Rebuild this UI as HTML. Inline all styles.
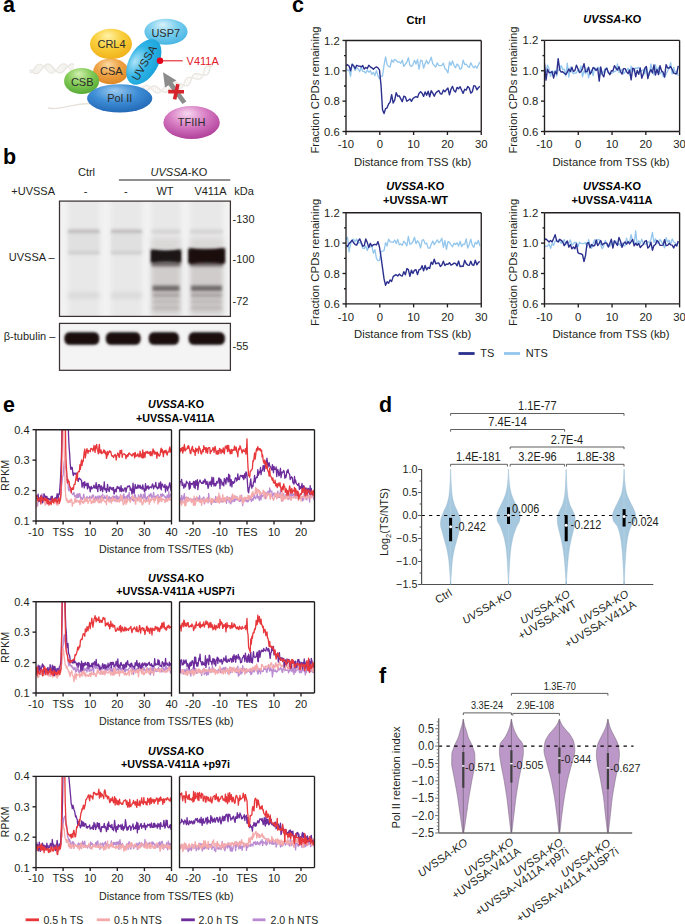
<!DOCTYPE html>
<html><head><meta charset="utf-8"><title>Figure</title>
<style>html,body{margin:0;padding:0;background:#fff;} svg{display:block;} text{font-family:"Liberation Sans", sans-serif;}</style>
</head><body>
<svg width="685" height="924" viewBox="0 0 685 924" font-family='"Liberation Sans", sans-serif'>
<defs><radialGradient id="gCRL4" cx="0.45" cy="0.35" r="0.75" fx="0.42" fy="0.22"><stop offset="0" stop-color="#fff2a8"/><stop offset="0.45" stop-color="#f9cf3c"/><stop offset="1" stop-color="#eeaa10"/></radialGradient><radialGradient id="gCSA" cx="0.45" cy="0.35" r="0.75" fx="0.42" fy="0.22"><stop offset="0" stop-color="#fbd9a0"/><stop offset="0.45" stop-color="#f0a447"/><stop offset="1" stop-color="#d9801a"/></radialGradient><radialGradient id="gCSB" cx="0.45" cy="0.35" r="0.75" fx="0.42" fy="0.22"><stop offset="0" stop-color="#d2f0b0"/><stop offset="0.45" stop-color="#86cc5a"/><stop offset="1" stop-color="#4aa22c"/></radialGradient><radialGradient id="gUSP7" cx="0.45" cy="0.35" r="0.75" fx="0.42" fy="0.22"><stop offset="0" stop-color="#d8f2fb"/><stop offset="0.45" stop-color="#7ccfee"/><stop offset="1" stop-color="#3aaee0"/></radialGradient><radialGradient id="gUVSSA" cx="0.45" cy="0.35" r="0.75" fx="0.42" fy="0.22"><stop offset="0" stop-color="#b0e4f8"/><stop offset="0.45" stop-color="#30b4e6"/><stop offset="1" stop-color="#149ed6"/></radialGradient><radialGradient id="gPOL" cx="0.45" cy="0.35" r="0.75" fx="0.42" fy="0.22"><stop offset="0" stop-color="#9ccbf0"/><stop offset="0.45" stop-color="#3f8ed6"/><stop offset="1" stop-color="#1b5fae"/></radialGradient><radialGradient id="gTFIIH" cx="0.45" cy="0.35" r="0.75" fx="0.42" fy="0.22"><stop offset="0" stop-color="#f8d8f0"/><stop offset="0.45" stop-color="#d77cc3"/><stop offset="1" stop-color="#a6308f"/></radialGradient><filter id="bl2" x="-30%" y="-80%" width="160%" height="260%"><feGaussianBlur stdDeviation="1.6"/></filter><filter id="bl1" x="-30%" y="-80%" width="160%" height="260%"><feGaussianBlur stdDeviation="1.2"/></filter><filter id="bl3" x="-30%" y="-80%" width="160%" height="260%"><feGaussianBlur stdDeviation="2.5"/></filter><clipPath id="cpb1"><rect x="59.5" y="201" width="171" height="115"/></clipPath><clipPath id="cpb2"><rect x="59.5" y="323.5" width="171" height="46.5"/></clipPath><clipPath id="cp1"><rect x="346.0" y="40.45" width="135.25" height="91.05"/></clipPath><clipPath id="cp2"><rect x="544.5" y="40.4" width="135.10000000000002" height="91.1"/></clipPath><clipPath id="cp3"><rect x="346.0" y="212.7" width="135.25" height="91.19999999999999"/></clipPath><clipPath id="cp4"><rect x="544.5" y="212.7" width="135.10000000000002" height="91.19999999999999"/></clipPath><clipPath id="cp5"><rect x="36.0" y="429.7" width="135.5" height="91.30000000000001"/></clipPath><clipPath id="cp6"><rect x="179.5" y="429.7" width="135.0" height="91.30000000000001"/></clipPath><clipPath id="cp7"><rect x="36.0" y="601.7" width="135.5" height="91.29999999999995"/></clipPath><clipPath id="cp8"><rect x="179.5" y="601.7" width="135.0" height="91.29999999999995"/></clipPath><clipPath id="cp9"><rect x="36.0" y="776.4" width="135.5" height="91.20000000000005"/></clipPath><clipPath id="cp10"><rect x="179.5" y="776.4" width="135.0" height="91.20000000000005"/></clipPath></defs>
<rect width="685" height="924" fill="#fff"/>
<text transform="translate(3 11.8) scale(0.95 1)" font-size="22.6" font-weight="bold" fill="#000">a</text>
<line x1="30.00" y1="69.50" x2="30.25" y2="73.21" stroke="#ebe7e0" stroke-width="0.6"/>
<line x1="31.20" y1="70.75" x2="31.30" y2="72.20" stroke="#ebe7e0" stroke-width="0.6"/>
<line x1="32.39" y1="71.89" x2="32.33" y2="70.96" stroke="#ebe7e0" stroke-width="0.6"/>
<line x1="33.56" y1="72.81" x2="33.36" y2="69.58" stroke="#ebe7e0" stroke-width="0.6"/>
<line x1="34.70" y1="73.44" x2="34.39" y2="68.18" stroke="#ebe7e0" stroke-width="0.6"/>
<line x1="35.83" y1="73.72" x2="35.44" y2="66.87" stroke="#ebe7e0" stroke-width="0.6"/>
<line x1="36.93" y1="73.61" x2="36.50" y2="65.76" stroke="#ebe7e0" stroke-width="0.6"/>
<line x1="38.01" y1="73.12" x2="37.58" y2="64.93" stroke="#ebe7e0" stroke-width="0.6"/>
<line x1="39.08" y1="72.28" x2="38.69" y2="64.45" stroke="#ebe7e0" stroke-width="0.6"/>
<line x1="40.13" y1="71.17" x2="39.81" y2="64.36" stroke="#ebe7e0" stroke-width="0.6"/>
<line x1="41.18" y1="69.87" x2="40.95" y2="64.65" stroke="#ebe7e0" stroke-width="0.6"/>
<line x1="42.24" y1="68.49" x2="42.10" y2="65.31" stroke="#ebe7e0" stroke-width="0.6"/>
<line x1="43.30" y1="67.14" x2="43.27" y2="66.26" stroke="#ebe7e0" stroke-width="0.6"/>
<line x1="44.37" y1="65.93" x2="44.43" y2="67.43" stroke="#ebe7e0" stroke-width="0.6"/>
<line x1="45.46" y1="64.96" x2="45.60" y2="68.71" stroke="#ebe7e0" stroke-width="0.6"/>
<line x1="46.56" y1="64.30" x2="46.75" y2="69.99" stroke="#ebe7e0" stroke-width="0.6"/>
<line x1="47.68" y1="64.02" x2="47.90" y2="71.17" stroke="#ebe7e0" stroke-width="0.6"/>
<line x1="48.81" y1="64.13" x2="49.04" y2="72.12" stroke="#ebe7e0" stroke-width="0.6"/>
<line x1="49.95" y1="64.61" x2="50.16" y2="72.79" stroke="#ebe7e0" stroke-width="0.6"/>
<line x1="51.09" y1="65.43" x2="51.28" y2="73.09" stroke="#ebe7e0" stroke-width="0.6"/>
<line x1="52.23" y1="66.52" x2="52.38" y2="73.01" stroke="#ebe7e0" stroke-width="0.6"/>
<line x1="53.38" y1="67.77" x2="53.47" y2="72.56" stroke="#ebe7e0" stroke-width="0.6"/>
<line x1="54.52" y1="69.09" x2="54.56" y2="71.76" stroke="#ebe7e0" stroke-width="0.6"/>
<line x1="55.65" y1="70.35" x2="55.65" y2="70.68" stroke="#ebe7e0" stroke-width="0.6"/>
<line x1="56.77" y1="71.46" x2="56.75" y2="69.42" stroke="#ebe7e0" stroke-width="0.6"/>
<line x1="57.89" y1="72.31" x2="57.84" y2="68.07" stroke="#ebe7e0" stroke-width="0.6"/>
<line x1="59.00" y1="72.83" x2="58.95" y2="66.75" stroke="#ebe7e0" stroke-width="0.6"/>
<line x1="60.10" y1="72.98" x2="60.06" y2="65.58" stroke="#ebe7e0" stroke-width="0.6"/>
<line x1="61.21" y1="72.75" x2="61.18" y2="64.64" stroke="#ebe7e0" stroke-width="0.6"/>
<line x1="62.31" y1="72.15" x2="62.30" y2="64.03" stroke="#ebe7e0" stroke-width="0.6"/>
<line x1="63.42" y1="71.23" x2="63.42" y2="63.78" stroke="#ebe7e0" stroke-width="0.6"/>
<line x1="64.53" y1="70.07" x2="64.55" y2="63.92" stroke="#ebe7e0" stroke-width="0.6"/>
<line x1="65.64" y1="68.78" x2="65.67" y2="64.44" stroke="#ebe7e0" stroke-width="0.6"/>
<line x1="66.77" y1="67.45" x2="66.78" y2="65.30" stroke="#ebe7e0" stroke-width="0.6"/>
<line x1="67.90" y1="66.21" x2="67.89" y2="66.42" stroke="#ebe7e0" stroke-width="0.6"/>
<line x1="69.03" y1="65.15" x2="69.00" y2="67.71" stroke="#ebe7e0" stroke-width="0.6"/>
<line x1="70.16" y1="64.37" x2="70.09" y2="69.06" stroke="#ebe7e0" stroke-width="0.6"/>
<line x1="71.29" y1="63.94" x2="71.18" y2="70.36" stroke="#ebe7e0" stroke-width="0.6"/>
<line x1="72.42" y1="63.89" x2="72.27" y2="71.51" stroke="#ebe7e0" stroke-width="0.6"/>
<line x1="73.54" y1="64.22" x2="73.36" y2="72.39" stroke="#ebe7e0" stroke-width="0.6"/>
<path d="M30.00,69.50 L30.60,70.13 L31.20,70.75 L31.80,71.34 L32.39,71.89 L32.98,72.38 L33.56,72.81 L34.13,73.17 L34.70,73.44 L35.27,73.63 L35.83,73.72 L36.38,73.71 L36.93,73.61 L37.47,73.41 L38.01,73.12 L38.54,72.74 L39.08,72.28 L39.61,71.76 L40.13,71.17 L40.66,70.54 L41.18,69.87 L41.71,69.19 L42.24,68.49 L42.77,67.81 L43.30,67.14 L43.84,66.51 L44.37,65.93 L44.92,65.41 L45.46,64.96 L46.01,64.59 L46.56,64.30 L47.12,64.11 L47.68,64.02 L48.24,64.02 L48.81,64.13 L49.38,64.32 L49.95,64.61 L50.52,64.98 L51.09,65.43 L51.66,65.95 L52.23,66.52 L52.81,67.13 L53.38,67.77 L53.95,68.43 L54.52,69.09 L55.08,69.73 L55.65,70.35 L56.21,70.93 L56.77,71.46 L57.33,71.92 L57.89,72.31 L58.45,72.61 L59.00,72.83 L59.55,72.95 L60.10,72.98 L60.66,72.91 L61.21,72.75 L61.76,72.49 L62.31,72.15 L62.86,71.72 L63.42,71.23 L63.97,70.68 L64.53,70.07 L65.08,69.44 L65.64,68.78 L66.20,68.11 L66.77,67.45 L67.33,66.81 L67.90,66.21 L68.46,65.65 L69.03,65.15 L69.59,64.72 L70.16,64.37 L70.73,64.11 L71.29,63.94 L71.86,63.86 L72.42,63.89 L72.98,64.01 L73.54,64.22 L74.09,64.53" fill="none" stroke="#e8e5df" stroke-width="1.3"/>
<path d="M30.25,73.21 L30.78,72.74 L31.30,72.20 L31.81,71.60 L32.33,70.96 L32.84,70.28 L33.36,69.58 L33.88,68.88 L34.39,68.18 L34.92,67.51 L35.44,66.87 L35.97,66.29 L36.50,65.76 L37.04,65.30 L37.58,64.93 L38.13,64.64 L38.69,64.45 L39.25,64.35 L39.81,64.36 L40.38,64.46 L40.95,64.65 L41.52,64.94 L42.10,65.31 L42.68,65.75 L43.27,66.26 L43.85,66.82 L44.43,67.43 L45.01,68.06 L45.60,68.71 L46.18,69.36 L46.75,69.99 L47.33,70.60 L47.90,71.17 L48.47,71.68 L49.04,72.12 L49.60,72.50 L50.16,72.79 L50.72,72.99 L51.28,73.09 L51.83,73.10 L52.38,73.01 L52.93,72.83 L53.47,72.56 L54.02,72.20 L54.56,71.76 L55.11,71.25 L55.65,70.68 L56.20,70.06 L56.75,69.42 L57.30,68.75 L57.84,68.07 L58.40,67.40 L58.95,66.75 L59.50,66.14 L60.06,65.58 L60.62,65.08 L61.18,64.64 L61.74,64.29 L62.30,64.03 L62.86,63.85 L63.42,63.78 L63.98,63.80 L64.55,63.92 L65.11,64.14 L65.67,64.44 L66.23,64.83 L66.78,65.30 L67.34,65.83 L67.89,66.42 L68.45,67.05 L69.00,67.71 L69.54,68.39 L70.09,69.06 L70.64,69.73 L71.18,70.36 L71.73,70.96 L72.27,71.51 L72.81,71.99 L73.36,72.39 L73.91,72.72" fill="none" stroke="#ece9e3" stroke-width="1.3"/>
<line x1="138.00" y1="87.00" x2="137.20" y2="89.80" stroke="#ebe7e0" stroke-width="0.6"/>
<line x1="139.28" y1="89.19" x2="139.35" y2="88.93" stroke="#ebe7e0" stroke-width="0.6"/>
<line x1="140.77" y1="90.90" x2="141.53" y2="87.63" stroke="#ebe7e0" stroke-width="0.6"/>
<line x1="142.50" y1="91.81" x2="143.60" y2="86.32" stroke="#ebe7e0" stroke-width="0.6"/>
<line x1="144.42" y1="91.77" x2="145.49" y2="85.44" stroke="#ebe7e0" stroke-width="0.6"/>
<line x1="146.45" y1="90.86" x2="147.21" y2="85.31" stroke="#ebe7e0" stroke-width="0.6"/>
<line x1="148.46" y1="89.39" x2="148.82" y2="86.03" stroke="#ebe7e0" stroke-width="0.6"/>
<line x1="150.39" y1="87.77" x2="150.41" y2="87.49" stroke="#ebe7e0" stroke-width="0.6"/>
<line x1="152.20" y1="86.47" x2="152.06" y2="89.36" stroke="#ebe7e0" stroke-width="0.6"/>
<line x1="153.92" y1="85.85" x2="153.82" y2="91.19" stroke="#ebe7e0" stroke-width="0.6"/>
<line x1="155.63" y1="86.12" x2="155.70" y2="92.52" stroke="#ebe7e0" stroke-width="0.6"/>
<line x1="157.39" y1="87.20" x2="157.62" y2="92.99" stroke="#ebe7e0" stroke-width="0.6"/>
<line x1="159.27" y1="88.82" x2="159.52" y2="92.45" stroke="#ebe7e0" stroke-width="0.6"/>
<line x1="161.27" y1="90.52" x2="161.32" y2="91.01" stroke="#ebe7e0" stroke-width="0.6"/>
<line x1="163.33" y1="91.79" x2="162.99" y2="89.00" stroke="#ebe7e0" stroke-width="0.6"/>
<line x1="165.37" y1="92.22" x2="164.57" y2="86.93" stroke="#ebe7e0" stroke-width="0.6"/>
<line x1="167.27" y1="91.60" x2="166.14" y2="85.29" stroke="#ebe7e0" stroke-width="0.6"/>
<line x1="168.97" y1="90.01" x2="167.83" y2="84.49" stroke="#ebe7e0" stroke-width="0.6"/>
<line x1="170.48" y1="87.78" x2="169.75" y2="84.66" stroke="#ebe7e0" stroke-width="0.6"/>
<line x1="171.89" y1="85.45" x2="171.94" y2="85.65" stroke="#ebe7e0" stroke-width="0.6"/>
<line x1="173.36" y1="83.59" x2="174.35" y2="87.04" stroke="#ebe7e0" stroke-width="0.6"/>
<line x1="175.06" y1="82.62" x2="176.82" y2="88.23" stroke="#ebe7e0" stroke-width="0.6"/>
<line x1="177.12" y1="82.68" x2="179.15" y2="88.67" stroke="#ebe7e0" stroke-width="0.6"/>
<line x1="179.54" y1="83.58" x2="181.15" y2="88.00" stroke="#ebe7e0" stroke-width="0.6"/>
<line x1="182.21" y1="84.81" x2="182.75" y2="86.19" stroke="#ebe7e0" stroke-width="0.6"/>
<line x1="184.87" y1="85.70" x2="183.99" y2="83.59" stroke="#ebe7e0" stroke-width="0.6"/>
<line x1="187.23" y1="85.67" x2="185.10" y2="80.82" stroke="#ebe7e0" stroke-width="0.6"/>
<line x1="189.09" y1="84.40" x2="186.39" y2="78.58" stroke="#ebe7e0" stroke-width="0.6"/>
<line x1="190.43" y1="82.02" x2="188.16" y2="77.39" stroke="#ebe7e0" stroke-width="0.6"/>
<line x1="191.42" y1="79.05" x2="190.55" y2="77.35" stroke="#ebe7e0" stroke-width="0.6"/>
<line x1="192.45" y1="76.24" x2="193.46" y2="78.12" stroke="#ebe7e0" stroke-width="0.6"/>
<line x1="193.93" y1="74.32" x2="196.55" y2="79.00" stroke="#ebe7e0" stroke-width="0.6"/>
<line x1="196.13" y1="73.64" x2="199.36" y2="79.16" stroke="#ebe7e0" stroke-width="0.6"/>
<line x1="199.05" y1="74.03" x2="201.50" y2="78.05" stroke="#ebe7e0" stroke-width="0.6"/>
<line x1="202.34" y1="74.82" x2="202.83" y2="75.59" stroke="#ebe7e0" stroke-width="0.6"/>
<line x1="205.43" y1="75.09" x2="203.60" y2="72.30" stroke="#ebe7e0" stroke-width="0.6"/>
<line x1="207.79" y1="74.12" x2="204.37" y2="69.08" stroke="#ebe7e0" stroke-width="0.6"/>
<line x1="209.19" y1="71.69" x2="205.78" y2="66.82" stroke="#ebe7e0" stroke-width="0.6"/>
<line x1="209.88" y1="68.27" x2="208.20" y2="65.95" stroke="#ebe7e0" stroke-width="0.6"/>
<line x1="210.51" y1="64.83" x2="211.53" y2="66.20" stroke="#ebe7e0" stroke-width="0.6"/>
<path d="M138.00,87.00 L138.62,88.12 L139.28,89.19 L139.99,90.13 L140.77,90.90 L141.61,91.47 L142.50,91.81 L143.44,91.91 L144.42,91.77 L145.43,91.41 L146.45,90.86 L147.46,90.17 L148.46,89.39 L149.44,88.56 L150.39,87.77 L151.31,87.05 L152.20,86.47 L153.07,86.06 L153.92,85.85 L154.77,85.87 L155.63,86.12 L156.50,86.57 L157.39,87.20 L158.32,87.97 L159.27,88.82 L160.26,89.69 L161.27,90.52 L162.30,91.24 L163.33,91.79 L164.36,92.13 L165.37,92.22 L166.34,92.04 L167.27,91.60 L168.15,90.91 L168.97,90.01 L169.75,88.94 L170.48,87.78 L171.19,86.59 L171.89,85.45 L172.61,84.43 L173.36,83.59 L174.17,82.97 L175.06,82.62 L176.04,82.52 L177.12,82.68 L178.29,83.05 L179.54,83.58 L180.86,84.19 L182.21,84.81 L183.56,85.34 L184.87,85.70 L186.10,85.83 L187.23,85.67 L188.23,85.19 L189.09,84.40 L189.82,83.33 L190.43,82.02 L190.95,80.56 L191.42,79.05 L191.90,77.57 L192.45,76.24 L193.11,75.14 L193.93,74.32 L194.93,73.83 L196.13,73.64 L197.52,73.74 L199.05,74.03 L200.68,74.43 L202.34,74.82 L203.94,75.07 L205.43,75.09 L206.72,74.79 L207.79,74.12 L208.60,73.07 L209.19,71.69 L209.59,70.05 L209.88,68.27 L210.15,66.49 L210.51,64.83 L211.06,63.42" fill="none" stroke="#e8e5df" stroke-width="1.3"/>
<path d="M137.20,89.80 L138.25,89.44 L139.35,88.93 L140.44,88.31 L141.53,87.63 L142.58,86.94 L143.60,86.32 L144.57,85.80 L145.49,85.44 L146.37,85.27 L147.21,85.31 L148.02,85.57 L148.82,86.03 L149.61,86.69 L150.41,87.49 L151.22,88.40 L152.06,89.36 L152.93,90.31 L153.82,91.19 L154.75,91.94 L155.70,92.52 L156.66,92.87 L157.62,92.99 L158.58,92.84 L159.52,92.45 L160.43,91.82 L161.32,91.01 L162.17,90.05 L162.99,89.00 L163.78,87.94 L164.57,86.93 L165.35,86.03 L166.14,85.29 L166.96,84.77 L167.83,84.49 L168.76,84.46 L169.75,84.66 L170.82,85.08 L171.94,85.65 L173.13,86.33 L174.35,87.04 L175.58,87.70 L176.82,88.23 L178.01,88.58 L179.15,88.67 L180.20,88.49 L181.15,88.00 L182.00,87.22 L182.75,86.19 L183.40,84.95 L183.99,83.59 L184.54,82.18 L185.10,80.82 L185.70,79.60 L186.39,78.58 L187.20,77.84 L188.16,77.39 L189.28,77.23 L190.55,77.35 L191.96,77.67 L193.46,78.12 L195.01,78.60 L196.55,79.00 L198.02,79.22 L199.36,79.16 L200.53,78.79 L201.50,78.05 L202.26,76.97 L202.83,75.59 L203.25,74.00 L203.60,72.30 L203.95,70.62 L204.37,69.08 L204.97,67.79 L205.78,66.82 L206.86,66.21 L208.20,65.95 L209.78,65.98 L211.53,66.20 L213.36,66.48" fill="none" stroke="#ece9e3" stroke-width="1.3"/>
<path d="M48,108 C60,110.5 72,103.5 90,103.5" fill="none" stroke="#e6e2da" stroke-width="1.5"/>
<ellipse cx="111" cy="44" rx="21" ry="15.2" fill="url(#gCRL4)"/>
<ellipse cx="166" cy="31.8" rx="21.6" ry="13" fill="url(#gUSP7)"/>
<ellipse cx="110.8" cy="71.4" rx="17.5" ry="12.8" fill="url(#gCSA)"/>
<ellipse cx="81.6" cy="81" rx="17.5" ry="13" fill="url(#gCSB)"/>
<ellipse cx="143.8" cy="62" rx="24.9" ry="14.4" fill="url(#gUVSSA)" transform="rotate(-60 143.8 62)"/>
<ellipse cx="119.7" cy="98.4" rx="32.6" ry="14.2" fill="url(#gPOL)"/>
<ellipse cx="191.6" cy="122.5" rx="28.2" ry="16.6" fill="url(#gTFIIH)"/>
<text x="111.50" y="48.40" font-size="11" text-anchor="middle" fill="#2b2b2b" >CRL4</text>
<text x="165.80" y="36.60" font-size="11" text-anchor="middle" fill="#2b2b2b" >USP7</text>
<text x="111.30" y="75.30" font-size="11" text-anchor="middle" fill="#2b2b2b" >CSA</text>
<text x="82.20" y="85.50" font-size="11" text-anchor="middle" fill="#2b2b2b" >CSB</text>
<text x="119.80" y="101.50" font-size="11" text-anchor="middle" fill="#2b2b2b" >Pol II</text>
<text x="191.60" y="126.20" font-size="11" text-anchor="middle" fill="#2b2b2b" >TFIIH</text>
<text x="147.60" y="64.90" font-size="11.3" text-anchor="middle" fill="#2b2b2b" transform="rotate(-60 147.60 64.90)" >UVSSA</text>
<g fill="#8c8c8c">
<polygon points="163,72.3 176.5,80.5 172.6,82.6 186.4,101.4 182.4,104 168.6,85.2 165,87.6"/>
</g>
<g stroke="#d7232b" stroke-width="3.6" stroke-linecap="butt">
<line x1="168.2" y1="91.6" x2="184" y2="91.8"/><line x1="177.9" y1="84.2" x2="174.6" y2="99.3"/>
</g>
<line x1="160.00" y1="60.80" x2="182.70" y2="60.80" stroke="#e3202a" stroke-width="1.1" />
<circle cx="160" cy="60.8" r="3.2" fill="#e3001b"/>
<text x="186.60" y="64.70" font-size="11" text-anchor="start" fill="#e3202a" >V411A</text>
<text transform="translate(3 163.5) scale(0.95 1)" font-size="22.6" font-weight="bold" fill="#000">b</text>
<text x="86.50" y="176.00" font-size="11" text-anchor="middle" fill="#231f20" >Ctrl</text>
<text x="179" y="176" font-size="11" text-anchor="middle" fill="#231f20"><tspan font-style="italic">UVSSA</tspan>-KO</text>
<line x1="118.90" y1="180.00" x2="230.30" y2="180.00" stroke="#231f20" stroke-width="1" />
<text x="11.30" y="194.80" font-size="11" text-anchor="start" fill="#231f20" >+UVSSA</text>
<text x="85.50" y="194.80" font-size="11" text-anchor="middle" fill="#231f20" >-</text>
<text x="125.80" y="194.80" font-size="11" text-anchor="middle" fill="#231f20" >-</text>
<text x="165.00" y="194.80" font-size="11" text-anchor="middle" fill="#231f20" >WT</text>
<text x="210.50" y="194.80" font-size="11" text-anchor="middle" fill="#231f20" >V411A</text>
<text x="234.20" y="194.80" font-size="11" text-anchor="start" fill="#231f20" >kDa</text>
<text x="232.50" y="223.20" font-size="11" text-anchor="start" fill="#231f20" >-130</text>
<text x="232.50" y="262.80" font-size="11" text-anchor="start" fill="#231f20" >-100</text>
<text x="232.50" y="304.80" font-size="11" text-anchor="start" fill="#231f20" >-72</text>
<text x="232.50" y="350.10" font-size="11" text-anchor="start" fill="#231f20" >-55</text>
<text x="8.80" y="260.50" font-size="11" text-anchor="start" fill="#231f20" >UVSSA –</text>
<text x="3.80" y="340.00" font-size="11" text-anchor="start" fill="#231f20" >β-tubulin –</text>
<rect x="59.5" y="201.1" width="170.9" height="115.3" fill="#f2f2f2"/>
<g clip-path="url(#cpb1)">
<rect x="68" y="196" width="31.599999999999994" height="125" fill="#e8e8e8" filter="url(#bl3)"/>
<rect x="111" y="196" width="31" height="125" fill="#e8e8e8" filter="url(#bl3)"/>
<rect x="151.5" y="196" width="29.0" height="125" fill="#e8e8e8" filter="url(#bl3)"/>
<rect x="190" y="196" width="33" height="125" fill="#e8e8e8" filter="url(#bl3)"/>
<rect x="68" y="229.4" width="31.599999999999994" height="4.2" fill="#8a8282" opacity="0.42" filter="url(#bl2)"/>
<rect x="111" y="229.4" width="31" height="4.2" fill="#8a8282" opacity="0.42" filter="url(#bl2)"/>
<rect x="151.5" y="229.4" width="29.0" height="4.2" fill="#8a8282" opacity="0.2" filter="url(#bl2)"/>
<rect x="190" y="229.4" width="33" height="4.2" fill="#8a8282" opacity="0.2" filter="url(#bl2)"/>
<rect x="68" y="234" width="31.599999999999994" height="18" fill="#d8d8d8" opacity="0.5" filter="url(#bl2)"/>
<rect x="68" y="251.2" width="31.599999999999994" height="3.4" fill="#a09a9a" opacity="0.32" filter="url(#bl2)"/>
<rect x="68" y="293" width="31.599999999999994" height="5" fill="#b0aaaa" opacity="0.3" filter="url(#bl3)"/>
<rect x="111" y="234" width="31" height="18" fill="#d8d8d8" opacity="0.5" filter="url(#bl2)"/>
<rect x="111" y="251.2" width="31" height="3.4" fill="#a09a9a" opacity="0.32" filter="url(#bl2)"/>
<rect x="111" y="293" width="31" height="5" fill="#b0aaaa" opacity="0.3" filter="url(#bl3)"/>
<rect x="151.5" y="238" width="29.0" height="14" fill="#d0cccc" opacity="0.6" filter="url(#bl3)"/>
<rect x="151.5" y="262" width="29.0" height="52" fill="#cac5c5" opacity="0.8" filter="url(#bl3)"/>
<rect x="151.5" y="260.5" width="29.0" height="6" fill="#4a4040" opacity="0.7" filter="url(#bl2)"/>
<rect x="152.5" y="285.6" width="27.0" height="5.4" fill="#4a4242" opacity="0.7" filter="url(#bl2)"/>
<rect x="152.5" y="293" width="27.0" height="4.4" fill="#6a6262" opacity="0.35" filter="url(#bl2)"/>
<rect x="152.5" y="300" width="27.0" height="3.5" fill="#7a7272" opacity="0.2" filter="url(#bl2)"/>
<rect x="152.5" y="306" width="27.0" height="3.5" fill="#7a7272" opacity="0.2" filter="url(#bl2)"/>
<rect x="190" y="238" width="33" height="14" fill="#d0cccc" opacity="0.6" filter="url(#bl3)"/>
<rect x="190" y="262" width="33" height="52" fill="#cac5c5" opacity="0.8" filter="url(#bl3)"/>
<rect x="190" y="260.5" width="33" height="6" fill="#4a4040" opacity="0.7" filter="url(#bl2)"/>
<rect x="191" y="285.6" width="31" height="5.4" fill="#4a4242" opacity="0.7" filter="url(#bl2)"/>
<rect x="191" y="293" width="31" height="4.4" fill="#6a6262" opacity="0.35" filter="url(#bl2)"/>
<rect x="191" y="300" width="31" height="3.5" fill="#7a7272" opacity="0.2" filter="url(#bl2)"/>
<rect x="191" y="306" width="31" height="3.5" fill="#7a7272" opacity="0.2" filter="url(#bl2)"/>
<path d="M150.8,249.6 Q166,252 181.2,249.4 L181.2,262.4 Q166,260.5 150.8,262.6 Z" fill="#1e1414" filter="url(#bl2)"/>
<path d="M188.4,248.2 Q206,250.6 225,248 L225,263.6 Q206,261.5 188.4,263.8 Z" fill="#1a1010" filter="url(#bl2)"/>
<path d="M152,250.8 Q166,252.8 180,250.6 L180,261 Q166,259.5 152,261.2 Z" fill="#1e1414" filter="url(#bl1)"/>
<path d="M189.6,249.4 Q206,251.8 223.8,249.2 L223.8,262.4 Q206,260.5 189.6,262.6 Z" fill="#1a1010" filter="url(#bl1)"/>
</g>
<rect x="59.5" y="201.1" width="170.9" height="115.3" fill="none" stroke="#3b3333" stroke-width="1.25"/>
<rect x="59.5" y="323.4" width="170.9" height="46.9" fill="#f4f4f4"/>
<g clip-path="url(#cpb2)">
<rect x="64.7" y="332.6" width="34.3" height="12" rx="5" fill="#1a1010" filter="url(#bl2)"/>
<rect x="65.7" y="333.6" width="32.3" height="10" rx="4" fill="#1a1010" filter="url(#bl1)"/>
<rect x="106.1" y="332.6" width="34.20000000000002" height="12" rx="5" fill="#1a1010" filter="url(#bl2)"/>
<rect x="107.1" y="333.6" width="32.20000000000002" height="10" rx="4" fill="#1a1010" filter="url(#bl1)"/>
<rect x="149.0" y="332.6" width="29.69999999999999" height="12" rx="5" fill="#1a1010" filter="url(#bl2)"/>
<rect x="150.0" y="333.6" width="27.69999999999999" height="10" rx="4" fill="#1a1010" filter="url(#bl1)"/>
<rect x="188.9" y="332.6" width="35.69999999999999" height="12" rx="5" fill="#1a1010" filter="url(#bl2)"/>
<rect x="189.9" y="333.6" width="33.69999999999999" height="10" rx="4" fill="#1a1010" filter="url(#bl1)"/>
</g>
<rect x="59.5" y="323.4" width="170.9" height="46.9" fill="none" stroke="#3b3333" stroke-width="1.25"/>
<text transform="translate(292.0 11.9) scale(0.95 1)" font-size="22.6" font-weight="bold" fill="#000">c</text>
<g clip-path="url(#cp1)" fill="none" stroke-linejoin="round">
<path d="M346.00,67.95 L347.52,70.28 L349.04,70.12 L350.56,76.45 L352.09,63.74 L353.61,65.90 L355.13,70.54 L356.65,67.37 L358.17,69.04 L359.69,71.74 L361.22,67.26 L362.74,71.34 L364.26,71.57 L365.78,73.15 L367.30,69.87 L368.82,72.24 L370.34,70.74 L371.87,74.41 L373.39,72.35 L374.91,75.61 L376.43,70.52 L377.95,75.85 L379.47,78.77 L381.00,76.26 L382.52,75.99 L384.04,65.08 L385.56,56.82 L387.08,64.56 L388.60,66.35 L390.13,67.03 L391.65,59.95 L393.17,62.17 L394.69,59.33 L396.21,60.46 L397.73,62.06 L399.25,61.89 L400.78,63.32 L402.30,60.21 L403.82,66.33 L405.34,64.23 L406.86,62.26 L408.38,57.58 L409.91,65.41 L411.43,66.42 L412.95,64.90 L414.47,60.33 L415.99,64.09 L417.51,59.45 L419.03,69.26 L420.56,60.25 L422.08,60.64 L423.60,68.19 L425.12,63.52 L426.64,60.40 L428.16,63.92 L429.69,61.26 L431.21,57.19 L432.73,63.67 L434.25,65.45 L435.77,67.04 L437.29,62.84 L438.82,65.51 L440.34,65.55 L441.86,65.43 L443.38,63.24 L444.90,68.55 L446.42,70.06 L447.94,72.88 L449.47,61.85 L450.99,65.26 L452.51,60.91 L454.03,65.52 L455.55,67.74 L457.07,64.04 L458.60,65.72 L460.12,69.30 L461.64,68.17 L463.16,60.13 L464.68,64.41 L466.20,64.23 L467.72,66.33 L469.25,67.58 L470.77,62.78 L472.29,65.81 L473.81,67.79 L475.33,65.90 L476.85,68.24 L478.38,64.91 L479.90,62.06" stroke="#93c6ec" stroke-width="1.3"/>
<path d="M346.00,66.01 L347.52,64.64 L349.04,66.05 L350.56,70.76 L352.09,64.40 L353.61,65.72 L355.13,68.55 L356.65,65.33 L358.17,65.96 L359.69,66.16 L361.22,66.92 L362.74,65.43 L364.26,69.13 L365.78,67.48 L367.30,68.40 L368.82,65.28 L370.34,66.89 L371.87,67.85 L373.39,69.26 L374.91,67.75 L376.43,66.98 L377.95,67.80 L379.47,69.85 L381.00,85.03 L382.52,109.80 L384.04,113.58 L385.56,108.63 L387.08,107.81 L388.60,104.01 L390.13,102.08 L391.65,94.71 L393.17,103.01 L394.69,100.13 L396.21,92.67 L397.73,96.28 L399.25,95.82 L400.78,98.81 L402.30,101.67 L403.82,96.23 L405.34,96.91 L406.86,101.27 L408.38,100.22 L409.91,98.97 L411.43,101.33 L412.95,98.55 L414.47,97.37 L415.99,96.68 L417.51,97.39 L419.03,93.37 L420.56,91.74 L422.08,93.27 L423.60,96.44 L425.12,91.86 L426.64,95.30 L428.16,91.20 L429.69,96.72 L431.21,90.74 L432.73,93.03 L434.25,96.16 L435.77,93.06 L437.29,91.59 L438.82,90.55 L440.34,93.75 L441.86,93.93 L443.38,90.04 L444.90,91.84 L446.42,89.70 L447.94,88.07 L449.47,94.89 L450.99,89.29 L452.51,86.37 L454.03,90.64 L455.55,92.00 L457.07,87.37 L458.60,88.69 L460.12,86.72 L461.64,90.18 L463.16,93.34 L464.68,89.26 L466.20,90.11 L467.72,86.47 L469.25,88.01 L470.77,93.14 L472.29,91.74 L473.81,85.61 L475.33,86.06 L476.85,89.73 L478.38,87.75 L479.90,86.33" stroke="#2b2f8e" stroke-width="1.4"/>
</g>
<path d="M346.0,40.45 L346.0,131.5 L481.25,131.5" fill="none" stroke="#231f20" stroke-width="1.35"/>
<line x1="346.00" y1="40.45" x2="481.25" y2="40.45" stroke="#231f20" stroke-width="1.35" />
<line x1="481.25" y1="40.45" x2="481.25" y2="131.50" stroke="#231f20" stroke-width="1.35" />
<line x1="342.50" y1="131.50" x2="346.00" y2="131.50" stroke="#231f20" stroke-width="1.35" />
<text x="339.70" y="135.57" font-size="11.3" text-anchor="end" fill="#231f20" >0.6</text>
<line x1="342.50" y1="101.15" x2="346.00" y2="101.15" stroke="#231f20" stroke-width="1.35" />
<text x="339.70" y="105.22" font-size="11.3" text-anchor="end" fill="#231f20" >0.8</text>
<line x1="342.50" y1="70.80" x2="346.00" y2="70.80" stroke="#231f20" stroke-width="1.35" />
<text x="339.70" y="74.87" font-size="11.3" text-anchor="end" fill="#231f20" >1.0</text>
<line x1="342.50" y1="40.45" x2="346.00" y2="40.45" stroke="#231f20" stroke-width="1.35" />
<text x="339.70" y="44.52" font-size="11.3" text-anchor="end" fill="#231f20" >1.2</text>
<line x1="344.00" y1="116.33" x2="346.00" y2="116.33" stroke="#231f20" stroke-width="1.35" />
<line x1="344.00" y1="85.97" x2="346.00" y2="85.97" stroke="#231f20" stroke-width="1.35" />
<line x1="344.00" y1="55.62" x2="346.00" y2="55.62" stroke="#231f20" stroke-width="1.35" />
<line x1="346.00" y1="131.50" x2="346.00" y2="135.00" stroke="#231f20" stroke-width="1.35" />
<text x="346.00" y="148.30" font-size="11.3" text-anchor="middle" fill="#231f20" >-10</text>
<line x1="379.81" y1="131.50" x2="379.81" y2="135.00" stroke="#231f20" stroke-width="1.35" />
<text x="379.81" y="148.30" font-size="11.3" text-anchor="middle" fill="#231f20" >0</text>
<line x1="413.62" y1="131.50" x2="413.62" y2="135.00" stroke="#231f20" stroke-width="1.35" />
<text x="413.62" y="148.30" font-size="11.3" text-anchor="middle" fill="#231f20" >10</text>
<line x1="447.44" y1="131.50" x2="447.44" y2="135.00" stroke="#231f20" stroke-width="1.35" />
<text x="447.44" y="148.30" font-size="11.3" text-anchor="middle" fill="#231f20" >20</text>
<line x1="481.25" y1="131.50" x2="481.25" y2="135.00" stroke="#231f20" stroke-width="1.35" />
<text x="481.25" y="148.30" font-size="11.3" text-anchor="middle" fill="#231f20" >30</text>
<text x="412.62" y="165.70" font-size="11.3" text-anchor="middle" fill="#231f20" >Distance from TSS (kb)</text>
<text x="318.70" y="89.97" font-size="11.4" text-anchor="middle" fill="#231f20" transform="rotate(-90 318.70 89.97)" >Fraction CPDs remaining</text>
<g clip-path="url(#cp2)" fill="none" stroke-linejoin="round">
<path d="M544.50,72.94 L546.02,71.35 L547.54,65.21 L549.06,68.56 L550.58,76.25 L552.10,70.78 L553.62,72.85 L555.14,70.27 L556.66,76.14 L558.18,69.96 L559.70,69.98 L561.22,65.50 L562.74,69.71 L564.26,69.06 L565.78,75.75 L567.30,63.24 L568.82,77.17 L570.34,67.09 L571.86,71.87 L573.38,73.71 L574.90,72.96 L576.42,73.01 L577.94,69.50 L579.46,71.13 L580.98,65.81 L582.50,76.88 L584.02,70.78 L585.54,73.75 L587.06,68.17 L588.58,77.84 L590.10,71.91 L591.62,70.06 L593.14,75.72 L594.66,67.48 L596.18,70.17 L597.70,67.40 L599.22,67.56 L600.74,74.04 L602.26,73.43 L603.78,71.45 L605.29,68.27 L606.81,67.92 L608.33,73.14 L609.85,72.79 L611.37,73.43 L612.89,72.72 L614.41,71.56 L615.93,71.21 L617.45,63.89 L618.97,72.46 L620.49,71.73 L622.01,69.23 L623.53,73.95 L625.05,72.00 L626.57,70.72 L628.09,68.18 L629.61,75.16 L631.13,66.19 L632.65,71.94 L634.17,70.20 L635.69,67.94 L637.21,68.56 L638.73,67.23 L640.25,70.19 L641.77,70.83 L643.29,69.71 L644.81,74.09 L646.33,66.71 L647.85,73.36 L649.37,74.98 L650.89,63.90 L652.41,71.22 L653.93,74.71 L655.45,64.58 L656.97,71.87 L658.49,67.22 L660.01,73.54 L661.53,71.60 L663.05,76.41 L664.57,77.14 L666.09,74.03 L667.61,71.03 L669.13,68.10 L670.65,62.66 L672.17,74.21 L673.69,67.40 L675.21,72.79 L676.73,71.28 L678.25,75.71" stroke="#93c6ec" stroke-width="1.3"/>
<path d="M544.50,63.33 L546.02,80.08 L547.54,69.24 L549.06,72.84 L550.58,72.42 L552.10,71.55 L553.62,78.13 L555.14,71.61 L556.66,73.92 L558.18,58.66 L559.70,69.94 L561.22,72.05 L562.74,71.79 L564.26,73.20 L565.78,74.61 L567.30,72.19 L568.82,69.01 L570.34,71.64 L571.86,67.28 L573.38,71.49 L574.90,70.68 L576.42,65.13 L577.94,68.78 L579.46,72.61 L580.98,71.43 L582.50,68.80 L584.02,63.72 L585.54,71.75 L587.06,71.65 L588.58,67.11 L590.10,74.00 L591.62,71.83 L593.14,67.55 L594.66,68.65 L596.18,70.43 L597.70,68.32 L599.22,81.07 L600.74,67.05 L602.26,74.26 L603.78,76.85 L605.29,69.76 L606.81,68.21 L608.33,72.39 L609.85,74.69 L611.37,70.67 L612.89,70.96 L614.41,65.64 L615.93,68.04 L617.45,70.06 L618.97,66.72 L620.49,71.52 L622.01,74.14 L623.53,68.64 L625.05,68.64 L626.57,71.55 L628.09,73.62 L629.61,69.93 L631.13,79.85 L632.65,68.25 L634.17,68.98 L635.69,76.74 L637.21,70.54 L638.73,74.28 L640.25,68.01 L641.77,78.18 L643.29,74.10 L644.81,68.18 L646.33,66.55 L647.85,78.63 L649.37,72.58 L650.89,69.57 L652.41,72.99 L653.93,64.97 L655.45,75.11 L656.97,69.47 L658.49,74.59 L660.01,65.64 L661.53,70.85 L663.05,72.12 L664.57,77.03 L666.09,64.64 L667.61,68.02 L669.13,68.02 L670.65,66.62 L672.17,69.49 L673.69,73.10 L675.21,73.68 L676.73,73.68 L678.25,65.77" stroke="#2b2f8e" stroke-width="1.4"/>
</g>
<path d="M544.5,40.4 L544.5,131.5 L679.6,131.5" fill="none" stroke="#231f20" stroke-width="1.35"/>
<line x1="544.50" y1="40.40" x2="679.60" y2="40.40" stroke="#231f20" stroke-width="1.35" />
<line x1="679.60" y1="40.40" x2="679.60" y2="131.50" stroke="#231f20" stroke-width="1.35" />
<line x1="541.00" y1="131.50" x2="544.50" y2="131.50" stroke="#231f20" stroke-width="1.35" />
<text x="538.20" y="135.57" font-size="11.3" text-anchor="end" fill="#231f20" >0.6</text>
<line x1="541.00" y1="101.13" x2="544.50" y2="101.13" stroke="#231f20" stroke-width="1.35" />
<text x="538.20" y="105.20" font-size="11.3" text-anchor="end" fill="#231f20" >0.8</text>
<line x1="541.00" y1="70.77" x2="544.50" y2="70.77" stroke="#231f20" stroke-width="1.35" />
<text x="538.20" y="74.83" font-size="11.3" text-anchor="end" fill="#231f20" >1.0</text>
<line x1="541.00" y1="40.40" x2="544.50" y2="40.40" stroke="#231f20" stroke-width="1.35" />
<text x="538.20" y="44.47" font-size="11.3" text-anchor="end" fill="#231f20" >1.2</text>
<line x1="542.50" y1="116.32" x2="544.50" y2="116.32" stroke="#231f20" stroke-width="1.35" />
<line x1="542.50" y1="85.95" x2="544.50" y2="85.95" stroke="#231f20" stroke-width="1.35" />
<line x1="542.50" y1="55.58" x2="544.50" y2="55.58" stroke="#231f20" stroke-width="1.35" />
<line x1="544.50" y1="131.50" x2="544.50" y2="135.00" stroke="#231f20" stroke-width="1.35" />
<text x="544.50" y="148.30" font-size="11.3" text-anchor="middle" fill="#231f20" >-10</text>
<line x1="578.27" y1="131.50" x2="578.27" y2="135.00" stroke="#231f20" stroke-width="1.35" />
<text x="578.27" y="148.30" font-size="11.3" text-anchor="middle" fill="#231f20" >0</text>
<line x1="612.05" y1="131.50" x2="612.05" y2="135.00" stroke="#231f20" stroke-width="1.35" />
<text x="612.05" y="148.30" font-size="11.3" text-anchor="middle" fill="#231f20" >10</text>
<line x1="645.83" y1="131.50" x2="645.83" y2="135.00" stroke="#231f20" stroke-width="1.35" />
<text x="645.83" y="148.30" font-size="11.3" text-anchor="middle" fill="#231f20" >20</text>
<line x1="679.60" y1="131.50" x2="679.60" y2="135.00" stroke="#231f20" stroke-width="1.35" />
<text x="679.60" y="148.30" font-size="11.3" text-anchor="middle" fill="#231f20" >30</text>
<text x="611.05" y="165.70" font-size="11.3" text-anchor="middle" fill="#231f20" >Distance from TSS (kb)</text>
<text x="517.20" y="89.95" font-size="11.4" text-anchor="middle" fill="#231f20" transform="rotate(-90 517.20 89.95)" >Fraction CPDs remaining</text>
<g clip-path="url(#cp3)" fill="none" stroke-linejoin="round">
<path d="M346.00,239.58 L347.52,237.30 L349.04,251.91 L350.56,243.97 L352.09,240.26 L353.61,239.26 L355.13,241.73 L356.65,239.05 L358.17,243.22 L359.69,242.49 L361.22,243.87 L362.74,248.20 L364.26,248.67 L365.78,245.93 L367.30,250.51 L368.82,245.69 L370.34,246.83 L371.87,246.17 L373.39,253.30 L374.91,249.61 L376.43,258.29 L377.95,260.73 L379.47,260.46 L381.00,251.53 L382.52,251.05 L384.04,250.52 L385.56,242.56 L387.08,245.98 L388.60,239.06 L390.13,241.78 L391.65,242.07 L393.17,242.40 L394.69,240.11 L396.21,243.61 L397.73,239.47 L399.25,244.86 L400.78,243.85 L402.30,245.38 L403.82,241.10 L405.34,242.98 L406.86,245.98 L408.38,236.41 L409.91,244.32 L411.43,243.49 L412.95,241.78 L414.47,237.26 L415.99,243.60 L417.51,240.75 L419.03,242.77 L420.56,247.99 L422.08,240.45 L423.60,239.69 L425.12,243.90 L426.64,243.15 L428.16,248.12 L429.69,248.19 L431.21,244.41 L432.73,241.01 L434.25,244.67 L435.77,242.12 L437.29,239.86 L438.82,242.78 L440.34,241.18 L441.86,238.26 L443.38,247.27 L444.90,240.61 L446.42,249.40 L447.94,241.66 L449.47,242.42 L450.99,244.92 L452.51,246.70 L454.03,243.31 L455.55,244.47 L457.07,242.77 L458.60,246.14 L460.12,241.28 L461.64,246.56 L463.16,244.12 L464.68,244.41 L466.20,238.86 L467.72,248.10 L469.25,244.48 L470.77,239.15 L472.29,245.30 L473.81,247.24 L475.33,242.15 L476.85,244.07 L478.38,240.31 L479.90,246.18" stroke="#93c6ec" stroke-width="1.3"/>
<path d="M346.00,245.17 L347.52,246.52 L349.04,243.74 L350.56,242.01 L352.09,240.16 L353.61,242.82 L355.13,244.53 L356.65,245.13 L358.17,241.17 L359.69,238.88 L361.22,242.40 L362.74,246.29 L364.26,245.58 L365.78,238.97 L367.30,242.58 L368.82,247.58 L370.34,243.32 L371.87,246.11 L373.39,244.73 L374.91,244.36 L376.43,244.94 L377.95,241.67 L379.47,247.06 L381.00,256.78 L382.52,267.88 L384.04,278.96 L385.56,285.35 L387.08,281.76 L388.60,283.33 L390.13,279.88 L391.65,281.39 L393.17,276.64 L394.69,275.42 L396.21,274.74 L397.73,276.03 L399.25,274.07 L400.78,275.59 L402.30,276.00 L403.82,271.64 L405.34,274.82 L406.86,268.65 L408.38,269.55 L409.91,276.29 L411.43,270.15 L412.95,273.43 L414.47,270.15 L415.99,269.71 L417.51,274.55 L419.03,269.60 L420.56,269.25 L422.08,265.69 L423.60,270.82 L425.12,265.45 L426.64,269.79 L428.16,267.39 L429.69,268.30 L431.21,262.10 L432.73,264.23 L434.25,259.28 L435.77,263.77 L437.29,263.11 L438.82,262.98 L440.34,266.59 L441.86,265.06 L443.38,261.26 L444.90,265.63 L446.42,263.98 L447.94,264.39 L449.47,262.62 L450.99,265.00 L452.51,264.32 L454.03,263.16 L455.55,263.38 L457.07,265.75 L458.60,261.06 L460.12,266.60 L461.64,266.21 L463.16,266.28 L464.68,260.33 L466.20,263.62 L467.72,265.07 L469.25,265.35 L470.77,261.19 L472.29,264.87 L473.81,265.30 L475.33,260.29 L476.85,264.83 L478.38,262.43 L479.90,261.48" stroke="#2b2f8e" stroke-width="1.4"/>
</g>
<path d="M346.0,212.7 L346.0,303.9 L481.25,303.9" fill="none" stroke="#231f20" stroke-width="1.35"/>
<line x1="346.00" y1="212.70" x2="481.25" y2="212.70" stroke="#231f20" stroke-width="1.35" />
<line x1="481.25" y1="212.70" x2="481.25" y2="303.90" stroke="#231f20" stroke-width="1.35" />
<line x1="342.50" y1="303.90" x2="346.00" y2="303.90" stroke="#231f20" stroke-width="1.35" />
<text x="339.70" y="307.97" font-size="11.3" text-anchor="end" fill="#231f20" >0.6</text>
<line x1="342.50" y1="273.50" x2="346.00" y2="273.50" stroke="#231f20" stroke-width="1.35" />
<text x="339.70" y="277.57" font-size="11.3" text-anchor="end" fill="#231f20" >0.8</text>
<line x1="342.50" y1="243.10" x2="346.00" y2="243.10" stroke="#231f20" stroke-width="1.35" />
<text x="339.70" y="247.17" font-size="11.3" text-anchor="end" fill="#231f20" >1.0</text>
<line x1="342.50" y1="212.70" x2="346.00" y2="212.70" stroke="#231f20" stroke-width="1.35" />
<text x="339.70" y="216.77" font-size="11.3" text-anchor="end" fill="#231f20" >1.2</text>
<line x1="344.00" y1="288.70" x2="346.00" y2="288.70" stroke="#231f20" stroke-width="1.35" />
<line x1="344.00" y1="258.30" x2="346.00" y2="258.30" stroke="#231f20" stroke-width="1.35" />
<line x1="344.00" y1="227.90" x2="346.00" y2="227.90" stroke="#231f20" stroke-width="1.35" />
<line x1="346.00" y1="303.90" x2="346.00" y2="307.40" stroke="#231f20" stroke-width="1.35" />
<text x="346.00" y="320.70" font-size="11.3" text-anchor="middle" fill="#231f20" >-10</text>
<line x1="379.81" y1="303.90" x2="379.81" y2="307.40" stroke="#231f20" stroke-width="1.35" />
<text x="379.81" y="320.70" font-size="11.3" text-anchor="middle" fill="#231f20" >0</text>
<line x1="413.62" y1="303.90" x2="413.62" y2="307.40" stroke="#231f20" stroke-width="1.35" />
<text x="413.62" y="320.70" font-size="11.3" text-anchor="middle" fill="#231f20" >10</text>
<line x1="447.44" y1="303.90" x2="447.44" y2="307.40" stroke="#231f20" stroke-width="1.35" />
<text x="447.44" y="320.70" font-size="11.3" text-anchor="middle" fill="#231f20" >20</text>
<line x1="481.25" y1="303.90" x2="481.25" y2="307.40" stroke="#231f20" stroke-width="1.35" />
<text x="481.25" y="320.70" font-size="11.3" text-anchor="middle" fill="#231f20" >30</text>
<text x="412.62" y="338.10" font-size="11.3" text-anchor="middle" fill="#231f20" >Distance from TSS (kb)</text>
<text x="318.70" y="262.30" font-size="11.4" text-anchor="middle" fill="#231f20" transform="rotate(-90 318.70 262.30)" >Fraction CPDs remaining</text>
<g clip-path="url(#cp4)" fill="none" stroke-linejoin="round">
<path d="M544.50,247.06 L546.02,246.15 L547.54,246.20 L549.06,243.90 L550.58,248.37 L552.10,243.53 L553.62,245.28 L555.14,241.06 L556.66,240.92 L558.18,239.93 L559.70,241.35 L561.22,243.22 L562.74,241.14 L564.26,239.67 L565.78,244.59 L567.30,241.71 L568.82,243.20 L570.34,239.82 L571.86,245.01 L573.38,243.79 L574.90,242.27 L576.42,242.51 L577.94,246.84 L579.46,242.28 L580.98,243.37 L582.50,243.65 L584.02,243.45 L585.54,242.60 L587.06,247.24 L588.58,239.56 L590.10,245.06 L591.62,248.21 L593.14,243.29 L594.66,239.78 L596.18,244.28 L597.70,239.56 L599.22,239.55 L600.74,245.07 L602.26,248.72 L603.78,245.92 L605.29,240.39 L606.81,244.96 L608.33,246.54 L609.85,246.15 L611.37,243.10 L612.89,243.16 L614.41,241.11 L615.93,240.84 L617.45,245.23 L618.97,243.46 L620.49,245.69 L622.01,242.94 L623.53,245.72 L625.05,245.84 L626.57,238.26 L628.09,243.03 L629.61,241.63 L631.13,234.74 L632.65,241.31 L634.17,243.36 L635.69,230.94 L637.21,244.80 L638.73,240.60 L640.25,243.85 L641.77,239.08 L643.29,243.89 L644.81,243.91 L646.33,244.06 L647.85,241.67 L649.37,242.67 L650.89,239.97 L652.41,232.46 L653.93,242.44 L655.45,238.68 L656.97,243.65 L658.49,241.89 L660.01,239.52 L661.53,241.84 L663.05,244.55 L664.57,247.80 L666.09,237.64 L667.61,242.12 L669.13,240.23 L670.65,244.19 L672.17,238.95 L673.69,241.92 L675.21,242.99 L676.73,245.16 L678.25,242.26" stroke="#93c6ec" stroke-width="1.3"/>
<path d="M544.50,240.06 L546.02,238.92 L547.54,240.44 L549.06,242.08 L550.58,240.53 L552.10,241.93 L553.62,238.51 L555.14,234.69 L556.66,240.95 L558.18,242.02 L559.70,239.33 L561.22,240.42 L562.74,241.87 L564.26,245.70 L565.78,243.19 L567.30,240.99 L568.82,247.19 L570.34,244.49 L571.86,248.88 L573.38,247.02 L574.90,248.70 L576.42,243.81 L577.94,252.65 L579.46,253.58 L580.98,253.77 L582.50,254.65 L584.02,261.57 L585.54,255.40 L587.06,243.25 L588.58,242.76 L590.10,247.75 L591.62,244.55 L593.14,246.07 L594.66,245.56 L596.18,239.89 L597.70,245.60 L599.22,243.27 L600.74,240.51 L602.26,245.00 L603.78,243.59 L605.29,242.95 L606.81,243.12 L608.33,247.06 L609.85,243.13 L611.37,239.26 L612.89,248.12 L614.41,240.83 L615.93,243.11 L617.45,245.45 L618.97,237.45 L620.49,241.24 L622.01,247.23 L623.53,243.38 L625.05,241.88 L626.57,244.24 L628.09,241.62 L629.61,243.92 L631.13,241.72 L632.65,239.40 L634.17,245.86 L635.69,243.21 L637.21,245.27 L638.73,243.50 L640.25,247.52 L641.77,245.70 L643.29,244.56 L644.81,241.26 L646.33,240.54 L647.85,248.07 L649.37,246.49 L650.89,242.14 L652.41,250.19 L653.93,245.57 L655.45,244.48 L656.97,240.39 L658.49,242.14 L660.01,245.26 L661.53,245.42 L663.05,245.08 L664.57,239.72 L666.09,245.68 L667.61,245.33 L669.13,243.36 L670.65,244.83 L672.17,245.09 L673.69,247.90 L675.21,244.58 L676.73,245.92 L678.25,241.05" stroke="#2b2f8e" stroke-width="1.4"/>
</g>
<path d="M544.5,212.7 L544.5,303.9 L679.6,303.9" fill="none" stroke="#231f20" stroke-width="1.35"/>
<line x1="544.50" y1="212.70" x2="679.60" y2="212.70" stroke="#231f20" stroke-width="1.35" />
<line x1="679.60" y1="212.70" x2="679.60" y2="303.90" stroke="#231f20" stroke-width="1.35" />
<line x1="541.00" y1="303.90" x2="544.50" y2="303.90" stroke="#231f20" stroke-width="1.35" />
<text x="538.20" y="307.97" font-size="11.3" text-anchor="end" fill="#231f20" >0.6</text>
<line x1="541.00" y1="273.50" x2="544.50" y2="273.50" stroke="#231f20" stroke-width="1.35" />
<text x="538.20" y="277.57" font-size="11.3" text-anchor="end" fill="#231f20" >0.8</text>
<line x1="541.00" y1="243.10" x2="544.50" y2="243.10" stroke="#231f20" stroke-width="1.35" />
<text x="538.20" y="247.17" font-size="11.3" text-anchor="end" fill="#231f20" >1.0</text>
<line x1="541.00" y1="212.70" x2="544.50" y2="212.70" stroke="#231f20" stroke-width="1.35" />
<text x="538.20" y="216.77" font-size="11.3" text-anchor="end" fill="#231f20" >1.2</text>
<line x1="542.50" y1="288.70" x2="544.50" y2="288.70" stroke="#231f20" stroke-width="1.35" />
<line x1="542.50" y1="258.30" x2="544.50" y2="258.30" stroke="#231f20" stroke-width="1.35" />
<line x1="542.50" y1="227.90" x2="544.50" y2="227.90" stroke="#231f20" stroke-width="1.35" />
<line x1="544.50" y1="303.90" x2="544.50" y2="307.40" stroke="#231f20" stroke-width="1.35" />
<text x="544.50" y="320.70" font-size="11.3" text-anchor="middle" fill="#231f20" >-10</text>
<line x1="578.27" y1="303.90" x2="578.27" y2="307.40" stroke="#231f20" stroke-width="1.35" />
<text x="578.27" y="320.70" font-size="11.3" text-anchor="middle" fill="#231f20" >0</text>
<line x1="612.05" y1="303.90" x2="612.05" y2="307.40" stroke="#231f20" stroke-width="1.35" />
<text x="612.05" y="320.70" font-size="11.3" text-anchor="middle" fill="#231f20" >10</text>
<line x1="645.83" y1="303.90" x2="645.83" y2="307.40" stroke="#231f20" stroke-width="1.35" />
<text x="645.83" y="320.70" font-size="11.3" text-anchor="middle" fill="#231f20" >20</text>
<line x1="679.60" y1="303.90" x2="679.60" y2="307.40" stroke="#231f20" stroke-width="1.35" />
<text x="679.60" y="320.70" font-size="11.3" text-anchor="middle" fill="#231f20" >30</text>
<text x="611.05" y="338.10" font-size="11.3" text-anchor="middle" fill="#231f20" >Distance from TSS (kb)</text>
<text x="517.20" y="262.30" font-size="11.4" text-anchor="middle" fill="#231f20" transform="rotate(-90 517.20 262.30)" >Fraction CPDs remaining</text>
<text x="416.00" y="24.20" font-size="11" text-anchor="middle" font-weight="bold" fill="#000" >Ctrl</text>
<text x="612.4" y="23.3" font-size="11" text-anchor="middle" font-weight="bold" fill="#000"><tspan font-style="italic">UVSSA</tspan>-KO</text>
<text x="415.2" y="189.5" font-size="11" text-anchor="middle" font-weight="bold" fill="#000"><tspan font-style="italic">UVSSA</tspan>-KO</text>
<text x="415.50" y="203.60" font-size="11" text-anchor="middle" font-weight="bold" fill="#000" >+UVSSA-WT</text>
<text x="612" y="189.5" font-size="11" text-anchor="middle" font-weight="bold" fill="#000"><tspan font-style="italic">UVSSA</tspan>-KO</text>
<text x="612.00" y="203.60" font-size="11" text-anchor="middle" font-weight="bold" fill="#000" >+UVSSA-V411A</text>
<line x1="458.50" y1="353.50" x2="474.60" y2="353.50" stroke="#2b2f8e" stroke-width="2.8" />
<text x="480.30" y="357.40" font-size="11" text-anchor="start" fill="#231f20" >TS</text>
<line x1="504.00" y1="353.50" x2="520.10" y2="353.50" stroke="#93c6ec" stroke-width="2.8" />
<text x="525.80" y="357.40" font-size="11" text-anchor="start" fill="#231f20" >NTS</text>
<text transform="translate(3 411.5) scale(0.95 1)" font-size="22.6" font-weight="bold" fill="#000">e</text>
<g clip-path="url(#cp5)" fill="none" stroke-linejoin="round">
<path d="M36.00,498.21 L36.54,501.78 L37.08,503.05 L37.63,505.93 L38.17,500.45 L38.71,497.04 L39.25,499.63 L39.79,498.61 L40.34,497.52 L40.88,501.58 L41.42,494.05 L41.96,501.56 L42.50,498.90 L43.05,493.86 L43.59,499.94 L44.13,499.45 L44.67,500.79 L45.21,498.98 L45.76,504.23 L46.30,501.07 L46.84,496.09 L47.38,499.25 L47.92,500.21 L48.47,498.90 L49.01,498.81 L49.55,499.37 L50.09,498.46 L50.63,503.23 L51.18,498.44 L51.72,501.13 L52.26,498.02 L52.80,499.74 L53.34,501.82 L53.89,499.85 L54.43,501.84 L54.97,497.54 L55.51,499.76 L56.05,497.88 L56.60,502.07 L57.14,496.25 L57.68,500.34 L58.22,496.79 L58.76,497.88 L59.31,502.04 L59.85,499.01 L60.39,500.85 L60.93,493.55 L61.47,486.09 L62.02,482.40 L62.56,476.32 L63.10,475.82 L63.64,467.61 L64.18,462.01 L64.73,459.64 L65.27,466.93 L65.81,468.05 L66.35,472.00 L66.89,479.81 L67.44,482.43 L67.98,482.92 L68.52,490.03 L69.06,490.90 L69.60,487.14 L70.15,489.20 L70.69,491.07 L71.23,491.10 L71.77,492.95 L72.31,493.99 L72.86,494.59 L73.40,493.55 L73.94,492.32 L74.48,496.24 L75.02,495.48 L75.57,495.90 L76.11,498.22 L76.65,495.10 L77.19,493.89 L77.73,497.64 L78.28,494.17 L78.82,497.26 L79.36,493.69 L79.90,493.66 L80.44,497.17 L80.99,500.71 L81.53,497.29 L82.07,499.62 L82.61,499.56 L83.15,497.39 L83.70,494.06 L84.24,497.26 L84.78,497.63 L85.32,501.20 L85.86,498.65 L86.41,500.44 L86.95,496.46 L87.49,498.79 L88.03,497.86 L88.57,497.91 L89.12,498.37 L89.66,496.04 L90.20,497.14 L90.74,498.85 L91.28,497.83 L91.83,496.97 L92.37,495.21 L92.91,497.85 L93.45,495.03 L93.99,499.37 L94.54,498.59 L95.08,501.25 L95.62,496.32 L96.16,500.26 L96.70,500.25 L97.25,496.25 L97.79,499.17 L98.33,499.63 L98.87,495.98 L99.41,498.40 L99.96,496.03 L100.50,498.84 L101.04,496.42 L101.58,495.66 L102.12,497.78 L102.67,494.11 L103.21,498.78 L103.75,498.37 L104.29,497.74 L104.83,495.76 L105.38,498.50 L105.92,498.81 L106.46,497.33 L107.00,495.20 L107.54,498.74 L108.09,500.56 L108.63,498.11 L109.17,496.49 L109.71,498.97 L110.25,497.53 L110.80,501.77 L111.34,497.73 L111.88,497.55 L112.42,496.43 L112.96,497.09 L113.51,496.09 L114.05,499.85 L114.59,496.31 L115.13,501.23 L115.67,498.97 L116.22,495.33 L116.76,495.86 L117.30,501.62 L117.84,496.40 L118.38,498.57 L118.93,499.29 L119.47,497.19 L120.01,497.34 L120.55,494.64 L121.09,500.67 L121.64,498.50 L122.18,497.88 L122.72,501.49 L123.26,495.06 L123.80,493.80 L124.35,498.87 L124.89,496.71 L125.43,498.09 L125.97,496.93 L126.51,498.93 L127.06,495.71 L127.60,499.96 L128.14,494.56 L128.68,496.70 L129.22,492.28 L129.77,500.95 L130.31,497.63 L130.85,500.15 L131.39,497.70 L131.93,496.47 L132.48,499.34 L133.02,500.43 L133.56,501.06 L134.10,496.88 L134.64,494.62 L135.19,494.84 L135.73,497.25 L136.27,499.36 L136.81,498.08 L137.35,500.50 L137.90,500.64 L138.44,495.00 L138.98,497.85 L139.52,496.58 L140.06,497.82 L140.61,494.41 L141.15,494.16 L141.69,498.86 L142.23,497.98 L142.77,498.63 L143.32,494.37 L143.86,494.52 L144.40,497.78 L144.94,492.25 L145.48,497.08 L146.03,499.72 L146.57,501.45 L147.11,497.42 L147.65,496.42 L148.19,498.34 L148.74,496.31 L149.28,494.52 L149.82,497.19 L150.36,495.25 L150.90,493.49 L151.45,495.97 L151.99,498.26 L152.53,496.09 L153.07,495.85 L153.61,492.43 L154.16,497.90 L154.70,500.27 L155.24,496.32 L155.78,496.25 L156.32,497.82 L156.87,495.72 L157.41,496.24 L157.95,494.33 L158.49,498.68 L159.03,498.38 L159.58,496.92 L160.12,497.95 L160.66,494.15 L161.20,495.61 L161.74,496.88 L162.29,493.57 L162.83,495.75 L163.37,494.68 L163.91,495.08 L164.45,497.10 L165.00,497.07 L165.54,496.75 L166.08,499.08 L166.62,497.48 L167.16,494.91 L167.71,496.06 L168.25,498.72 L168.79,491.67 L169.33,498.89 L169.87,495.36 L170.42,495.13 L170.96,493.94 L171.50,498.48" stroke="#bb8bd2" stroke-width="1.3"/>
<path d="M36.00,497.88 L36.54,506.87 L37.08,499.54 L37.63,501.19 L38.17,498.95 L38.71,500.68 L39.25,498.08 L39.79,501.40 L40.34,502.43 L40.88,500.46 L41.42,500.77 L41.96,502.24 L42.50,502.08 L43.05,500.34 L43.59,500.41 L44.13,502.63 L44.67,502.43 L45.21,505.09 L45.76,498.76 L46.30,502.27 L46.84,499.45 L47.38,501.17 L47.92,498.41 L48.47,499.19 L49.01,501.45 L49.55,499.36 L50.09,503.83 L50.63,499.83 L51.18,504.87 L51.72,501.57 L52.26,500.29 L52.80,501.86 L53.34,502.97 L53.89,503.81 L54.43,502.99 L54.97,500.48 L55.51,500.81 L56.05,502.95 L56.60,504.78 L57.14,501.31 L57.68,505.22 L58.22,503.57 L58.76,503.96 L59.31,501.18 L59.85,501.49 L60.39,498.55 L60.93,491.15 L61.47,476.03 L62.02,447.70 L62.56,419.82 L63.10,411.07 L63.64,421.07 L64.18,448.56 L64.73,472.39 L65.27,489.73 L65.81,496.92 L66.35,500.37 L66.89,498.56 L67.44,502.25 L67.98,502.13 L68.52,502.52 L69.06,500.23 L69.60,502.40 L70.15,502.39 L70.69,499.88 L71.23,499.08 L71.77,500.14 L72.31,506.08 L72.86,502.92 L73.40,503.13 L73.94,503.36 L74.48,501.89 L75.02,497.82 L75.57,501.69 L76.11,502.47 L76.65,499.84 L77.19,500.98 L77.73,500.88 L78.28,502.35 L78.82,501.09 L79.36,500.28 L79.90,504.56 L80.44,504.00 L80.99,499.07 L81.53,499.50 L82.07,501.96 L82.61,502.89 L83.15,501.36 L83.70,503.19 L84.24,501.62 L84.78,497.98 L85.32,500.75 L85.86,498.85 L86.41,501.38 L86.95,500.29 L87.49,498.42 L88.03,503.39 L88.57,501.57 L89.12,501.22 L89.66,500.41 L90.20,498.08 L90.74,499.65 L91.28,503.63 L91.83,501.38 L92.37,502.51 L92.91,502.55 L93.45,497.17 L93.99,502.80 L94.54,500.42 L95.08,502.15 L95.62,499.26 L96.16,500.18 L96.70,500.58 L97.25,500.95 L97.79,498.72 L98.33,502.49 L98.87,502.11 L99.41,502.81 L99.96,498.33 L100.50,501.30 L101.04,502.65 L101.58,501.51 L102.12,496.17 L102.67,500.92 L103.21,499.17 L103.75,499.86 L104.29,500.73 L104.83,501.96 L105.38,501.30 L105.92,501.33 L106.46,504.70 L107.00,495.93 L107.54,498.97 L108.09,500.43 L108.63,501.01 L109.17,502.07 L109.71,498.89 L110.25,500.95 L110.80,499.73 L111.34,503.13 L111.88,499.90 L112.42,496.93 L112.96,501.10 L113.51,499.10 L114.05,500.49 L114.59,498.53 L115.13,498.59 L115.67,500.42 L116.22,501.55 L116.76,499.99 L117.30,500.43 L117.84,501.63 L118.38,499.66 L118.93,499.69 L119.47,502.10 L120.01,500.67 L120.55,495.13 L121.09,498.96 L121.64,500.26 L122.18,495.85 L122.72,501.26 L123.26,504.94 L123.80,503.89 L124.35,503.18 L124.89,499.92 L125.43,498.60 L125.97,504.34 L126.51,498.33 L127.06,502.60 L127.60,499.89 L128.14,499.50 L128.68,499.55 L129.22,500.32 L129.77,500.01 L130.31,502.39 L130.85,499.80 L131.39,498.51 L131.93,498.60 L132.48,495.51 L133.02,498.29 L133.56,498.94 L134.10,497.22 L134.64,499.81 L135.19,502.60 L135.73,504.32 L136.27,497.89 L136.81,499.18 L137.35,498.66 L137.90,500.81 L138.44,499.56 L138.98,496.75 L139.52,499.56 L140.06,502.20 L140.61,500.95 L141.15,497.62 L141.69,502.13 L142.23,504.85 L142.77,504.32 L143.32,502.56 L143.86,498.65 L144.40,499.94 L144.94,501.48 L145.48,502.43 L146.03,500.29 L146.57,500.36 L147.11,501.09 L147.65,500.50 L148.19,501.44 L148.74,496.74 L149.28,504.35 L149.82,499.80 L150.36,501.87 L150.90,498.71 L151.45,500.43 L151.99,499.32 L152.53,499.01 L153.07,499.60 L153.61,498.15 L154.16,502.50 L154.70,498.21 L155.24,500.34 L155.78,499.24 L156.32,497.08 L156.87,497.86 L157.41,496.29 L157.95,504.01 L158.49,501.64 L159.03,498.12 L159.58,501.94 L160.12,500.20 L160.66,496.74 L161.20,498.25 L161.74,501.60 L162.29,499.01 L162.83,498.65 L163.37,499.70 L163.91,499.99 L164.45,499.54 L165.00,502.53 L165.54,499.55 L166.08,501.54 L166.62,499.05 L167.16,498.98 L167.71,501.38 L168.25,498.63 L168.79,499.09 L169.33,499.81 L169.87,498.40 L170.42,500.28 L170.96,500.22 L171.50,499.55" stroke="#f4a9ab" stroke-width="1.3"/>
<path d="M36.00,498.19 L36.54,495.63 L37.08,496.37 L37.63,496.41 L38.17,494.23 L38.71,501.11 L39.25,499.70 L39.79,501.39 L40.34,498.44 L40.88,495.74 L41.42,498.23 L41.96,496.97 L42.50,502.83 L43.05,497.82 L43.59,500.38 L44.13,493.85 L44.67,496.02 L45.21,495.86 L45.76,498.32 L46.30,496.68 L46.84,496.57 L47.38,499.01 L47.92,499.39 L48.47,498.45 L49.01,499.65 L49.55,499.62 L50.09,498.86 L50.63,499.95 L51.18,496.31 L51.72,502.06 L52.26,496.17 L52.80,499.70 L53.34,499.50 L53.89,501.46 L54.43,498.53 L54.97,498.78 L55.51,497.71 L56.05,499.46 L56.60,497.91 L57.14,493.64 L57.68,496.89 L58.22,498.80 L58.76,494.00 L59.31,494.37 L59.85,488.27 L60.39,480.64 L60.93,469.53 L61.47,454.46 L62.02,426.76 L62.56,397.52 L63.10,372.98 L63.64,343.94 L64.18,324.54 L64.73,321.76 L65.27,322.53 L65.81,335.65 L66.35,355.76 L66.89,374.59 L67.44,395.70 L67.98,413.93 L68.52,434.75 L69.06,446.52 L69.60,453.14 L70.15,462.84 L70.69,469.23 L71.23,469.05 L71.77,467.16 L72.31,467.96 L72.86,473.85 L73.40,475.67 L73.94,472.83 L74.48,473.49 L75.02,474.13 L75.57,473.35 L76.11,472.97 L76.65,476.03 L77.19,475.74 L77.73,480.53 L78.28,481.36 L78.82,478.55 L79.36,478.14 L79.90,478.63 L80.44,479.59 L80.99,479.76 L81.53,480.33 L82.07,487.20 L82.61,485.35 L83.15,482.67 L83.70,482.53 L84.24,487.87 L84.78,481.54 L85.32,485.68 L85.86,485.38 L86.41,484.36 L86.95,483.41 L87.49,488.93 L88.03,483.24 L88.57,485.67 L89.12,487.94 L89.66,486.94 L90.20,491.80 L90.74,488.27 L91.28,486.46 L91.83,488.83 L92.37,488.11 L92.91,487.88 L93.45,487.44 L93.99,485.11 L94.54,487.69 L95.08,488.29 L95.62,486.38 L96.16,482.67 L96.70,488.59 L97.25,486.55 L97.79,491.67 L98.33,484.59 L98.87,486.29 L99.41,484.68 L99.96,488.11 L100.50,490.54 L101.04,485.87 L101.58,486.23 L102.12,490.21 L102.67,491.72 L103.21,487.07 L103.75,488.62 L104.29,481.87 L104.83,489.76 L105.38,489.59 L105.92,488.60 L106.46,492.42 L107.00,490.57 L107.54,484.43 L108.09,488.79 L108.63,489.99 L109.17,491.63 L109.71,487.16 L110.25,487.00 L110.80,488.01 L111.34,489.62 L111.88,487.96 L112.42,487.81 L112.96,490.43 L113.51,487.29 L114.05,493.99 L114.59,492.01 L115.13,489.65 L115.67,489.21 L116.22,491.81 L116.76,488.21 L117.30,486.47 L117.84,487.92 L118.38,488.44 L118.93,486.94 L119.47,487.94 L120.01,491.67 L120.55,489.36 L121.09,485.69 L121.64,491.57 L122.18,488.62 L122.72,489.69 L123.26,490.90 L123.80,491.14 L124.35,488.40 L124.89,487.85 L125.43,487.84 L125.97,492.08 L126.51,489.23 L127.06,487.66 L127.60,486.16 L128.14,486.80 L128.68,486.38 L129.22,485.70 L129.77,486.34 L130.31,490.30 L130.85,488.14 L131.39,489.99 L131.93,494.02 L132.48,492.29 L133.02,483.08 L133.56,490.85 L134.10,493.56 L134.64,489.50 L135.19,484.34 L135.73,488.12 L136.27,486.99 L136.81,488.61 L137.35,488.12 L137.90,484.80 L138.44,485.92 L138.98,488.04 L139.52,485.63 L140.06,485.15 L140.61,488.27 L141.15,487.05 L141.69,487.06 L142.23,489.27 L142.77,484.81 L143.32,487.99 L143.86,489.06 L144.40,491.60 L144.94,490.57 L145.48,483.75 L146.03,490.21 L146.57,486.36 L147.11,488.27 L147.65,486.10 L148.19,485.84 L148.74,489.17 L149.28,487.96 L149.82,486.98 L150.36,486.91 L150.90,487.23 L151.45,487.89 L151.99,485.56 L152.53,483.86 L153.07,485.72 L153.61,488.81 L154.16,486.01 L154.70,486.80 L155.24,485.79 L155.78,482.39 L156.32,487.37 L156.87,486.85 L157.41,488.95 L157.95,487.47 L158.49,488.12 L159.03,482.81 L159.58,485.93 L160.12,488.03 L160.66,481.91 L161.20,489.81 L161.74,484.45 L162.29,484.04 L162.83,485.09 L163.37,487.09 L163.91,486.74 L164.45,487.23 L165.00,484.45 L165.54,492.01 L166.08,487.55 L166.62,485.91 L167.16,487.66 L167.71,490.64 L168.25,486.78 L168.79,487.99 L169.33,484.18 L169.87,482.69 L170.42,485.89 L170.96,490.74 L171.50,486.48" stroke="#6c2c9c" stroke-width="1.3"/>
<path d="M36.00,499.00 L36.54,495.83 L37.08,496.21 L37.63,500.49 L38.17,500.03 L38.71,500.64 L39.25,498.02 L39.79,499.60 L40.34,497.70 L40.88,504.06 L41.42,495.81 L41.96,499.91 L42.50,498.07 L43.05,500.11 L43.59,500.76 L44.13,498.76 L44.67,497.93 L45.21,500.49 L45.76,500.42 L46.30,498.43 L46.84,502.27 L47.38,503.89 L47.92,499.30 L48.47,501.95 L49.01,505.04 L49.55,502.40 L50.09,501.61 L50.63,503.43 L51.18,504.21 L51.72,500.54 L52.26,498.50 L52.80,501.31 L53.34,502.60 L53.89,499.91 L54.43,499.15 L54.97,501.68 L55.51,499.68 L56.05,498.52 L56.60,501.62 L57.14,503.15 L57.68,500.37 L58.22,500.36 L58.76,498.02 L59.31,503.46 L59.85,501.16 L60.39,499.20 L60.93,494.46 L61.47,470.63 L62.02,436.35 L62.56,394.80 L63.10,347.99 L63.64,330.31 L64.18,343.74 L64.73,379.85 L65.27,417.04 L65.81,453.89 L66.35,466.42 L66.89,474.14 L67.44,483.05 L67.98,479.45 L68.52,482.03 L69.06,481.36 L69.60,486.16 L70.15,486.96 L70.69,487.91 L71.23,492.70 L71.77,488.50 L72.31,489.60 L72.86,487.54 L73.40,489.40 L73.94,484.88 L74.48,484.22 L75.02,484.30 L75.57,480.51 L76.11,477.15 L76.65,474.03 L77.19,480.40 L77.73,472.59 L78.28,471.78 L78.82,471.32 L79.36,471.71 L79.90,464.68 L80.44,469.29 L80.99,463.32 L81.53,460.01 L82.07,465.55 L82.61,460.87 L83.15,461.80 L83.70,456.50 L84.24,451.88 L84.78,449.12 L85.32,457.97 L85.86,454.63 L86.41,451.12 L86.95,448.58 L87.49,450.99 L88.03,453.43 L88.57,450.48 L89.12,450.84 L89.66,450.89 L90.20,451.78 L90.74,448.64 L91.28,448.43 L91.83,449.00 L92.37,448.91 L92.91,451.09 L93.45,449.37 L93.99,445.48 L94.54,449.11 L95.08,452.38 L95.62,445.85 L96.16,448.04 L96.70,444.43 L97.25,449.63 L97.79,451.14 L98.33,453.77 L98.87,447.25 L99.41,444.44 L99.96,452.93 L100.50,452.73 L101.04,449.93 L101.58,453.63 L102.12,452.50 L102.67,452.92 L103.21,451.83 L103.75,449.86 L104.29,452.59 L104.83,450.53 L105.38,453.91 L105.92,452.21 L106.46,458.34 L107.00,456.79 L107.54,451.44 L108.09,454.94 L108.63,452.21 L109.17,452.42 L109.71,450.64 L110.25,452.01 L110.80,451.63 L111.34,454.50 L111.88,456.05 L112.42,456.25 L112.96,455.78 L113.51,457.47 L114.05,456.17 L114.59,455.19 L115.13,454.47 L115.67,456.03 L116.22,460.01 L116.76,455.62 L117.30,455.02 L117.84,452.90 L118.38,454.10 L118.93,457.04 L119.47,457.21 L120.01,450.52 L120.55,453.54 L121.09,450.90 L121.64,450.14 L122.18,457.29 L122.72,454.33 L123.26,454.12 L123.80,453.84 L124.35,453.85 L124.89,454.65 L125.43,454.69 L125.97,458.74 L126.51,455.45 L127.06,456.84 L127.60,454.68 L128.14,456.10 L128.68,453.42 L129.22,452.90 L129.77,454.12 L130.31,454.07 L130.85,454.58 L131.39,455.87 L131.93,455.15 L132.48,455.92 L133.02,453.74 L133.56,454.62 L134.10,453.21 L134.64,457.83 L135.19,452.40 L135.73,456.39 L136.27,456.29 L136.81,454.95 L137.35,455.81 L137.90,453.70 L138.44,455.78 L138.98,456.95 L139.52,456.38 L140.06,451.10 L140.61,454.15 L141.15,457.07 L141.69,454.18 L142.23,457.96 L142.77,449.78 L143.32,457.82 L143.86,452.91 L144.40,452.72 L144.94,457.52 L145.48,453.19 L146.03,451.44 L146.57,452.66 L147.11,453.11 L147.65,451.37 L148.19,453.23 L148.74,452.74 L149.28,453.81 L149.82,451.90 L150.36,455.67 L150.90,451.39 L151.45,454.49 L151.99,455.85 L152.53,452.24 L153.07,448.95 L153.61,450.67 L154.16,454.21 L154.70,451.19 L155.24,453.94 L155.78,453.07 L156.32,452.49 L156.87,458.29 L157.41,452.12 L157.95,455.03 L158.49,454.16 L159.03,455.99 L159.58,456.03 L160.12,454.58 L160.66,450.21 L161.20,448.10 L161.74,452.16 L162.29,449.38 L162.83,452.62 L163.37,456.57 L163.91,451.49 L164.45,450.71 L165.00,452.78 L165.54,450.94 L166.08,450.22 L166.62,453.65 L167.16,455.09 L167.71,451.97 L168.25,451.88 L168.79,452.17 L169.33,448.84 L169.87,446.98 L170.42,452.14 L170.96,449.36 L171.50,448.71" stroke="#e8373b" stroke-width="1.3"/>
</g>
<path d="M36.0,429.7 L36.0,521.0 L171.5,521.0" fill="none" stroke="#231f20" stroke-width="1.35"/>
<line x1="36.00" y1="429.70" x2="171.50" y2="429.70" stroke="#231f20" stroke-width="1.35" />
<line x1="171.50" y1="429.70" x2="171.50" y2="521.00" stroke="#231f20" stroke-width="1.35" />
<line x1="32.50" y1="521.00" x2="36.00" y2="521.00" stroke="#231f20" stroke-width="1.35" />
<text x="29.50" y="524.96" font-size="11" text-anchor="end" fill="#231f20" >0.1</text>
<line x1="32.50" y1="490.57" x2="36.00" y2="490.57" stroke="#231f20" stroke-width="1.35" />
<text x="29.50" y="494.53" font-size="11" text-anchor="end" fill="#231f20" >0.2</text>
<line x1="32.50" y1="460.13" x2="36.00" y2="460.13" stroke="#231f20" stroke-width="1.35" />
<text x="29.50" y="464.09" font-size="11" text-anchor="end" fill="#231f20" >0.3</text>
<line x1="32.50" y1="429.70" x2="36.00" y2="429.70" stroke="#231f20" stroke-width="1.35" />
<text x="29.50" y="433.66" font-size="11" text-anchor="end" fill="#231f20" >0.4</text>
<line x1="36.00" y1="521.00" x2="36.00" y2="524.50" stroke="#231f20" stroke-width="1.35" />
<text x="36.00" y="535.80" font-size="11" text-anchor="middle" fill="#231f20" >-10</text>
<line x1="63.10" y1="521.00" x2="63.10" y2="524.50" stroke="#231f20" stroke-width="1.35" />
<text x="63.10" y="535.80" font-size="11" text-anchor="middle" fill="#231f20" >TSS</text>
<line x1="90.20" y1="521.00" x2="90.20" y2="524.50" stroke="#231f20" stroke-width="1.35" />
<text x="90.20" y="535.80" font-size="11" text-anchor="middle" fill="#231f20" >10</text>
<line x1="117.30" y1="521.00" x2="117.30" y2="524.50" stroke="#231f20" stroke-width="1.35" />
<text x="117.30" y="535.80" font-size="11" text-anchor="middle" fill="#231f20" >20</text>
<line x1="144.40" y1="521.00" x2="144.40" y2="524.50" stroke="#231f20" stroke-width="1.35" />
<text x="144.40" y="535.80" font-size="11" text-anchor="middle" fill="#231f20" >30</text>
<line x1="171.50" y1="521.00" x2="171.50" y2="524.50" stroke="#231f20" stroke-width="1.35" />
<text x="171.50" y="535.80" font-size="11" text-anchor="middle" fill="#231f20" >40</text>
<g clip-path="url(#cp6)" fill="none" stroke-linejoin="round">
<path d="M179.50,500.62 L180.04,502.10 L180.58,498.26 L181.12,502.06 L181.66,495.41 L182.20,497.73 L182.74,500.46 L183.28,498.48 L183.82,496.26 L184.36,493.66 L184.90,501.66 L185.44,497.43 L185.98,498.59 L186.52,500.29 L187.06,497.37 L187.60,498.62 L188.14,497.40 L188.68,500.82 L189.22,499.70 L189.76,498.86 L190.30,499.65 L190.84,499.66 L191.38,501.33 L191.92,499.43 L192.46,499.30 L193.00,499.83 L193.54,499.73 L194.08,498.21 L194.62,501.10 L195.16,498.21 L195.70,500.02 L196.24,499.58 L196.78,500.10 L197.32,497.78 L197.86,498.08 L198.40,499.68 L198.94,500.63 L199.48,495.74 L200.02,498.55 L200.56,502.14 L201.10,499.71 L201.64,499.94 L202.18,498.16 L202.72,500.18 L203.26,501.27 L203.80,496.85 L204.34,503.94 L204.88,502.71 L205.42,500.81 L205.96,500.79 L206.50,499.97 L207.04,499.72 L207.58,497.57 L208.12,502.93 L208.66,493.34 L209.20,498.39 L209.74,501.34 L210.28,500.91 L210.82,500.73 L211.36,504.45 L211.90,498.84 L212.44,502.06 L212.98,500.85 L213.52,502.03 L214.06,500.97 L214.60,499.65 L215.14,502.44 L215.68,496.47 L216.22,502.41 L216.76,500.76 L217.30,499.75 L217.84,498.37 L218.38,499.25 L218.92,499.63 L219.46,498.66 L220.00,498.93 L220.54,501.79 L221.08,498.49 L221.62,501.12 L222.16,502.19 L222.70,499.94 L223.24,500.82 L223.78,499.24 L224.32,499.13 L224.86,501.05 L225.40,499.09 L225.94,499.90 L226.48,503.24 L227.02,496.48 L227.56,499.79 L228.10,500.11 L228.64,497.97 L229.18,502.77 L229.72,501.25 L230.26,497.80 L230.80,503.87 L231.34,501.62 L231.88,496.27 L232.42,498.53 L232.96,501.89 L233.50,499.69 L234.04,498.22 L234.58,501.48 L235.12,499.75 L235.66,499.05 L236.20,499.70 L236.74,496.53 L237.28,499.54 L237.82,500.11 L238.36,499.30 L238.90,500.59 L239.44,501.50 L239.98,500.27 L240.52,501.14 L241.06,495.83 L241.60,495.19 L242.14,500.56 L242.68,505.70 L243.22,500.52 L243.76,498.32 L244.30,501.07 L244.84,498.28 L245.38,498.38 L245.92,501.05 L246.46,500.24 L247.00,501.82 L247.54,500.47 L248.08,501.77 L248.62,500.39 L249.16,495.96 L249.70,499.62 L250.24,496.47 L250.78,497.95 L251.32,501.68 L251.86,498.54 L252.40,499.16 L252.94,500.65 L253.48,498.88 L254.02,495.13 L254.56,494.99 L255.10,498.31 L255.64,498.80 L256.18,497.21 L256.72,496.24 L257.26,494.02 L257.80,497.90 L258.34,498.52 L258.88,496.48 L259.42,500.44 L259.96,496.34 L260.50,495.01 L261.04,499.81 L261.58,493.72 L262.12,496.79 L262.66,495.74 L263.20,495.75 L263.74,495.33 L264.28,494.92 L264.82,495.98 L265.36,498.79 L265.90,492.55 L266.44,494.52 L266.98,492.97 L267.52,493.43 L268.06,491.21 L268.60,493.69 L269.14,494.82 L269.68,487.99 L270.22,490.59 L270.76,492.00 L271.30,491.36 L271.84,490.98 L272.38,498.51 L272.92,495.22 L273.46,493.79 L274.00,492.85 L274.54,495.61 L275.08,493.96 L275.62,496.55 L276.16,494.99 L276.70,498.64 L277.24,495.46 L277.78,491.16 L278.32,497.29 L278.86,493.34 L279.40,497.50 L279.94,497.04 L280.48,489.87 L281.02,496.76 L281.56,495.19 L282.10,495.92 L282.64,500.90 L283.18,495.53 L283.72,493.74 L284.26,498.05 L284.80,498.07 L285.34,497.20 L285.88,494.41 L286.42,497.42 L286.96,493.76 L287.50,494.11 L288.04,499.51 L288.58,498.60 L289.12,495.90 L289.66,497.74 L290.20,494.11 L290.74,493.32 L291.28,497.25 L291.82,493.72 L292.36,494.48 L292.90,495.89 L293.44,493.77 L293.98,496.87 L294.52,495.31 L295.06,497.52 L295.60,498.15 L296.14,492.88 L296.68,492.71 L297.22,495.92 L297.76,494.01 L298.30,497.13 L298.84,497.86 L299.38,495.29 L299.92,493.34 L300.46,496.57 L301.00,496.33 L301.54,496.73 L302.08,498.67 L302.62,500.85 L303.16,496.68 L303.70,499.88 L304.24,493.58 L304.78,496.73 L305.32,495.85 L305.86,495.46 L306.40,499.54 L306.94,499.73 L307.48,494.40 L308.02,496.41 L308.56,497.27 L309.10,495.86 L309.64,502.03 L310.18,495.43 L310.72,497.30 L311.26,496.83 L311.80,496.29 L312.34,493.47 L312.88,496.39 L313.42,498.09 L313.96,499.79 L314.50,492.45" stroke="#bb8bd2" stroke-width="1.3"/>
<path d="M179.50,498.87 L180.04,500.47 L180.58,502.32 L181.12,503.83 L181.66,505.16 L182.20,501.06 L182.74,502.80 L183.28,502.91 L183.82,501.50 L184.36,501.11 L184.90,505.83 L185.44,498.98 L185.98,505.24 L186.52,496.94 L187.06,499.62 L187.60,501.86 L188.14,497.97 L188.68,500.76 L189.22,499.31 L189.76,500.53 L190.30,498.40 L190.84,498.45 L191.38,502.62 L191.92,501.96 L192.46,499.90 L193.00,501.06 L193.54,505.45 L194.08,496.24 L194.62,505.17 L195.16,504.95 L195.70,503.21 L196.24,499.26 L196.78,496.61 L197.32,500.92 L197.86,501.22 L198.40,500.00 L198.94,501.12 L199.48,500.14 L200.02,502.72 L200.56,499.34 L201.10,499.41 L201.64,505.41 L202.18,500.43 L202.72,499.82 L203.26,498.95 L203.80,501.86 L204.34,502.93 L204.88,502.10 L205.42,498.88 L205.96,501.84 L206.50,501.63 L207.04,497.54 L207.58,501.63 L208.12,501.84 L208.66,500.10 L209.20,499.46 L209.74,497.64 L210.28,501.70 L210.82,503.15 L211.36,500.04 L211.90,498.39 L212.44,502.89 L212.98,500.75 L213.52,499.03 L214.06,499.17 L214.60,499.46 L215.14,500.16 L215.68,501.29 L216.22,501.54 L216.76,497.08 L217.30,501.89 L217.84,496.87 L218.38,502.27 L218.92,493.26 L219.46,503.12 L220.00,495.97 L220.54,501.28 L221.08,499.59 L221.62,499.46 L222.16,500.68 L222.70,494.52 L223.24,499.04 L223.78,502.04 L224.32,497.82 L224.86,497.66 L225.40,501.59 L225.94,497.98 L226.48,498.95 L227.02,497.33 L227.56,497.53 L228.10,499.05 L228.64,499.87 L229.18,497.04 L229.72,498.29 L230.26,502.10 L230.80,500.07 L231.34,499.91 L231.88,499.42 L232.42,493.97 L232.96,499.61 L233.50,497.77 L234.04,495.23 L234.58,497.66 L235.12,497.79 L235.66,495.92 L236.20,498.24 L236.74,498.24 L237.28,497.15 L237.82,497.71 L238.36,500.01 L238.90,501.02 L239.44,498.76 L239.98,495.51 L240.52,498.95 L241.06,496.00 L241.60,497.54 L242.14,499.05 L242.68,503.98 L243.22,497.87 L243.76,498.91 L244.30,501.71 L244.84,497.18 L245.38,498.30 L245.92,497.42 L246.46,499.49 L247.00,497.74 L247.54,498.88 L248.08,495.30 L248.62,497.00 L249.16,499.95 L249.70,496.20 L250.24,496.20 L250.78,496.48 L251.32,498.62 L251.86,493.18 L252.40,496.69 L252.94,491.46 L253.48,495.93 L254.02,494.15 L254.56,494.01 L255.10,493.29 L255.64,487.67 L256.18,494.06 L256.72,488.29 L257.26,491.06 L257.80,493.57 L258.34,489.57 L258.88,490.60 L259.42,490.51 L259.96,495.54 L260.50,491.78 L261.04,493.86 L261.58,493.46 L262.12,493.59 L262.66,493.37 L263.20,490.22 L263.74,492.96 L264.28,497.84 L264.82,491.41 L265.36,494.03 L265.90,494.09 L266.44,498.41 L266.98,493.82 L267.52,495.89 L268.06,492.94 L268.60,494.16 L269.14,493.52 L269.68,496.23 L270.22,499.49 L270.76,493.68 L271.30,495.00 L271.84,496.75 L272.38,497.38 L272.92,498.24 L273.46,500.26 L274.00,499.16 L274.54,496.80 L275.08,493.22 L275.62,495.69 L276.16,493.23 L276.70,498.80 L277.24,493.98 L277.78,497.54 L278.32,493.53 L278.86,494.04 L279.40,496.58 L279.94,496.37 L280.48,494.06 L281.02,498.35 L281.56,501.26 L282.10,494.91 L282.64,492.01 L283.18,500.69 L283.72,496.21 L284.26,499.17 L284.80,497.27 L285.34,498.78 L285.88,494.79 L286.42,497.81 L286.96,497.06 L287.50,498.96 L288.04,495.09 L288.58,497.74 L289.12,497.46 L289.66,496.81 L290.20,499.75 L290.74,496.70 L291.28,500.09 L291.82,497.12 L292.36,497.12 L292.90,497.51 L293.44,497.08 L293.98,498.09 L294.52,495.57 L295.06,496.66 L295.60,497.66 L296.14,497.14 L296.68,498.10 L297.22,496.92 L297.76,497.32 L298.30,500.49 L298.84,493.14 L299.38,497.60 L299.92,498.08 L300.46,496.01 L301.00,501.10 L301.54,497.50 L302.08,496.00 L302.62,497.22 L303.16,496.52 L303.70,497.60 L304.24,497.44 L304.78,496.74 L305.32,496.33 L305.86,498.99 L306.40,496.06 L306.94,496.02 L307.48,497.97 L308.02,497.87 L308.56,496.40 L309.10,494.18 L309.64,494.34 L310.18,498.43 L310.72,497.81 L311.26,497.85 L311.80,495.84 L312.34,497.00 L312.88,495.98 L313.42,494.01 L313.96,496.21 L314.50,495.82" stroke="#f4a9ab" stroke-width="1.3"/>
<path d="M179.50,486.11 L180.04,482.73 L180.58,481.59 L181.12,481.60 L181.66,479.42 L182.20,485.43 L182.74,482.87 L183.28,485.34 L183.82,488.22 L184.36,486.23 L184.90,483.90 L185.44,486.76 L185.98,484.76 L186.52,481.15 L187.06,482.63 L187.60,482.61 L188.14,483.21 L188.68,484.62 L189.22,489.23 L189.76,481.38 L190.30,488.20 L190.84,483.46 L191.38,484.33 L191.92,483.64 L192.46,483.30 L193.00,484.89 L193.54,481.48 L194.08,487.45 L194.62,481.74 L195.16,488.53 L195.70,480.62 L196.24,485.25 L196.78,482.81 L197.32,479.68 L197.86,489.71 L198.40,484.63 L198.94,482.18 L199.48,481.27 L200.02,479.99 L200.56,482.03 L201.10,482.26 L201.64,483.36 L202.18,482.90 L202.72,483.41 L203.26,480.87 L203.80,483.13 L204.34,481.71 L204.88,479.10 L205.42,480.30 L205.96,484.43 L206.50,483.75 L207.04,481.43 L207.58,485.18 L208.12,488.42 L208.66,486.15 L209.20,481.89 L209.74,483.92 L210.28,484.30 L210.82,481.26 L211.36,486.16 L211.90,477.06 L212.44,483.18 L212.98,484.11 L213.52,477.62 L214.06,486.16 L214.60,484.52 L215.14,483.39 L215.68,485.75 L216.22,484.03 L216.76,481.48 L217.30,482.60 L217.84,483.17 L218.38,480.31 L218.92,477.83 L219.46,478.70 L220.00,488.69 L220.54,479.07 L221.08,480.56 L221.62,481.44 L222.16,485.11 L222.70,483.52 L223.24,482.72 L223.78,485.83 L224.32,478.50 L224.86,479.30 L225.40,481.64 L225.94,484.07 L226.48,477.65 L227.02,479.44 L227.56,478.15 L228.10,482.08 L228.64,474.23 L229.18,481.04 L229.72,475.17 L230.26,485.88 L230.80,479.41 L231.34,479.89 L231.88,486.89 L232.42,481.61 L232.96,483.07 L233.50,483.43 L234.04,481.51 L234.58,482.51 L235.12,478.28 L235.66,477.76 L236.20,478.16 L236.74,481.04 L237.28,479.95 L237.82,473.90 L238.36,479.30 L238.90,478.28 L239.44,479.70 L239.98,476.51 L240.52,475.39 L241.06,475.50 L241.60,476.38 L242.14,475.47 L242.68,477.86 L243.22,475.44 L243.76,479.72 L244.30,476.60 L244.84,473.59 L245.38,477.83 L245.92,472.00 L246.46,472.35 L247.00,475.66 L247.54,484.28 L248.08,491.44 L248.62,492.82 L249.16,487.87 L249.70,486.85 L250.24,482.94 L250.78,478.87 L251.32,485.18 L251.86,488.24 L252.40,485.52 L252.94,486.39 L253.48,482.11 L254.02,481.09 L254.56,475.51 L255.10,482.53 L255.64,478.47 L256.18,477.87 L256.72,476.93 L257.26,477.53 L257.80,469.57 L258.34,475.26 L258.88,474.04 L259.42,471.60 L259.96,472.32 L260.50,467.45 L261.04,474.70 L261.58,471.03 L262.12,470.97 L262.66,468.88 L263.20,465.30 L263.74,468.50 L264.28,471.31 L264.82,464.82 L265.36,466.97 L265.90,461.50 L266.44,462.97 L266.98,458.26 L267.52,462.93 L268.06,467.08 L268.60,464.21 L269.14,462.70 L269.68,465.80 L270.22,466.51 L270.76,467.57 L271.30,468.36 L271.84,470.17 L272.38,464.74 L272.92,467.36 L273.46,472.78 L274.00,466.32 L274.54,469.45 L275.08,469.13 L275.62,469.57 L276.16,466.98 L276.70,476.58 L277.24,470.77 L277.78,469.44 L278.32,471.56 L278.86,475.96 L279.40,475.17 L279.94,471.35 L280.48,468.28 L281.02,477.72 L281.56,474.26 L282.10,472.02 L282.64,472.47 L283.18,471.87 L283.72,470.41 L284.26,471.71 L284.80,478.09 L285.34,475.12 L285.88,477.54 L286.42,474.81 L286.96,470.88 L287.50,472.44 L288.04,469.39 L288.58,472.43 L289.12,473.70 L289.66,474.36 L290.20,479.50 L290.74,478.51 L291.28,476.98 L291.82,477.01 L292.36,477.92 L292.90,482.63 L293.44,483.46 L293.98,484.14 L294.52,476.46 L295.06,482.31 L295.60,480.21 L296.14,483.14 L296.68,483.93 L297.22,484.60 L297.76,485.50 L298.30,484.74 L298.84,483.22 L299.38,489.43 L299.92,486.29 L300.46,487.70 L301.00,488.58 L301.54,485.83 L302.08,483.51 L302.62,491.81 L303.16,487.95 L303.70,485.66 L304.24,486.54 L304.78,493.53 L305.32,487.98 L305.86,490.69 L306.40,491.04 L306.94,488.02 L307.48,493.12 L308.02,489.92 L308.56,488.48 L309.10,492.82 L309.64,494.02 L310.18,485.68 L310.72,494.53 L311.26,488.44 L311.80,494.14 L312.34,492.01 L312.88,494.13 L313.42,492.61 L313.96,492.82 L314.50,496.49" stroke="#6c2c9c" stroke-width="1.3"/>
<path d="M179.50,452.97 L180.04,451.77 L180.58,448.55 L181.12,450.80 L181.66,448.25 L182.20,447.58 L182.74,453.07 L183.28,447.09 L183.82,451.03 L184.36,444.50 L184.90,447.83 L185.44,450.93 L185.98,449.14 L186.52,449.12 L187.06,448.86 L187.60,446.28 L188.14,448.39 L188.68,445.65 L189.22,448.17 L189.76,450.16 L190.30,453.45 L190.84,453.55 L191.38,449.26 L191.92,448.09 L192.46,446.27 L193.00,451.29 L193.54,449.62 L194.08,451.80 L194.62,450.86 L195.16,455.40 L195.70,448.06 L196.24,451.63 L196.78,450.06 L197.32,448.81 L197.86,449.09 L198.40,453.13 L198.94,446.24 L199.48,448.11 L200.02,448.75 L200.56,451.58 L201.10,453.89 L201.64,453.97 L202.18,450.52 L202.72,449.64 L203.26,451.75 L203.80,445.60 L204.34,449.33 L204.88,447.65 L205.42,447.88 L205.96,452.71 L206.50,447.70 L207.04,449.03 L207.58,453.23 L208.12,448.39 L208.66,447.56 L209.20,447.80 L209.74,447.63 L210.28,453.64 L210.82,450.82 L211.36,451.56 L211.90,450.11 L212.44,450.00 L212.98,447.53 L213.52,448.45 L214.06,452.31 L214.60,448.11 L215.14,446.36 L215.68,449.59 L216.22,454.01 L216.76,451.93 L217.30,450.81 L217.84,454.33 L218.38,450.73 L218.92,453.51 L219.46,448.49 L220.00,448.77 L220.54,450.63 L221.08,453.51 L221.62,449.77 L222.16,452.04 L222.70,452.17 L223.24,447.81 L223.78,452.36 L224.32,453.89 L224.86,448.62 L225.40,446.23 L225.94,446.65 L226.48,448.68 L227.02,445.50 L227.56,451.48 L228.10,445.33 L228.64,445.53 L229.18,451.48 L229.72,449.66 L230.26,453.81 L230.80,453.18 L231.34,449.32 L231.88,453.54 L232.42,450.20 L232.96,449.61 L233.50,450.41 L234.04,448.38 L234.58,446.01 L235.12,450.31 L235.66,448.31 L236.20,447.13 L236.74,451.89 L237.28,452.42 L237.82,456.73 L238.36,449.76 L238.90,448.25 L239.44,449.77 L239.98,445.72 L240.52,447.12 L241.06,448.87 L241.60,450.96 L242.14,453.02 L242.68,450.63 L243.22,449.68 L243.76,451.08 L244.30,451.67 L244.84,451.56 L245.38,448.62 L245.92,454.18 L246.46,450.49 L247.00,438.83 L247.54,458.06 L248.08,468.39 L248.62,475.64 L249.16,476.13 L249.70,477.18 L250.24,471.10 L250.78,471.18 L251.32,469.83 L251.86,469.82 L252.40,468.51 L252.94,460.63 L253.48,461.22 L254.02,457.99 L254.56,452.92 L255.10,459.22 L255.64,455.55 L256.18,450.94 L256.72,448.49 L257.26,450.73 L257.80,446.56 L258.34,448.90 L258.88,449.90 L259.42,448.62 L259.96,450.14 L260.50,448.82 L261.04,451.27 L261.58,450.17 L262.12,456.88 L262.66,454.95 L263.20,460.50 L263.74,462.62 L264.28,463.49 L264.82,459.88 L265.36,462.66 L265.90,468.67 L266.44,463.01 L266.98,465.37 L267.52,469.70 L268.06,471.37 L268.60,472.34 L269.14,476.10 L269.68,468.21 L270.22,475.89 L270.76,476.03 L271.30,477.16 L271.84,478.82 L272.38,480.21 L272.92,477.99 L273.46,482.64 L274.00,482.99 L274.54,483.22 L275.08,480.10 L275.62,485.30 L276.16,486.12 L276.70,483.70 L277.24,487.57 L277.78,485.91 L278.32,483.24 L278.86,484.72 L279.40,485.95 L279.94,482.61 L280.48,487.66 L281.02,488.42 L281.56,491.53 L282.10,487.47 L282.64,486.32 L283.18,489.79 L283.72,483.88 L284.26,486.28 L284.80,486.82 L285.34,492.32 L285.88,488.97 L286.42,489.09 L286.96,495.28 L287.50,490.66 L288.04,491.25 L288.58,494.96 L289.12,489.58 L289.66,485.84 L290.20,489.07 L290.74,493.04 L291.28,491.65 L291.82,488.34 L292.36,493.18 L292.90,490.34 L293.44,491.18 L293.98,490.88 L294.52,487.34 L295.06,495.16 L295.60,488.64 L296.14,490.91 L296.68,491.85 L297.22,495.75 L297.76,490.99 L298.30,492.80 L298.84,499.05 L299.38,495.28 L299.92,494.92 L300.46,494.52 L301.00,493.61 L301.54,494.21 L302.08,488.42 L302.62,489.68 L303.16,492.55 L303.70,489.02 L304.24,487.25 L304.78,491.33 L305.32,495.82 L305.86,491.73 L306.40,489.21 L306.94,495.21 L307.48,492.85 L308.02,490.60 L308.56,490.05 L309.10,490.93 L309.64,492.16 L310.18,493.47 L310.72,494.58 L311.26,490.80 L311.80,491.05 L312.34,494.56 L312.88,495.12 L313.42,490.42 L313.96,491.11 L314.50,495.49" stroke="#e8373b" stroke-width="1.3"/>
</g>
<path d="M179.5,429.7 L179.5,521.0 L314.5,521.0" fill="none" stroke="#231f20" stroke-width="1.35"/>
<line x1="179.50" y1="429.70" x2="314.50" y2="429.70" stroke="#231f20" stroke-width="1.35" />
<line x1="314.50" y1="429.70" x2="314.50" y2="521.00" stroke="#231f20" stroke-width="1.35" />
<line x1="193.00" y1="521.00" x2="193.00" y2="524.50" stroke="#231f20" stroke-width="1.35" />
<text x="193.00" y="535.80" font-size="11" text-anchor="middle" fill="#231f20" >-20</text>
<line x1="220.00" y1="521.00" x2="220.00" y2="524.50" stroke="#231f20" stroke-width="1.35" />
<text x="220.00" y="535.80" font-size="11" text-anchor="middle" fill="#231f20" >-10</text>
<line x1="247.00" y1="521.00" x2="247.00" y2="524.50" stroke="#231f20" stroke-width="1.35" />
<text x="247.00" y="535.80" font-size="11" text-anchor="middle" fill="#231f20" >TES</text>
<line x1="274.00" y1="521.00" x2="274.00" y2="524.50" stroke="#231f20" stroke-width="1.35" />
<text x="274.00" y="535.80" font-size="11" text-anchor="middle" fill="#231f20" >10</text>
<line x1="301.00" y1="521.00" x2="301.00" y2="524.50" stroke="#231f20" stroke-width="1.35" />
<text x="301.00" y="535.80" font-size="11" text-anchor="middle" fill="#231f20" >20</text>
<text x="166.30" y="552.90" font-size="10.7" text-anchor="middle" fill="#231f20" >Distance from TSS/TES (kb)</text>
<text x="9.40" y="475.35" font-size="10.8" text-anchor="middle" fill="#231f20" transform="rotate(-90 9.40 475.35)" >RPKM</text>
<text x="176" y="408.3" font-size="10.6" text-anchor="middle" font-weight="bold" fill="#000"><tspan font-style="italic">UVSSA</tspan>-KO</text>
<text x="175.40" y="421.70" font-size="10.7" text-anchor="middle" font-weight="bold" fill="#000" >+UVSSA-V411A</text>
<g clip-path="url(#cp7)" fill="none" stroke-linejoin="round">
<path d="M36.00,668.82 L36.54,670.97 L37.08,674.17 L37.63,672.10 L38.17,672.42 L38.71,672.18 L39.25,670.43 L39.79,674.42 L40.34,669.64 L40.88,674.10 L41.42,672.10 L41.96,669.81 L42.50,670.28 L43.05,673.17 L43.59,667.93 L44.13,670.92 L44.67,673.73 L45.21,671.61 L45.76,673.47 L46.30,670.77 L46.84,674.56 L47.38,670.67 L47.92,675.47 L48.47,669.36 L49.01,671.12 L49.55,668.81 L50.09,673.21 L50.63,676.16 L51.18,674.61 L51.72,672.21 L52.26,667.51 L52.80,670.48 L53.34,668.90 L53.89,673.57 L54.43,672.83 L54.97,672.41 L55.51,669.21 L56.05,672.90 L56.60,672.32 L57.14,668.24 L57.68,673.56 L58.22,671.77 L58.76,674.56 L59.31,672.20 L59.85,669.93 L60.39,669.16 L60.93,669.39 L61.47,666.53 L62.02,654.72 L62.56,647.04 L63.10,646.81 L63.64,639.48 L64.18,634.71 L64.73,638.76 L65.27,643.91 L65.81,642.42 L66.35,645.30 L66.89,653.63 L67.44,655.15 L67.98,660.20 L68.52,664.62 L69.06,665.93 L69.60,661.29 L70.15,664.37 L70.69,665.50 L71.23,666.65 L71.77,665.41 L72.31,667.92 L72.86,667.12 L73.40,669.71 L73.94,667.95 L74.48,669.35 L75.02,667.50 L75.57,672.06 L76.11,670.43 L76.65,671.38 L77.19,665.41 L77.73,670.07 L78.28,668.92 L78.82,672.46 L79.36,670.83 L79.90,672.46 L80.44,669.07 L80.99,670.91 L81.53,665.59 L82.07,670.74 L82.61,666.73 L83.15,669.17 L83.70,667.78 L84.24,670.83 L84.78,668.98 L85.32,669.21 L85.86,670.56 L86.41,667.70 L86.95,672.06 L87.49,669.25 L88.03,669.31 L88.57,668.69 L89.12,671.33 L89.66,667.46 L90.20,670.79 L90.74,670.16 L91.28,670.92 L91.83,669.70 L92.37,668.07 L92.91,662.68 L93.45,674.51 L93.99,666.92 L94.54,666.97 L95.08,665.71 L95.62,668.29 L96.16,667.84 L96.70,665.00 L97.25,668.59 L97.79,668.41 L98.33,668.80 L98.87,667.83 L99.41,665.00 L99.96,670.67 L100.50,666.27 L101.04,673.70 L101.58,667.77 L102.12,669.67 L102.67,666.04 L103.21,667.05 L103.75,667.09 L104.29,667.55 L104.83,668.06 L105.38,673.10 L105.92,668.15 L106.46,671.68 L107.00,666.55 L107.54,670.22 L108.09,668.79 L108.63,669.87 L109.17,668.66 L109.71,668.42 L110.25,667.74 L110.80,671.49 L111.34,665.54 L111.88,671.15 L112.42,669.24 L112.96,674.63 L113.51,668.26 L114.05,666.82 L114.59,666.32 L115.13,667.79 L115.67,667.86 L116.22,670.31 L116.76,669.76 L117.30,669.33 L117.84,668.58 L118.38,671.20 L118.93,669.68 L119.47,667.77 L120.01,668.55 L120.55,669.18 L121.09,670.63 L121.64,668.28 L122.18,668.50 L122.72,665.73 L123.26,668.86 L123.80,666.80 L124.35,671.70 L124.89,665.11 L125.43,671.82 L125.97,669.09 L126.51,669.70 L127.06,670.20 L127.60,669.64 L128.14,670.12 L128.68,668.76 L129.22,668.41 L129.77,666.55 L130.31,666.35 L130.85,665.24 L131.39,667.96 L131.93,670.68 L132.48,664.02 L133.02,667.78 L133.56,674.36 L134.10,667.33 L134.64,669.25 L135.19,670.46 L135.73,670.24 L136.27,668.83 L136.81,670.69 L137.35,668.45 L137.90,669.32 L138.44,669.33 L138.98,667.99 L139.52,668.24 L140.06,665.52 L140.61,667.92 L141.15,670.96 L141.69,668.87 L142.23,665.29 L142.77,665.26 L143.32,670.59 L143.86,667.45 L144.40,669.88 L144.94,669.46 L145.48,672.16 L146.03,672.36 L146.57,669.52 L147.11,668.37 L147.65,667.84 L148.19,670.74 L148.74,669.40 L149.28,668.65 L149.82,669.25 L150.36,674.85 L150.90,671.16 L151.45,668.70 L151.99,667.69 L152.53,670.89 L153.07,666.75 L153.61,675.24 L154.16,666.25 L154.70,670.47 L155.24,668.95 L155.78,670.96 L156.32,671.51 L156.87,669.65 L157.41,668.87 L157.95,671.39 L158.49,667.28 L159.03,669.90 L159.58,668.79 L160.12,670.52 L160.66,670.40 L161.20,669.08 L161.74,671.92 L162.29,667.56 L162.83,671.75 L163.37,668.15 L163.91,671.45 L164.45,669.49 L165.00,670.53 L165.54,666.43 L166.08,665.38 L166.62,669.94 L167.16,668.05 L167.71,668.51 L168.25,667.43 L168.79,666.76 L169.33,665.10 L169.87,668.80 L170.42,672.83 L170.96,667.49 L171.50,669.79" stroke="#bb8bd2" stroke-width="1.3"/>
<path d="M36.00,672.21 L36.54,672.85 L37.08,673.39 L37.63,677.55 L38.17,672.57 L38.71,677.27 L39.25,671.76 L39.79,672.35 L40.34,671.97 L40.88,672.01 L41.42,673.01 L41.96,674.57 L42.50,674.18 L43.05,670.90 L43.59,674.75 L44.13,674.14 L44.67,675.08 L45.21,674.74 L45.76,674.39 L46.30,673.39 L46.84,674.43 L47.38,674.58 L47.92,675.09 L48.47,673.83 L49.01,676.48 L49.55,673.97 L50.09,671.71 L50.63,675.53 L51.18,674.25 L51.72,669.05 L52.26,676.05 L52.80,677.23 L53.34,675.08 L53.89,671.03 L54.43,670.65 L54.97,676.62 L55.51,673.39 L56.05,674.46 L56.60,675.58 L57.14,678.09 L57.68,672.70 L58.22,676.18 L58.76,674.09 L59.31,674.52 L59.85,671.29 L60.39,672.59 L60.93,671.37 L61.47,664.26 L62.02,656.41 L62.56,655.26 L63.10,648.07 L63.64,650.59 L64.18,657.60 L64.73,660.56 L65.27,665.07 L65.81,665.09 L66.35,667.85 L66.89,666.35 L67.44,669.05 L67.98,669.43 L68.52,671.85 L69.06,671.54 L69.60,674.32 L70.15,676.52 L70.69,672.54 L71.23,672.89 L71.77,670.52 L72.31,674.89 L72.86,675.66 L73.40,677.22 L73.94,681.60 L74.48,676.92 L75.02,673.62 L75.57,676.10 L76.11,679.20 L76.65,673.32 L77.19,675.49 L77.73,675.05 L78.28,675.15 L78.82,674.58 L79.36,673.45 L79.90,677.46 L80.44,674.68 L80.99,675.17 L81.53,672.14 L82.07,676.08 L82.61,671.18 L83.15,673.03 L83.70,671.15 L84.24,675.38 L84.78,672.60 L85.32,673.38 L85.86,676.76 L86.41,674.47 L86.95,674.80 L87.49,675.71 L88.03,675.33 L88.57,676.53 L89.12,674.73 L89.66,673.24 L90.20,675.25 L90.74,676.66 L91.28,671.87 L91.83,674.43 L92.37,673.68 L92.91,674.13 L93.45,674.67 L93.99,672.56 L94.54,674.60 L95.08,673.56 L95.62,676.22 L96.16,676.55 L96.70,674.25 L97.25,670.02 L97.79,673.16 L98.33,669.93 L98.87,672.61 L99.41,672.59 L99.96,674.45 L100.50,673.41 L101.04,670.07 L101.58,671.15 L102.12,674.43 L102.67,674.12 L103.21,670.80 L103.75,674.16 L104.29,671.51 L104.83,674.83 L105.38,672.00 L105.92,670.33 L106.46,671.57 L107.00,672.63 L107.54,672.79 L108.09,673.18 L108.63,673.04 L109.17,670.82 L109.71,670.84 L110.25,672.18 L110.80,675.20 L111.34,673.83 L111.88,672.31 L112.42,672.73 L112.96,675.27 L113.51,671.57 L114.05,668.01 L114.59,674.97 L115.13,672.59 L115.67,669.72 L116.22,673.42 L116.76,673.38 L117.30,672.30 L117.84,671.55 L118.38,673.31 L118.93,670.75 L119.47,675.99 L120.01,671.29 L120.55,671.79 L121.09,672.73 L121.64,671.71 L122.18,672.30 L122.72,669.94 L123.26,673.18 L123.80,672.39 L124.35,674.83 L124.89,674.32 L125.43,672.68 L125.97,675.06 L126.51,673.74 L127.06,674.59 L127.60,673.05 L128.14,671.91 L128.68,670.38 L129.22,675.62 L129.77,672.42 L130.31,670.44 L130.85,669.48 L131.39,669.41 L131.93,674.57 L132.48,672.86 L133.02,670.87 L133.56,670.17 L134.10,671.34 L134.64,671.35 L135.19,671.37 L135.73,673.18 L136.27,671.46 L136.81,670.25 L137.35,672.33 L137.90,669.54 L138.44,676.85 L138.98,672.23 L139.52,668.51 L140.06,669.99 L140.61,668.93 L141.15,671.27 L141.69,673.67 L142.23,672.42 L142.77,668.69 L143.32,674.79 L143.86,673.16 L144.40,674.52 L144.94,672.34 L145.48,672.11 L146.03,670.26 L146.57,672.80 L147.11,668.14 L147.65,670.06 L148.19,672.08 L148.74,673.01 L149.28,673.91 L149.82,670.92 L150.36,667.50 L150.90,671.39 L151.45,672.95 L151.99,671.15 L152.53,671.97 L153.07,672.65 L153.61,674.44 L154.16,671.05 L154.70,668.21 L155.24,668.66 L155.78,669.08 L156.32,670.46 L156.87,669.96 L157.41,668.95 L157.95,670.87 L158.49,670.23 L159.03,671.45 L159.58,668.63 L160.12,672.36 L160.66,669.40 L161.20,669.06 L161.74,669.07 L162.29,669.27 L162.83,671.39 L163.37,671.55 L163.91,671.25 L164.45,671.16 L165.00,672.50 L165.54,671.24 L166.08,671.56 L166.62,672.10 L167.16,669.68 L167.71,671.70 L168.25,669.84 L168.79,667.58 L169.33,667.16 L169.87,670.19 L170.42,668.33 L170.96,669.71 L171.50,665.77" stroke="#f4a9ab" stroke-width="1.3"/>
<path d="M36.00,672.06 L36.54,671.62 L37.08,671.89 L37.63,670.27 L38.17,665.26 L38.71,672.72 L39.25,666.56 L39.79,665.82 L40.34,669.79 L40.88,670.66 L41.42,667.84 L41.96,666.07 L42.50,663.81 L43.05,666.92 L43.59,665.25 L44.13,670.26 L44.67,671.32 L45.21,673.42 L45.76,672.07 L46.30,670.18 L46.84,668.86 L47.38,672.56 L47.92,667.41 L48.47,669.68 L49.01,671.03 L49.55,671.36 L50.09,664.61 L50.63,669.15 L51.18,671.79 L51.72,671.96 L52.26,665.19 L52.80,671.11 L53.34,666.84 L53.89,666.30 L54.43,675.46 L54.97,666.55 L55.51,670.38 L56.05,672.54 L56.60,671.26 L57.14,668.61 L57.68,669.10 L58.22,669.00 L58.76,671.84 L59.31,666.97 L59.85,666.30 L60.39,664.67 L60.93,660.37 L61.47,645.08 L62.02,619.33 L62.56,585.11 L63.10,546.85 L63.64,529.59 L64.18,541.84 L64.73,573.10 L65.27,611.16 L65.81,627.24 L66.35,632.57 L66.89,645.35 L67.44,647.63 L67.98,643.47 L68.52,652.97 L69.06,654.57 L69.60,655.57 L70.15,659.57 L70.69,661.31 L71.23,661.29 L71.77,661.88 L72.31,663.07 L72.86,662.02 L73.40,659.36 L73.94,663.22 L74.48,660.18 L75.02,662.39 L75.57,662.20 L76.11,662.86 L76.65,665.07 L77.19,663.37 L77.73,663.71 L78.28,667.20 L78.82,662.72 L79.36,663.19 L79.90,663.75 L80.44,666.06 L80.99,671.16 L81.53,661.23 L82.07,665.02 L82.61,670.20 L83.15,663.37 L83.70,666.70 L84.24,663.38 L84.78,665.35 L85.32,662.39 L85.86,664.64 L86.41,664.57 L86.95,664.94 L87.49,662.36 L88.03,668.56 L88.57,662.59 L89.12,663.83 L89.66,666.91 L90.20,665.62 L90.74,666.69 L91.28,665.45 L91.83,663.29 L92.37,667.22 L92.91,663.75 L93.45,663.26 L93.99,663.99 L94.54,661.72 L95.08,665.69 L95.62,663.82 L96.16,659.46 L96.70,665.42 L97.25,665.82 L97.79,665.46 L98.33,664.03 L98.87,666.95 L99.41,666.03 L99.96,669.70 L100.50,667.97 L101.04,667.89 L101.58,668.22 L102.12,666.47 L102.67,663.69 L103.21,666.30 L103.75,668.58 L104.29,664.76 L104.83,664.92 L105.38,668.74 L105.92,664.95 L106.46,667.92 L107.00,666.84 L107.54,667.08 L108.09,663.28 L108.63,667.28 L109.17,666.04 L109.71,664.80 L110.25,662.72 L110.80,662.35 L111.34,667.70 L111.88,662.32 L112.42,664.47 L112.96,662.28 L113.51,662.61 L114.05,666.46 L114.59,665.06 L115.13,665.86 L115.67,664.22 L116.22,661.10 L116.76,664.98 L117.30,666.72 L117.84,658.92 L118.38,667.50 L118.93,665.07 L119.47,665.10 L120.01,668.14 L120.55,663.11 L121.09,662.44 L121.64,665.22 L122.18,664.87 L122.72,665.40 L123.26,669.28 L123.80,664.39 L124.35,668.00 L124.89,667.29 L125.43,663.98 L125.97,662.69 L126.51,667.04 L127.06,662.14 L127.60,660.61 L128.14,664.48 L128.68,665.07 L129.22,664.38 L129.77,665.84 L130.31,666.93 L130.85,663.28 L131.39,663.08 L131.93,666.04 L132.48,665.80 L133.02,666.32 L133.56,666.50 L134.10,667.14 L134.64,668.43 L135.19,662.56 L135.73,665.60 L136.27,664.58 L136.81,660.38 L137.35,665.90 L137.90,663.31 L138.44,667.98 L138.98,666.21 L139.52,663.00 L140.06,665.31 L140.61,668.14 L141.15,668.38 L141.69,663.84 L142.23,666.91 L142.77,662.99 L143.32,663.97 L143.86,665.40 L144.40,664.78 L144.94,662.79 L145.48,664.52 L146.03,666.88 L146.57,663.77 L147.11,665.42 L147.65,665.11 L148.19,663.17 L148.74,663.75 L149.28,662.08 L149.82,664.96 L150.36,665.60 L150.90,665.31 L151.45,663.58 L151.99,666.41 L152.53,665.33 L153.07,666.48 L153.61,666.30 L154.16,664.86 L154.70,658.64 L155.24,665.32 L155.78,663.78 L156.32,664.16 L156.87,664.79 L157.41,664.29 L157.95,659.68 L158.49,664.96 L159.03,660.51 L159.58,662.77 L160.12,666.38 L160.66,665.84 L161.20,665.38 L161.74,666.86 L162.29,661.53 L162.83,663.27 L163.37,662.99 L163.91,666.68 L164.45,663.12 L165.00,665.49 L165.54,658.43 L166.08,664.41 L166.62,663.51 L167.16,663.19 L167.71,665.29 L168.25,665.08 L168.79,665.08 L169.33,662.11 L169.87,665.85 L170.42,664.49 L170.96,663.32 L171.50,665.06" stroke="#6c2c9c" stroke-width="1.3"/>
<path d="M36.00,670.21 L36.54,667.46 L37.08,675.54 L37.63,667.14 L38.17,671.42 L38.71,673.30 L39.25,673.36 L39.79,674.10 L40.34,672.06 L40.88,669.54 L41.42,670.20 L41.96,670.12 L42.50,675.85 L43.05,675.61 L43.59,668.05 L44.13,669.53 L44.67,666.62 L45.21,669.05 L45.76,674.54 L46.30,668.97 L46.84,670.62 L47.38,671.68 L47.92,674.26 L48.47,672.31 L49.01,672.72 L49.55,670.25 L50.09,672.17 L50.63,668.67 L51.18,674.46 L51.72,671.49 L52.26,671.47 L52.80,674.84 L53.34,675.67 L53.89,670.38 L54.43,671.64 L54.97,673.35 L55.51,672.05 L56.05,674.70 L56.60,672.53 L57.14,674.64 L57.68,672.76 L58.22,670.56 L58.76,673.54 L59.31,670.37 L59.85,674.55 L60.39,671.45 L60.93,669.06 L61.47,647.46 L62.02,609.44 L62.56,556.88 L63.10,513.97 L63.64,507.02 L64.18,543.81 L64.73,597.37 L65.27,623.06 L65.81,647.61 L66.35,651.99 L66.89,653.68 L67.44,655.18 L67.98,660.04 L68.52,661.28 L69.06,659.95 L69.60,662.43 L70.15,662.91 L70.69,660.34 L71.23,660.30 L71.77,661.80 L72.31,660.70 L72.86,659.88 L73.40,660.02 L73.94,659.25 L74.48,659.62 L75.02,654.60 L75.57,655.47 L76.11,654.68 L76.65,652.95 L77.19,650.72 L77.73,647.14 L78.28,649.84 L78.82,648.73 L79.36,645.85 L79.90,646.97 L80.44,640.40 L80.99,639.82 L81.53,638.97 L82.07,639.53 L82.61,636.01 L83.15,633.84 L83.70,633.76 L84.24,634.24 L84.78,636.24 L85.32,629.02 L85.86,631.37 L86.41,631.75 L86.95,626.72 L87.49,627.25 L88.03,630.72 L88.57,626.69 L89.12,626.30 L89.66,622.41 L90.20,628.63 L90.74,624.14 L91.28,622.73 L91.83,618.13 L92.37,623.41 L92.91,627.12 L93.45,623.33 L93.99,619.32 L94.54,617.99 L95.08,615.74 L95.62,618.98 L96.16,621.91 L96.70,617.81 L97.25,619.99 L97.79,620.45 L98.33,619.92 L98.87,616.86 L99.41,622.15 L99.96,622.45 L100.50,620.12 L101.04,620.12 L101.58,622.10 L102.12,622.41 L102.67,619.50 L103.21,617.31 L103.75,618.98 L104.29,619.20 L104.83,617.99 L105.38,626.02 L105.92,625.01 L106.46,623.20 L107.00,624.77 L107.54,624.65 L108.09,622.45 L108.63,626.13 L109.17,624.46 L109.71,628.74 L110.25,626.52 L110.80,621.25 L111.34,626.23 L111.88,624.50 L112.42,623.94 L112.96,627.24 L113.51,625.02 L114.05,626.29 L114.59,625.49 L115.13,629.12 L115.67,631.46 L116.22,630.82 L116.76,630.06 L117.30,627.79 L117.84,629.59 L118.38,630.06 L118.93,629.53 L119.47,626.41 L120.01,630.49 L120.55,625.41 L121.09,632.08 L121.64,630.53 L122.18,627.01 L122.72,627.83 L123.26,631.17 L123.80,629.36 L124.35,630.82 L124.89,627.02 L125.43,627.78 L125.97,630.83 L126.51,628.12 L127.06,629.98 L127.60,629.27 L128.14,628.93 L128.68,630.46 L129.22,628.06 L129.77,627.97 L130.31,628.05 L130.85,626.40 L131.39,629.75 L131.93,632.70 L132.48,630.28 L133.02,628.60 L133.56,629.04 L134.10,627.68 L134.64,627.13 L135.19,629.38 L135.73,629.36 L136.27,631.49 L136.81,626.57 L137.35,629.73 L137.90,631.73 L138.44,631.80 L138.98,630.10 L139.52,625.30 L140.06,627.21 L140.61,633.21 L141.15,629.39 L141.69,628.45 L142.23,627.56 L142.77,628.25 L143.32,630.65 L143.86,628.09 L144.40,630.44 L144.94,634.48 L145.48,630.69 L146.03,630.58 L146.57,626.52 L147.11,626.21 L147.65,631.27 L148.19,628.24 L148.74,628.38 L149.28,632.04 L149.82,633.48 L150.36,628.65 L150.90,628.03 L151.45,629.75 L151.99,634.84 L152.53,628.25 L153.07,629.52 L153.61,630.22 L154.16,628.78 L154.70,630.68 L155.24,626.51 L155.78,627.79 L156.32,629.11 L156.87,627.00 L157.41,627.71 L157.95,631.26 L158.49,627.86 L159.03,628.56 L159.58,631.62 L160.12,628.91 L160.66,626.23 L161.20,628.71 L161.74,623.72 L162.29,622.95 L162.83,627.77 L163.37,625.61 L163.91,622.05 L164.45,627.65 L165.00,628.97 L165.54,627.74 L166.08,630.00 L166.62,629.88 L167.16,626.03 L167.71,627.49 L168.25,625.81 L168.79,625.16 L169.33,628.15 L169.87,626.70 L170.42,626.82 L170.96,627.74 L171.50,628.08" stroke="#e8373b" stroke-width="1.3"/>
</g>
<path d="M36.0,601.7 L36.0,693.0 L171.5,693.0" fill="none" stroke="#231f20" stroke-width="1.35"/>
<line x1="36.00" y1="601.70" x2="171.50" y2="601.70" stroke="#231f20" stroke-width="1.35" />
<line x1="171.50" y1="601.70" x2="171.50" y2="693.00" stroke="#231f20" stroke-width="1.35" />
<line x1="32.50" y1="693.00" x2="36.00" y2="693.00" stroke="#231f20" stroke-width="1.35" />
<text x="29.50" y="696.96" font-size="11" text-anchor="end" fill="#231f20" >0.1</text>
<line x1="32.50" y1="662.57" x2="36.00" y2="662.57" stroke="#231f20" stroke-width="1.35" />
<text x="29.50" y="666.53" font-size="11" text-anchor="end" fill="#231f20" >0.2</text>
<line x1="32.50" y1="632.13" x2="36.00" y2="632.13" stroke="#231f20" stroke-width="1.35" />
<text x="29.50" y="636.09" font-size="11" text-anchor="end" fill="#231f20" >0.3</text>
<line x1="32.50" y1="601.70" x2="36.00" y2="601.70" stroke="#231f20" stroke-width="1.35" />
<text x="29.50" y="605.66" font-size="11" text-anchor="end" fill="#231f20" >0.4</text>
<line x1="36.00" y1="693.00" x2="36.00" y2="696.50" stroke="#231f20" stroke-width="1.35" />
<text x="36.00" y="707.80" font-size="11" text-anchor="middle" fill="#231f20" >-10</text>
<line x1="63.10" y1="693.00" x2="63.10" y2="696.50" stroke="#231f20" stroke-width="1.35" />
<text x="63.10" y="707.80" font-size="11" text-anchor="middle" fill="#231f20" >TSS</text>
<line x1="90.20" y1="693.00" x2="90.20" y2="696.50" stroke="#231f20" stroke-width="1.35" />
<text x="90.20" y="707.80" font-size="11" text-anchor="middle" fill="#231f20" >10</text>
<line x1="117.30" y1="693.00" x2="117.30" y2="696.50" stroke="#231f20" stroke-width="1.35" />
<text x="117.30" y="707.80" font-size="11" text-anchor="middle" fill="#231f20" >20</text>
<line x1="144.40" y1="693.00" x2="144.40" y2="696.50" stroke="#231f20" stroke-width="1.35" />
<text x="144.40" y="707.80" font-size="11" text-anchor="middle" fill="#231f20" >30</text>
<line x1="171.50" y1="693.00" x2="171.50" y2="696.50" stroke="#231f20" stroke-width="1.35" />
<text x="171.50" y="707.80" font-size="11" text-anchor="middle" fill="#231f20" >40</text>
<g clip-path="url(#cp8)" fill="none" stroke-linejoin="round">
<path d="M179.50,674.27 L180.04,671.40 L180.58,672.16 L181.12,672.78 L181.66,671.03 L182.20,669.66 L182.74,671.65 L183.28,674.13 L183.82,670.73 L184.36,672.57 L184.90,669.45 L185.44,672.28 L185.98,670.05 L186.52,674.01 L187.06,667.88 L187.60,673.23 L188.14,672.73 L188.68,670.74 L189.22,666.49 L189.76,671.60 L190.30,670.99 L190.84,676.22 L191.38,669.48 L191.92,672.08 L192.46,669.94 L193.00,667.69 L193.54,674.92 L194.08,672.09 L194.62,668.76 L195.16,668.36 L195.70,670.53 L196.24,673.43 L196.78,673.04 L197.32,672.89 L197.86,670.82 L198.40,670.22 L198.94,670.88 L199.48,670.92 L200.02,670.47 L200.56,672.90 L201.10,671.15 L201.64,675.48 L202.18,672.98 L202.72,669.56 L203.26,670.12 L203.80,668.42 L204.34,674.54 L204.88,669.48 L205.42,673.35 L205.96,669.65 L206.50,675.41 L207.04,672.71 L207.58,671.85 L208.12,674.64 L208.66,673.28 L209.20,666.89 L209.74,668.84 L210.28,670.24 L210.82,671.88 L211.36,672.03 L211.90,672.00 L212.44,665.58 L212.98,669.92 L213.52,669.34 L214.06,671.79 L214.60,670.68 L215.14,669.66 L215.68,671.55 L216.22,670.47 L216.76,671.01 L217.30,671.09 L217.84,672.07 L218.38,669.50 L218.92,670.71 L219.46,668.70 L220.00,669.97 L220.54,672.60 L221.08,669.90 L221.62,669.94 L222.16,668.26 L222.70,670.12 L223.24,669.65 L223.78,667.72 L224.32,668.35 L224.86,670.95 L225.40,667.15 L225.94,671.10 L226.48,670.83 L227.02,668.38 L227.56,670.53 L228.10,673.94 L228.64,670.54 L229.18,670.15 L229.72,667.24 L230.26,671.47 L230.80,672.91 L231.34,667.78 L231.88,669.79 L232.42,668.23 L232.96,670.33 L233.50,670.19 L234.04,670.12 L234.58,670.38 L235.12,671.71 L235.66,669.00 L236.20,672.17 L236.74,672.71 L237.28,670.72 L237.82,666.10 L238.36,676.11 L238.90,672.73 L239.44,675.02 L239.98,669.85 L240.52,671.59 L241.06,674.08 L241.60,668.68 L242.14,672.93 L242.68,665.56 L243.22,669.18 L243.76,668.90 L244.30,670.88 L244.84,668.44 L245.38,669.64 L245.92,673.11 L246.46,671.10 L247.00,672.19 L247.54,670.92 L248.08,671.41 L248.62,671.01 L249.16,670.42 L249.70,672.33 L250.24,668.34 L250.78,674.49 L251.32,672.27 L251.86,673.98 L252.40,669.04 L252.94,671.41 L253.48,669.92 L254.02,672.21 L254.56,669.51 L255.10,669.56 L255.64,669.71 L256.18,667.83 L256.72,668.09 L257.26,671.42 L257.80,674.18 L258.34,673.14 L258.88,668.72 L259.42,671.33 L259.96,669.10 L260.50,673.79 L261.04,669.63 L261.58,671.16 L262.12,671.04 L262.66,671.61 L263.20,671.37 L263.74,669.05 L264.28,667.55 L264.82,669.36 L265.36,668.07 L265.90,668.70 L266.44,671.74 L266.98,672.34 L267.52,668.71 L268.06,668.17 L268.60,665.42 L269.14,669.04 L269.68,671.10 L270.22,670.17 L270.76,667.68 L271.30,670.49 L271.84,669.86 L272.38,676.85 L272.92,673.34 L273.46,664.95 L274.00,671.04 L274.54,670.91 L275.08,671.42 L275.62,669.84 L276.16,671.57 L276.70,672.18 L277.24,671.53 L277.78,671.01 L278.32,667.62 L278.86,669.56 L279.40,669.93 L279.94,669.52 L280.48,667.54 L281.02,668.19 L281.56,669.23 L282.10,672.04 L282.64,672.37 L283.18,668.46 L283.72,669.50 L284.26,665.95 L284.80,670.64 L285.34,668.63 L285.88,670.38 L286.42,670.41 L286.96,670.24 L287.50,670.09 L288.04,669.97 L288.58,672.91 L289.12,671.28 L289.66,670.42 L290.20,667.49 L290.74,668.90 L291.28,671.48 L291.82,667.73 L292.36,668.65 L292.90,671.99 L293.44,667.60 L293.98,674.42 L294.52,670.09 L295.06,666.95 L295.60,672.26 L296.14,670.28 L296.68,666.79 L297.22,670.17 L297.76,669.45 L298.30,668.98 L298.84,666.07 L299.38,672.30 L299.92,672.93 L300.46,666.09 L301.00,669.61 L301.54,672.70 L302.08,670.10 L302.62,667.94 L303.16,670.26 L303.70,667.76 L304.24,671.72 L304.78,669.76 L305.32,674.94 L305.86,670.85 L306.40,672.46 L306.94,666.44 L307.48,668.74 L308.02,668.14 L308.56,669.56 L309.10,671.97 L309.64,671.67 L310.18,671.02 L310.72,671.16 L311.26,671.08 L311.80,666.29 L312.34,672.24 L312.88,671.68 L313.42,672.65 L313.96,668.82 L314.50,671.30" stroke="#bb8bd2" stroke-width="1.3"/>
<path d="M179.50,669.41 L180.04,670.27 L180.58,669.91 L181.12,673.64 L181.66,670.06 L182.20,671.94 L182.74,671.97 L183.28,669.57 L183.82,672.40 L184.36,673.92 L184.90,672.43 L185.44,673.75 L185.98,674.91 L186.52,671.80 L187.06,670.80 L187.60,675.46 L188.14,671.48 L188.68,671.02 L189.22,671.16 L189.76,673.78 L190.30,672.02 L190.84,671.78 L191.38,670.64 L191.92,673.77 L192.46,670.70 L193.00,669.58 L193.54,675.56 L194.08,670.96 L194.62,674.14 L195.16,671.65 L195.70,672.57 L196.24,668.99 L196.78,671.20 L197.32,669.84 L197.86,673.19 L198.40,670.43 L198.94,668.66 L199.48,672.54 L200.02,670.02 L200.56,670.34 L201.10,671.33 L201.64,673.48 L202.18,670.67 L202.72,671.67 L203.26,670.06 L203.80,669.73 L204.34,668.33 L204.88,672.65 L205.42,669.53 L205.96,669.82 L206.50,670.95 L207.04,669.96 L207.58,670.82 L208.12,669.83 L208.66,670.32 L209.20,672.05 L209.74,670.82 L210.28,669.79 L210.82,672.55 L211.36,671.71 L211.90,668.57 L212.44,670.36 L212.98,672.07 L213.52,671.95 L214.06,668.32 L214.60,670.04 L215.14,674.34 L215.68,669.92 L216.22,672.47 L216.76,671.05 L217.30,673.74 L217.84,671.33 L218.38,672.20 L218.92,672.99 L219.46,669.11 L220.00,666.25 L220.54,669.74 L221.08,670.40 L221.62,672.99 L222.16,671.20 L222.70,671.94 L223.24,674.12 L223.78,669.69 L224.32,670.79 L224.86,672.00 L225.40,673.39 L225.94,669.84 L226.48,668.17 L227.02,670.45 L227.56,671.54 L228.10,669.48 L228.64,672.37 L229.18,674.56 L229.72,667.44 L230.26,667.47 L230.80,671.09 L231.34,670.40 L231.88,667.47 L232.42,672.51 L232.96,670.27 L233.50,668.90 L234.04,667.29 L234.58,671.92 L235.12,671.93 L235.66,670.09 L236.20,671.48 L236.74,667.58 L237.28,671.77 L237.82,670.04 L238.36,670.05 L238.90,670.85 L239.44,673.42 L239.98,667.92 L240.52,669.96 L241.06,669.06 L241.60,669.22 L242.14,671.31 L242.68,671.07 L243.22,671.06 L243.76,668.14 L244.30,671.19 L244.84,674.33 L245.38,670.79 L245.92,671.88 L246.46,668.49 L247.00,671.38 L247.54,669.33 L248.08,670.05 L248.62,669.50 L249.16,671.34 L249.70,670.43 L250.24,669.59 L250.78,668.52 L251.32,668.50 L251.86,671.25 L252.40,669.57 L252.94,667.10 L253.48,667.47 L254.02,669.63 L254.56,669.41 L255.10,665.54 L255.64,666.95 L256.18,671.24 L256.72,664.19 L257.26,666.61 L257.80,667.26 L258.34,668.53 L258.88,669.50 L259.42,668.57 L259.96,668.71 L260.50,669.28 L261.04,670.81 L261.58,664.49 L262.12,664.54 L262.66,665.85 L263.20,666.61 L263.74,667.93 L264.28,667.57 L264.82,666.76 L265.36,668.22 L265.90,666.01 L266.44,666.57 L266.98,667.02 L267.52,666.02 L268.06,666.17 L268.60,664.47 L269.14,666.64 L269.68,667.90 L270.22,665.46 L270.76,663.62 L271.30,662.56 L271.84,664.18 L272.38,668.07 L272.92,667.05 L273.46,668.42 L274.00,665.38 L274.54,665.91 L275.08,667.45 L275.62,662.74 L276.16,663.99 L276.70,666.34 L277.24,664.05 L277.78,669.39 L278.32,664.82 L278.86,665.37 L279.40,661.59 L279.94,663.26 L280.48,664.53 L281.02,666.25 L281.56,666.49 L282.10,665.09 L282.64,666.09 L283.18,666.99 L283.72,663.42 L284.26,666.66 L284.80,669.01 L285.34,665.20 L285.88,666.88 L286.42,665.60 L286.96,664.37 L287.50,668.27 L288.04,669.38 L288.58,667.93 L289.12,664.70 L289.66,662.90 L290.20,663.29 L290.74,666.96 L291.28,666.28 L291.82,665.49 L292.36,667.67 L292.90,666.28 L293.44,666.65 L293.98,664.28 L294.52,667.16 L295.06,662.95 L295.60,664.86 L296.14,666.13 L296.68,669.41 L297.22,666.09 L297.76,666.33 L298.30,663.96 L298.84,665.83 L299.38,662.50 L299.92,666.71 L300.46,669.59 L301.00,665.56 L301.54,669.06 L302.08,666.43 L302.62,667.93 L303.16,664.53 L303.70,668.28 L304.24,665.25 L304.78,669.87 L305.32,664.88 L305.86,668.84 L306.40,666.22 L306.94,664.79 L307.48,667.67 L308.02,667.04 L308.56,664.48 L309.10,666.59 L309.64,666.70 L310.18,664.51 L310.72,665.99 L311.26,667.09 L311.80,666.28 L312.34,670.92 L312.88,671.83 L313.42,668.84 L313.96,666.13 L314.50,668.76" stroke="#f4a9ab" stroke-width="1.3"/>
<path d="M179.50,669.36 L180.04,672.32 L180.58,660.85 L181.12,659.69 L181.66,660.28 L182.20,665.06 L182.74,664.04 L183.28,664.60 L183.82,660.02 L184.36,661.33 L184.90,663.52 L185.44,661.70 L185.98,659.88 L186.52,662.53 L187.06,666.49 L187.60,663.68 L188.14,664.61 L188.68,667.76 L189.22,668.96 L189.76,662.91 L190.30,666.14 L190.84,662.10 L191.38,665.39 L191.92,660.96 L192.46,660.69 L193.00,662.03 L193.54,666.32 L194.08,668.58 L194.62,657.09 L195.16,663.06 L195.70,657.26 L196.24,663.48 L196.78,666.02 L197.32,662.74 L197.86,666.09 L198.40,662.54 L198.94,658.12 L199.48,660.12 L200.02,654.05 L200.56,661.49 L201.10,661.51 L201.64,664.90 L202.18,664.93 L202.72,661.59 L203.26,664.73 L203.80,663.12 L204.34,663.05 L204.88,665.35 L205.42,655.73 L205.96,667.41 L206.50,661.63 L207.04,659.28 L207.58,658.86 L208.12,663.07 L208.66,664.72 L209.20,655.07 L209.74,655.73 L210.28,661.28 L210.82,661.59 L211.36,661.33 L211.90,664.70 L212.44,661.66 L212.98,658.45 L213.52,659.39 L214.06,664.05 L214.60,659.21 L215.14,663.66 L215.68,665.87 L216.22,660.25 L216.76,659.41 L217.30,657.06 L217.84,663.51 L218.38,658.14 L218.92,659.52 L219.46,660.30 L220.00,662.16 L220.54,661.61 L221.08,659.46 L221.62,659.87 L222.16,664.11 L222.70,662.35 L223.24,660.90 L223.78,657.85 L224.32,659.22 L224.86,660.57 L225.40,661.13 L225.94,655.91 L226.48,661.59 L227.02,662.42 L227.56,661.45 L228.10,659.12 L228.64,660.05 L229.18,661.54 L229.72,661.26 L230.26,658.38 L230.80,658.47 L231.34,658.85 L231.88,662.32 L232.42,659.60 L232.96,656.15 L233.50,661.54 L234.04,654.68 L234.58,658.72 L235.12,656.63 L235.66,662.08 L236.20,655.29 L236.74,658.89 L237.28,657.84 L237.82,656.94 L238.36,654.37 L238.90,659.21 L239.44,656.92 L239.98,658.03 L240.52,662.74 L241.06,661.69 L241.60,662.31 L242.14,658.71 L242.68,657.59 L243.22,656.77 L243.76,655.35 L244.30,657.31 L244.84,661.50 L245.38,653.04 L245.92,657.42 L246.46,659.52 L247.00,662.25 L247.54,656.09 L248.08,661.84 L248.62,654.18 L249.16,656.77 L249.70,662.28 L250.24,658.49 L250.78,652.07 L251.32,662.39 L251.86,658.50 L252.40,662.87 L252.94,656.53 L253.48,651.67 L254.02,656.84 L254.56,657.01 L255.10,657.45 L255.64,656.95 L256.18,656.79 L256.72,653.53 L257.26,652.09 L257.80,661.27 L258.34,661.69 L258.88,651.07 L259.42,650.69 L259.96,657.26 L260.50,653.64 L261.04,651.48 L261.58,650.07 L262.12,651.33 L262.66,650.46 L263.20,651.56 L263.74,648.38 L264.28,650.24 L264.82,650.50 L265.36,650.38 L265.90,651.00 L266.44,647.43 L266.98,648.79 L267.52,649.22 L268.06,651.10 L268.60,648.50 L269.14,650.06 L269.68,654.35 L270.22,658.42 L270.76,653.17 L271.30,652.36 L271.84,646.59 L272.38,648.77 L272.92,650.72 L273.46,646.50 L274.00,655.06 L274.54,653.39 L275.08,652.00 L275.62,654.70 L276.16,655.54 L276.70,654.24 L277.24,656.23 L277.78,652.93 L278.32,662.00 L278.86,655.64 L279.40,652.57 L279.94,659.36 L280.48,660.33 L281.02,657.54 L281.56,658.87 L282.10,657.84 L282.64,660.96 L283.18,659.23 L283.72,658.37 L284.26,667.09 L284.80,661.21 L285.34,659.79 L285.88,664.62 L286.42,664.94 L286.96,659.01 L287.50,663.45 L288.04,660.81 L288.58,659.49 L289.12,659.54 L289.66,666.25 L290.20,661.35 L290.74,663.84 L291.28,667.95 L291.82,661.32 L292.36,660.07 L292.90,663.50 L293.44,660.82 L293.98,661.60 L294.52,662.02 L295.06,667.79 L295.60,661.07 L296.14,666.64 L296.68,667.23 L297.22,665.00 L297.76,659.70 L298.30,661.52 L298.84,659.36 L299.38,664.20 L299.92,661.90 L300.46,664.65 L301.00,665.12 L301.54,662.29 L302.08,663.90 L302.62,668.93 L303.16,662.40 L303.70,665.58 L304.24,658.82 L304.78,664.14 L305.32,663.53 L305.86,668.46 L306.40,661.42 L306.94,662.70 L307.48,667.25 L308.02,665.68 L308.56,668.31 L309.10,659.55 L309.64,668.38 L310.18,661.92 L310.72,667.89 L311.26,658.48 L311.80,660.68 L312.34,662.70 L312.88,665.82 L313.42,666.96 L313.96,663.81 L314.50,664.68" stroke="#6c2c9c" stroke-width="1.3"/>
<path d="M179.50,624.58 L180.04,625.46 L180.58,626.75 L181.12,631.01 L181.66,625.43 L182.20,623.23 L182.74,622.96 L183.28,626.81 L183.82,620.09 L184.36,620.80 L184.90,626.10 L185.44,625.93 L185.98,623.22 L186.52,626.19 L187.06,625.03 L187.60,622.62 L188.14,622.70 L188.68,626.90 L189.22,626.73 L189.76,626.97 L190.30,625.68 L190.84,625.47 L191.38,626.61 L191.92,623.79 L192.46,625.56 L193.00,625.66 L193.54,630.50 L194.08,629.08 L194.62,627.41 L195.16,624.85 L195.70,627.85 L196.24,621.96 L196.78,625.40 L197.32,625.15 L197.86,625.49 L198.40,624.59 L198.94,623.55 L199.48,627.15 L200.02,622.00 L200.56,627.73 L201.10,624.58 L201.64,626.36 L202.18,626.27 L202.72,624.24 L203.26,625.39 L203.80,621.98 L204.34,627.14 L204.88,624.66 L205.42,624.50 L205.96,620.79 L206.50,622.03 L207.04,624.24 L207.58,621.89 L208.12,623.91 L208.66,627.89 L209.20,625.19 L209.74,623.02 L210.28,627.29 L210.82,622.31 L211.36,625.17 L211.90,627.58 L212.44,624.93 L212.98,629.89 L213.52,627.75 L214.06,628.63 L214.60,624.88 L215.14,628.60 L215.68,629.93 L216.22,625.39 L216.76,627.31 L217.30,627.91 L217.84,627.61 L218.38,623.62 L218.92,625.76 L219.46,628.02 L220.00,619.38 L220.54,625.02 L221.08,621.56 L221.62,623.67 L222.16,622.91 L222.70,628.38 L223.24,627.65 L223.78,624.70 L224.32,626.48 L224.86,626.10 L225.40,623.65 L225.94,631.92 L226.48,627.13 L227.02,622.59 L227.56,627.48 L228.10,626.25 L228.64,625.43 L229.18,625.59 L229.72,625.61 L230.26,628.66 L230.80,625.59 L231.34,627.88 L231.88,622.58 L232.42,627.96 L232.96,625.82 L233.50,626.94 L234.04,623.71 L234.58,626.18 L235.12,624.76 L235.66,627.87 L236.20,627.43 L236.74,628.82 L237.28,626.94 L237.82,627.22 L238.36,629.30 L238.90,629.61 L239.44,626.18 L239.98,626.99 L240.52,628.31 L241.06,628.84 L241.60,629.30 L242.14,626.38 L242.68,627.93 L243.22,628.19 L243.76,628.02 L244.30,627.81 L244.84,626.98 L245.38,625.60 L245.92,629.66 L246.46,625.59 L247.00,618.44 L247.54,632.13 L248.08,634.89 L248.62,647.45 L249.16,648.97 L249.70,650.14 L250.24,652.34 L250.78,638.80 L251.32,644.03 L251.86,636.42 L252.40,638.43 L252.94,633.31 L253.48,632.19 L254.02,632.89 L254.56,628.89 L255.10,629.69 L255.64,627.22 L256.18,620.40 L256.72,624.81 L257.26,624.32 L257.80,615.26 L258.34,621.82 L258.88,619.53 L259.42,616.48 L259.96,622.67 L260.50,623.87 L261.04,619.06 L261.58,624.58 L262.12,624.89 L262.66,627.36 L263.20,626.28 L263.74,632.80 L264.28,629.90 L264.82,629.24 L265.36,630.72 L265.90,635.66 L266.44,634.24 L266.98,631.95 L267.52,638.22 L268.06,638.25 L268.60,642.13 L269.14,646.49 L269.68,641.48 L270.22,646.63 L270.76,647.02 L271.30,646.19 L271.84,647.40 L272.38,648.67 L272.92,646.53 L273.46,649.64 L274.00,650.60 L274.54,654.06 L275.08,649.95 L275.62,656.00 L276.16,659.14 L276.70,656.33 L277.24,653.37 L277.78,654.96 L278.32,653.45 L278.86,656.29 L279.40,657.10 L279.94,657.44 L280.48,660.05 L281.02,659.85 L281.56,660.09 L282.10,658.77 L282.64,661.73 L283.18,660.73 L283.72,659.28 L284.26,660.38 L284.80,661.12 L285.34,661.18 L285.88,663.93 L286.42,664.48 L286.96,663.37 L287.50,659.35 L288.04,659.99 L288.58,661.48 L289.12,660.88 L289.66,660.71 L290.20,668.64 L290.74,664.46 L291.28,661.33 L291.82,659.32 L292.36,663.41 L292.90,659.89 L293.44,661.34 L293.98,663.90 L294.52,666.87 L295.06,666.85 L295.60,664.61 L296.14,664.08 L296.68,664.80 L297.22,663.21 L297.76,663.38 L298.30,664.74 L298.84,663.86 L299.38,664.28 L299.92,669.67 L300.46,668.27 L301.00,664.47 L301.54,663.45 L302.08,665.15 L302.62,666.18 L303.16,665.02 L303.70,664.50 L304.24,665.26 L304.78,670.59 L305.32,665.06 L305.86,664.12 L306.40,665.70 L306.94,660.70 L307.48,669.60 L308.02,670.62 L308.56,658.09 L309.10,668.81 L309.64,672.40 L310.18,667.90 L310.72,664.59 L311.26,668.42 L311.80,667.78 L312.34,665.01 L312.88,662.17 L313.42,665.12 L313.96,666.29 L314.50,668.21" stroke="#e8373b" stroke-width="1.3"/>
</g>
<path d="M179.5,601.7 L179.5,693.0 L314.5,693.0" fill="none" stroke="#231f20" stroke-width="1.35"/>
<line x1="179.50" y1="601.70" x2="314.50" y2="601.70" stroke="#231f20" stroke-width="1.35" />
<line x1="314.50" y1="601.70" x2="314.50" y2="693.00" stroke="#231f20" stroke-width="1.35" />
<line x1="193.00" y1="693.00" x2="193.00" y2="696.50" stroke="#231f20" stroke-width="1.35" />
<text x="193.00" y="707.80" font-size="11" text-anchor="middle" fill="#231f20" >-20</text>
<line x1="220.00" y1="693.00" x2="220.00" y2="696.50" stroke="#231f20" stroke-width="1.35" />
<text x="220.00" y="707.80" font-size="11" text-anchor="middle" fill="#231f20" >-10</text>
<line x1="247.00" y1="693.00" x2="247.00" y2="696.50" stroke="#231f20" stroke-width="1.35" />
<text x="247.00" y="707.80" font-size="11" text-anchor="middle" fill="#231f20" >TES</text>
<line x1="274.00" y1="693.00" x2="274.00" y2="696.50" stroke="#231f20" stroke-width="1.35" />
<text x="274.00" y="707.80" font-size="11" text-anchor="middle" fill="#231f20" >10</text>
<line x1="301.00" y1="693.00" x2="301.00" y2="696.50" stroke="#231f20" stroke-width="1.35" />
<text x="301.00" y="707.80" font-size="11" text-anchor="middle" fill="#231f20" >20</text>
<text x="166.30" y="724.90" font-size="10.7" text-anchor="middle" fill="#231f20" >Distance from TSS/TES (kb)</text>
<text x="9.40" y="647.35" font-size="10.8" text-anchor="middle" fill="#231f20" transform="rotate(-90 9.40 647.35)" >RPKM</text>
<text x="176" y="581.8" font-size="10.6" text-anchor="middle" font-weight="bold" fill="#000"><tspan font-style="italic">UVSSA</tspan>-KO</text>
<text x="175.40" y="595.00" font-size="10.7" text-anchor="middle" font-weight="bold" fill="#000" >+UVSSA-V411A +USP7i</text>
<g clip-path="url(#cp9)" fill="none" stroke-linejoin="round">
<path d="M36.00,847.92 L36.54,850.52 L37.08,842.36 L37.63,846.81 L38.17,846.47 L38.71,848.28 L39.25,847.72 L39.79,847.12 L40.34,847.42 L40.88,849.14 L41.42,846.53 L41.96,846.80 L42.50,848.09 L43.05,849.37 L43.59,849.71 L44.13,849.99 L44.67,847.25 L45.21,848.59 L45.76,845.99 L46.30,849.73 L46.84,846.30 L47.38,847.78 L47.92,849.05 L48.47,845.62 L49.01,847.52 L49.55,846.16 L50.09,845.52 L50.63,846.79 L51.18,848.88 L51.72,847.44 L52.26,845.70 L52.80,849.17 L53.34,846.68 L53.89,848.26 L54.43,848.87 L54.97,849.04 L55.51,850.14 L56.05,848.40 L56.60,847.03 L57.14,852.05 L57.68,848.69 L58.22,847.40 L58.76,848.69 L59.31,846.27 L59.85,849.57 L60.39,846.35 L60.93,841.50 L61.47,837.72 L62.02,835.45 L62.56,825.50 L63.10,825.10 L63.64,818.83 L64.18,817.31 L64.73,816.24 L65.27,817.58 L65.81,824.98 L66.35,824.76 L66.89,825.66 L67.44,835.99 L67.98,837.26 L68.52,838.51 L69.06,841.50 L69.60,839.48 L70.15,841.31 L70.69,845.68 L71.23,848.05 L71.77,843.59 L72.31,841.58 L72.86,845.76 L73.40,841.83 L73.94,848.26 L74.48,843.52 L75.02,845.30 L75.57,845.14 L76.11,845.65 L76.65,846.30 L77.19,845.09 L77.73,847.24 L78.28,842.95 L78.82,847.37 L79.36,843.63 L79.90,847.13 L80.44,847.69 L80.99,843.55 L81.53,844.12 L82.07,844.72 L82.61,841.10 L83.15,846.46 L83.70,842.86 L84.24,844.14 L84.78,841.19 L85.32,847.11 L85.86,845.60 L86.41,845.94 L86.95,846.70 L87.49,848.03 L88.03,845.34 L88.57,845.44 L89.12,846.79 L89.66,845.35 L90.20,848.49 L90.74,841.85 L91.28,843.78 L91.83,844.43 L92.37,843.34 L92.91,845.58 L93.45,846.24 L93.99,846.03 L94.54,846.45 L95.08,845.81 L95.62,842.61 L96.16,845.88 L96.70,841.91 L97.25,843.96 L97.79,840.82 L98.33,845.95 L98.87,846.36 L99.41,846.17 L99.96,849.44 L100.50,843.25 L101.04,843.87 L101.58,844.57 L102.12,844.62 L102.67,842.83 L103.21,846.72 L103.75,844.08 L104.29,844.05 L104.83,843.15 L105.38,841.69 L105.92,843.80 L106.46,846.44 L107.00,843.66 L107.54,845.34 L108.09,844.63 L108.63,846.95 L109.17,845.39 L109.71,844.90 L110.25,845.40 L110.80,843.72 L111.34,840.90 L111.88,844.85 L112.42,846.66 L112.96,845.39 L113.51,842.38 L114.05,844.59 L114.59,842.64 L115.13,844.34 L115.67,842.66 L116.22,845.63 L116.76,841.98 L117.30,844.25 L117.84,843.47 L118.38,841.77 L118.93,849.36 L119.47,841.78 L120.01,839.61 L120.55,845.18 L121.09,845.89 L121.64,845.13 L122.18,843.30 L122.72,844.98 L123.26,847.33 L123.80,846.92 L124.35,848.36 L124.89,846.33 L125.43,846.88 L125.97,848.39 L126.51,844.16 L127.06,845.14 L127.60,843.78 L128.14,849.41 L128.68,843.04 L129.22,841.71 L129.77,845.97 L130.31,848.03 L130.85,849.30 L131.39,843.04 L131.93,845.28 L132.48,844.21 L133.02,845.47 L133.56,848.65 L134.10,846.25 L134.64,845.27 L135.19,846.95 L135.73,844.53 L136.27,846.70 L136.81,843.17 L137.35,849.39 L137.90,844.21 L138.44,845.10 L138.98,843.17 L139.52,842.22 L140.06,843.78 L140.61,844.47 L141.15,846.30 L141.69,842.73 L142.23,844.82 L142.77,844.10 L143.32,845.13 L143.86,844.56 L144.40,846.32 L144.94,839.43 L145.48,844.46 L146.03,845.71 L146.57,845.77 L147.11,844.10 L147.65,845.79 L148.19,843.23 L148.74,844.72 L149.28,844.21 L149.82,842.44 L150.36,844.12 L150.90,843.93 L151.45,843.62 L151.99,841.85 L152.53,844.98 L153.07,842.19 L153.61,843.21 L154.16,843.74 L154.70,847.38 L155.24,844.40 L155.78,847.75 L156.32,846.07 L156.87,845.41 L157.41,845.87 L157.95,847.67 L158.49,842.88 L159.03,845.31 L159.58,842.00 L160.12,844.84 L160.66,848.70 L161.20,841.83 L161.74,842.81 L162.29,841.29 L162.83,845.55 L163.37,849.28 L163.91,844.59 L164.45,847.19 L165.00,846.79 L165.54,847.23 L166.08,847.49 L166.62,842.75 L167.16,847.30 L167.71,849.79 L168.25,841.17 L168.79,846.66 L169.33,847.43 L169.87,843.14 L170.42,844.44 L170.96,848.50 L171.50,842.91" stroke="#bb8bd2" stroke-width="1.3"/>
<path d="M36.00,847.11 L36.54,848.90 L37.08,846.83 L37.63,847.86 L38.17,850.84 L38.71,846.18 L39.25,848.22 L39.79,846.95 L40.34,844.76 L40.88,847.65 L41.42,850.14 L41.96,849.45 L42.50,846.39 L43.05,850.94 L43.59,847.83 L44.13,847.66 L44.67,850.48 L45.21,848.11 L45.76,847.43 L46.30,849.89 L46.84,849.39 L47.38,847.56 L47.92,850.95 L48.47,850.22 L49.01,846.91 L49.55,848.53 L50.09,851.30 L50.63,848.73 L51.18,845.24 L51.72,851.58 L52.26,847.37 L52.80,847.50 L53.34,849.24 L53.89,847.85 L54.43,850.22 L54.97,846.20 L55.51,845.92 L56.05,850.69 L56.60,849.51 L57.14,848.92 L57.68,850.33 L58.22,848.58 L58.76,851.15 L59.31,848.24 L59.85,849.87 L60.39,849.45 L60.93,843.64 L61.47,837.94 L62.02,836.56 L62.56,828.46 L63.10,823.44 L63.64,828.29 L64.18,828.32 L64.73,835.55 L65.27,838.19 L65.81,839.54 L66.35,842.29 L66.89,839.32 L67.44,842.31 L67.98,840.35 L68.52,846.22 L69.06,846.84 L69.60,843.48 L70.15,848.23 L70.69,844.36 L71.23,847.79 L71.77,845.84 L72.31,844.19 L72.86,846.43 L73.40,848.41 L73.94,847.21 L74.48,844.24 L75.02,845.97 L75.57,845.03 L76.11,846.16 L76.65,845.79 L77.19,846.66 L77.73,848.17 L78.28,845.32 L78.82,845.98 L79.36,849.93 L79.90,846.30 L80.44,844.54 L80.99,842.79 L81.53,848.79 L82.07,846.11 L82.61,845.30 L83.15,844.93 L83.70,847.59 L84.24,845.38 L84.78,847.07 L85.32,846.40 L85.86,847.29 L86.41,845.75 L86.95,847.02 L87.49,845.76 L88.03,846.47 L88.57,844.64 L89.12,843.24 L89.66,846.46 L90.20,847.65 L90.74,846.73 L91.28,847.29 L91.83,849.34 L92.37,846.27 L92.91,847.21 L93.45,844.67 L93.99,846.55 L94.54,844.62 L95.08,844.91 L95.62,847.22 L96.16,846.92 L96.70,847.27 L97.25,847.14 L97.79,844.82 L98.33,847.27 L98.87,847.09 L99.41,847.79 L99.96,843.77 L100.50,846.98 L101.04,846.61 L101.58,847.91 L102.12,845.91 L102.67,847.77 L103.21,847.56 L103.75,850.06 L104.29,849.34 L104.83,846.01 L105.38,844.97 L105.92,849.39 L106.46,846.06 L107.00,846.02 L107.54,840.81 L108.09,848.17 L108.63,847.58 L109.17,848.28 L109.71,844.86 L110.25,844.46 L110.80,846.86 L111.34,843.60 L111.88,842.53 L112.42,847.21 L112.96,845.35 L113.51,846.71 L114.05,847.51 L114.59,847.20 L115.13,846.78 L115.67,848.69 L116.22,846.50 L116.76,844.89 L117.30,848.06 L117.84,847.30 L118.38,848.00 L118.93,845.65 L119.47,846.53 L120.01,844.64 L120.55,846.91 L121.09,849.01 L121.64,845.31 L122.18,846.88 L122.72,844.25 L123.26,845.03 L123.80,851.13 L124.35,849.93 L124.89,846.28 L125.43,847.71 L125.97,850.43 L126.51,847.31 L127.06,843.99 L127.60,845.18 L128.14,847.95 L128.68,845.82 L129.22,844.49 L129.77,846.67 L130.31,843.10 L130.85,847.63 L131.39,842.50 L131.93,843.54 L132.48,845.39 L133.02,845.92 L133.56,846.27 L134.10,848.04 L134.64,844.54 L135.19,844.01 L135.73,844.90 L136.27,845.82 L136.81,846.14 L137.35,848.03 L137.90,847.53 L138.44,848.97 L138.98,845.45 L139.52,847.98 L140.06,844.80 L140.61,847.54 L141.15,843.74 L141.69,843.47 L142.23,843.53 L142.77,844.24 L143.32,846.88 L143.86,846.90 L144.40,847.67 L144.94,845.73 L145.48,843.27 L146.03,848.32 L146.57,841.91 L147.11,847.37 L147.65,848.46 L148.19,845.71 L148.74,844.37 L149.28,846.98 L149.82,848.19 L150.36,843.13 L150.90,848.34 L151.45,844.52 L151.99,846.05 L152.53,847.01 L153.07,846.24 L153.61,848.31 L154.16,848.36 L154.70,845.77 L155.24,848.22 L155.78,847.73 L156.32,843.69 L156.87,843.05 L157.41,844.31 L157.95,844.70 L158.49,846.79 L159.03,846.16 L159.58,847.68 L160.12,851.45 L160.66,845.97 L161.20,845.92 L161.74,844.53 L162.29,848.52 L162.83,844.24 L163.37,847.32 L163.91,848.59 L164.45,846.81 L165.00,844.64 L165.54,846.36 L166.08,845.54 L166.62,847.95 L167.16,845.47 L167.71,844.55 L168.25,847.96 L168.79,845.58 L169.33,848.80 L169.87,845.93 L170.42,849.07 L170.96,845.61 L171.50,846.36" stroke="#f4a9ab" stroke-width="1.3"/>
<path d="M36.00,844.11 L36.54,844.49 L37.08,846.38 L37.63,844.73 L38.17,847.90 L38.71,850.77 L39.25,842.24 L39.79,845.16 L40.34,851.35 L40.88,848.90 L41.42,847.83 L41.96,845.49 L42.50,843.09 L43.05,845.57 L43.59,847.37 L44.13,845.18 L44.67,846.86 L45.21,845.88 L45.76,847.94 L46.30,849.25 L46.84,843.20 L47.38,847.10 L47.92,846.03 L48.47,847.78 L49.01,847.65 L49.55,847.18 L50.09,844.72 L50.63,843.36 L51.18,845.00 L51.72,847.67 L52.26,839.52 L52.80,844.28 L53.34,844.03 L53.89,847.65 L54.43,846.91 L54.97,844.84 L55.51,850.55 L56.05,848.20 L56.60,845.35 L57.14,840.43 L57.68,845.29 L58.22,848.84 L58.76,849.28 L59.31,843.94 L59.85,848.28 L60.39,847.06 L60.93,834.21 L61.47,830.33 L62.02,819.20 L62.56,800.43 L63.10,764.32 L63.64,724.29 L64.18,691.48 L64.73,673.69 L65.27,676.52 L65.81,696.91 L66.35,725.57 L66.89,747.01 L67.44,755.46 L67.98,765.01 L68.52,773.92 L69.06,779.14 L69.60,784.89 L70.15,791.41 L70.69,797.06 L71.23,804.05 L71.77,805.46 L72.31,808.59 L72.86,805.13 L73.40,806.85 L73.94,809.72 L74.48,810.63 L75.02,813.38 L75.57,816.90 L76.11,815.81 L76.65,818.29 L77.19,819.22 L77.73,825.02 L78.28,822.47 L78.82,821.37 L79.36,824.47 L79.90,825.84 L80.44,827.89 L80.99,825.72 L81.53,820.79 L82.07,825.90 L82.61,821.98 L83.15,825.85 L83.70,822.27 L84.24,826.29 L84.78,824.20 L85.32,823.70 L85.86,823.93 L86.41,827.86 L86.95,826.54 L87.49,827.97 L88.03,826.32 L88.57,826.94 L89.12,826.91 L89.66,824.96 L90.20,829.13 L90.74,828.56 L91.28,828.07 L91.83,827.27 L92.37,828.66 L92.91,825.49 L93.45,829.40 L93.99,822.49 L94.54,826.69 L95.08,823.97 L95.62,829.49 L96.16,827.65 L96.70,826.59 L97.25,822.62 L97.79,826.68 L98.33,823.34 L98.87,828.70 L99.41,823.34 L99.96,828.68 L100.50,831.39 L101.04,831.89 L101.58,826.63 L102.12,827.69 L102.67,826.59 L103.21,827.40 L103.75,826.07 L104.29,823.32 L104.83,827.81 L105.38,826.66 L105.92,828.31 L106.46,831.60 L107.00,828.10 L107.54,823.79 L108.09,829.45 L108.63,821.89 L109.17,826.14 L109.71,826.41 L110.25,825.26 L110.80,827.53 L111.34,827.49 L111.88,824.37 L112.42,829.40 L112.96,828.02 L113.51,830.58 L114.05,827.46 L114.59,820.33 L115.13,824.89 L115.67,830.09 L116.22,832.14 L116.76,826.51 L117.30,826.19 L117.84,829.35 L118.38,824.58 L118.93,826.77 L119.47,826.01 L120.01,825.86 L120.55,825.00 L121.09,828.72 L121.64,829.31 L122.18,824.26 L122.72,827.90 L123.26,830.48 L123.80,826.59 L124.35,828.58 L124.89,826.63 L125.43,819.67 L125.97,822.99 L126.51,828.39 L127.06,830.26 L127.60,827.26 L128.14,829.53 L128.68,826.60 L129.22,826.43 L129.77,825.51 L130.31,827.08 L130.85,830.41 L131.39,827.36 L131.93,826.82 L132.48,826.40 L133.02,824.00 L133.56,829.42 L134.10,827.25 L134.64,828.30 L135.19,828.87 L135.73,825.27 L136.27,828.30 L136.81,822.06 L137.35,832.83 L137.90,823.08 L138.44,827.28 L138.98,829.67 L139.52,826.23 L140.06,826.33 L140.61,824.23 L141.15,823.53 L141.69,828.41 L142.23,826.51 L142.77,825.66 L143.32,825.99 L143.86,827.26 L144.40,823.11 L144.94,825.65 L145.48,829.57 L146.03,825.64 L146.57,826.90 L147.11,826.96 L147.65,824.19 L148.19,824.62 L148.74,825.47 L149.28,825.11 L149.82,823.98 L150.36,827.57 L150.90,825.81 L151.45,822.95 L151.99,827.45 L152.53,827.11 L153.07,827.46 L153.61,823.38 L154.16,827.07 L154.70,823.27 L155.24,826.87 L155.78,825.35 L156.32,825.05 L156.87,827.07 L157.41,828.19 L157.95,823.39 L158.49,826.67 L159.03,824.43 L159.58,824.05 L160.12,829.14 L160.66,822.60 L161.20,825.25 L161.74,826.28 L162.29,826.42 L162.83,826.65 L163.37,824.84 L163.91,820.34 L164.45,825.63 L165.00,828.05 L165.54,825.93 L166.08,820.19 L166.62,825.04 L167.16,820.46 L167.71,827.02 L168.25,827.02 L168.79,827.90 L169.33,827.39 L169.87,825.23 L170.42,824.76 L170.96,829.31 L171.50,827.54" stroke="#6c2c9c" stroke-width="1.3"/>
<path d="M36.00,848.80 L36.54,847.24 L37.08,846.44 L37.63,850.32 L38.17,846.13 L38.71,847.41 L39.25,846.16 L39.79,847.44 L40.34,845.32 L40.88,850.46 L41.42,843.90 L41.96,845.33 L42.50,849.76 L43.05,846.73 L43.59,847.29 L44.13,852.66 L44.67,847.00 L45.21,849.91 L45.76,849.13 L46.30,850.03 L46.84,849.64 L47.38,848.46 L47.92,848.44 L48.47,852.51 L49.01,849.41 L49.55,852.06 L50.09,851.92 L50.63,849.71 L51.18,846.82 L51.72,847.41 L52.26,850.45 L52.80,850.75 L53.34,851.07 L53.89,848.75 L54.43,846.85 L54.97,849.13 L55.51,847.52 L56.05,848.48 L56.60,845.63 L57.14,854.20 L57.68,854.54 L58.22,849.34 L58.76,846.80 L59.31,848.82 L59.85,846.12 L60.39,848.48 L60.93,843.43 L61.47,823.61 L62.02,782.28 L62.56,729.46 L63.10,689.85 L63.64,684.64 L64.18,723.61 L64.73,769.07 L65.27,803.30 L65.81,818.19 L66.35,826.64 L66.89,828.01 L67.44,831.67 L67.98,834.13 L68.52,833.88 L69.06,835.39 L69.60,834.92 L70.15,836.40 L70.69,834.29 L71.23,838.17 L71.77,834.72 L72.31,833.76 L72.86,837.45 L73.40,831.74 L73.94,830.24 L74.48,833.29 L75.02,836.85 L75.57,836.67 L76.11,832.36 L76.65,826.80 L77.19,827.59 L77.73,825.02 L78.28,825.35 L78.82,824.42 L79.36,819.58 L79.90,821.05 L80.44,816.70 L80.99,812.85 L81.53,811.88 L82.07,808.56 L82.61,809.71 L83.15,805.95 L83.70,805.21 L84.24,808.99 L84.78,806.29 L85.32,804.30 L85.86,799.73 L86.41,799.38 L86.95,798.21 L87.49,797.26 L88.03,795.90 L88.57,794.92 L89.12,798.35 L89.66,800.64 L90.20,794.92 L90.74,796.82 L91.28,795.97 L91.83,796.28 L92.37,798.33 L92.91,799.07 L93.45,792.83 L93.99,792.29 L94.54,792.45 L95.08,793.98 L95.62,793.61 L96.16,795.05 L96.70,793.64 L97.25,794.56 L97.79,794.67 L98.33,792.62 L98.87,789.19 L99.41,798.11 L99.96,792.27 L100.50,792.29 L101.04,797.09 L101.58,793.57 L102.12,794.29 L102.67,795.87 L103.21,796.15 L103.75,798.57 L104.29,791.20 L104.83,789.84 L105.38,791.90 L105.92,796.66 L106.46,795.47 L107.00,795.62 L107.54,798.90 L108.09,797.93 L108.63,796.38 L109.17,799.09 L109.71,802.72 L110.25,801.90 L110.80,798.58 L111.34,800.40 L111.88,800.69 L112.42,797.04 L112.96,800.51 L113.51,802.84 L114.05,801.64 L114.59,796.61 L115.13,804.98 L115.67,798.27 L116.22,799.49 L116.76,803.77 L117.30,804.58 L117.84,800.28 L118.38,803.11 L118.93,804.96 L119.47,799.21 L120.01,803.18 L120.55,802.77 L121.09,803.45 L121.64,804.25 L122.18,803.18 L122.72,804.36 L123.26,802.19 L123.80,800.83 L124.35,800.73 L124.89,800.44 L125.43,799.67 L125.97,801.42 L126.51,804.71 L127.06,800.87 L127.60,807.19 L128.14,804.89 L128.68,802.42 L129.22,807.18 L129.77,799.48 L130.31,805.50 L130.85,806.64 L131.39,804.82 L131.93,804.80 L132.48,802.97 L133.02,803.26 L133.56,800.34 L134.10,803.22 L134.64,802.36 L135.19,805.16 L135.73,801.52 L136.27,804.58 L136.81,807.40 L137.35,799.46 L137.90,805.17 L138.44,805.22 L138.98,804.68 L139.52,800.93 L140.06,806.19 L140.61,803.42 L141.15,801.02 L141.69,797.78 L142.23,803.07 L142.77,802.20 L143.32,804.41 L143.86,797.45 L144.40,802.58 L144.94,802.33 L145.48,801.76 L146.03,804.29 L146.57,802.02 L147.11,805.00 L147.65,798.25 L148.19,802.18 L148.74,802.15 L149.28,798.85 L149.82,804.59 L150.36,798.16 L150.90,797.81 L151.45,803.32 L151.99,799.71 L152.53,801.57 L153.07,799.12 L153.61,801.10 L154.16,803.33 L154.70,799.56 L155.24,801.56 L155.78,800.53 L156.32,798.53 L156.87,797.89 L157.41,799.25 L157.95,804.18 L158.49,798.97 L159.03,801.33 L159.58,797.93 L160.12,800.95 L160.66,796.95 L161.20,799.10 L161.74,800.29 L162.29,799.52 L162.83,804.46 L163.37,798.72 L163.91,799.77 L164.45,802.66 L165.00,798.94 L165.54,799.09 L166.08,798.94 L166.62,800.03 L167.16,797.77 L167.71,797.68 L168.25,799.34 L168.79,799.65 L169.33,800.55 L169.87,800.83 L170.42,797.83 L170.96,800.59 L171.50,802.63" stroke="#e8373b" stroke-width="1.3"/>
</g>
<path d="M36.0,776.4 L36.0,867.6 L171.5,867.6" fill="none" stroke="#231f20" stroke-width="1.35"/>
<line x1="36.00" y1="776.40" x2="171.50" y2="776.40" stroke="#231f20" stroke-width="1.35" />
<line x1="171.50" y1="776.40" x2="171.50" y2="867.60" stroke="#231f20" stroke-width="1.35" />
<line x1="32.50" y1="867.60" x2="36.00" y2="867.60" stroke="#231f20" stroke-width="1.35" />
<text x="29.50" y="871.56" font-size="11" text-anchor="end" fill="#231f20" >0.1</text>
<line x1="32.50" y1="837.20" x2="36.00" y2="837.20" stroke="#231f20" stroke-width="1.35" />
<text x="29.50" y="841.16" font-size="11" text-anchor="end" fill="#231f20" >0.2</text>
<line x1="32.50" y1="806.80" x2="36.00" y2="806.80" stroke="#231f20" stroke-width="1.35" />
<text x="29.50" y="810.76" font-size="11" text-anchor="end" fill="#231f20" >0.3</text>
<line x1="32.50" y1="776.40" x2="36.00" y2="776.40" stroke="#231f20" stroke-width="1.35" />
<text x="29.50" y="780.36" font-size="11" text-anchor="end" fill="#231f20" >0.4</text>
<line x1="36.00" y1="867.60" x2="36.00" y2="871.10" stroke="#231f20" stroke-width="1.35" />
<text x="36.00" y="882.40" font-size="11" text-anchor="middle" fill="#231f20" >-10</text>
<line x1="63.10" y1="867.60" x2="63.10" y2="871.10" stroke="#231f20" stroke-width="1.35" />
<text x="63.10" y="882.40" font-size="11" text-anchor="middle" fill="#231f20" >TSS</text>
<line x1="90.20" y1="867.60" x2="90.20" y2="871.10" stroke="#231f20" stroke-width="1.35" />
<text x="90.20" y="882.40" font-size="11" text-anchor="middle" fill="#231f20" >10</text>
<line x1="117.30" y1="867.60" x2="117.30" y2="871.10" stroke="#231f20" stroke-width="1.35" />
<text x="117.30" y="882.40" font-size="11" text-anchor="middle" fill="#231f20" >20</text>
<line x1="144.40" y1="867.60" x2="144.40" y2="871.10" stroke="#231f20" stroke-width="1.35" />
<text x="144.40" y="882.40" font-size="11" text-anchor="middle" fill="#231f20" >30</text>
<line x1="171.50" y1="867.60" x2="171.50" y2="871.10" stroke="#231f20" stroke-width="1.35" />
<text x="171.50" y="882.40" font-size="11" text-anchor="middle" fill="#231f20" >40</text>
<g clip-path="url(#cp10)" fill="none" stroke-linejoin="round">
<path d="M179.50,844.76 L180.04,847.53 L180.58,847.24 L181.12,845.95 L181.66,846.83 L182.20,844.53 L182.74,850.24 L183.28,845.84 L183.82,847.55 L184.36,844.96 L184.90,845.02 L185.44,845.79 L185.98,848.83 L186.52,848.77 L187.06,847.30 L187.60,848.67 L188.14,851.65 L188.68,850.67 L189.22,846.89 L189.76,849.85 L190.30,848.28 L190.84,847.65 L191.38,850.59 L191.92,848.50 L192.46,844.80 L193.00,844.69 L193.54,846.55 L194.08,846.50 L194.62,848.07 L195.16,847.46 L195.70,845.84 L196.24,850.76 L196.78,848.42 L197.32,848.22 L197.86,845.77 L198.40,849.68 L198.94,843.43 L199.48,848.96 L200.02,843.11 L200.56,847.47 L201.10,847.13 L201.64,843.87 L202.18,851.06 L202.72,845.86 L203.26,843.69 L203.80,849.25 L204.34,845.67 L204.88,848.50 L205.42,845.40 L205.96,847.94 L206.50,844.89 L207.04,848.15 L207.58,848.27 L208.12,847.81 L208.66,849.23 L209.20,844.13 L209.74,845.74 L210.28,844.45 L210.82,844.80 L211.36,844.18 L211.90,849.41 L212.44,846.34 L212.98,847.38 L213.52,847.01 L214.06,847.01 L214.60,850.32 L215.14,850.09 L215.68,851.74 L216.22,844.69 L216.76,847.15 L217.30,848.82 L217.84,846.83 L218.38,848.79 L218.92,849.04 L219.46,847.88 L220.00,847.65 L220.54,848.99 L221.08,849.57 L221.62,846.94 L222.16,841.50 L222.70,847.44 L223.24,844.22 L223.78,844.50 L224.32,847.73 L224.86,850.84 L225.40,848.39 L225.94,846.55 L226.48,844.70 L227.02,846.79 L227.56,848.14 L228.10,842.98 L228.64,846.52 L229.18,846.96 L229.72,845.78 L230.26,850.81 L230.80,844.80 L231.34,851.03 L231.88,848.06 L232.42,851.02 L232.96,848.93 L233.50,844.95 L234.04,843.29 L234.58,844.77 L235.12,845.41 L235.66,850.65 L236.20,841.77 L236.74,846.79 L237.28,844.68 L237.82,844.67 L238.36,844.74 L238.90,849.09 L239.44,846.49 L239.98,844.90 L240.52,848.46 L241.06,845.95 L241.60,847.18 L242.14,850.44 L242.68,846.21 L243.22,846.72 L243.76,843.04 L244.30,846.57 L244.84,843.86 L245.38,845.56 L245.92,843.70 L246.46,850.39 L247.00,845.75 L247.54,847.65 L248.08,844.62 L248.62,846.56 L249.16,845.76 L249.70,845.64 L250.24,844.23 L250.78,846.45 L251.32,844.06 L251.86,844.60 L252.40,844.83 L252.94,846.07 L253.48,842.16 L254.02,843.40 L254.56,843.49 L255.10,841.35 L255.64,844.73 L256.18,842.99 L256.72,844.46 L257.26,841.67 L257.80,842.52 L258.34,844.32 L258.88,843.26 L259.42,842.71 L259.96,844.97 L260.50,841.13 L261.04,842.26 L261.58,842.93 L262.12,839.72 L262.66,845.57 L263.20,841.61 L263.74,842.68 L264.28,842.85 L264.82,842.50 L265.36,844.11 L265.90,840.12 L266.44,845.12 L266.98,844.46 L267.52,843.19 L268.06,838.57 L268.60,840.50 L269.14,840.18 L269.68,843.92 L270.22,841.67 L270.76,840.64 L271.30,843.34 L271.84,844.15 L272.38,838.94 L272.92,844.13 L273.46,843.64 L274.00,844.21 L274.54,842.29 L275.08,842.98 L275.62,839.85 L276.16,847.14 L276.70,844.92 L277.24,843.98 L277.78,843.97 L278.32,843.29 L278.86,842.05 L279.40,842.63 L279.94,842.67 L280.48,847.00 L281.02,844.38 L281.56,843.16 L282.10,846.31 L282.64,842.62 L283.18,845.01 L283.72,843.06 L284.26,841.87 L284.80,843.18 L285.34,845.12 L285.88,843.79 L286.42,843.56 L286.96,842.83 L287.50,843.80 L288.04,840.09 L288.58,843.33 L289.12,845.40 L289.66,846.10 L290.20,839.11 L290.74,841.53 L291.28,844.77 L291.82,845.71 L292.36,840.94 L292.90,842.26 L293.44,843.35 L293.98,846.60 L294.52,841.65 L295.06,844.54 L295.60,849.93 L296.14,843.61 L296.68,843.45 L297.22,842.96 L297.76,845.07 L298.30,846.47 L298.84,844.31 L299.38,845.23 L299.92,844.25 L300.46,840.48 L301.00,844.38 L301.54,846.28 L302.08,847.53 L302.62,841.76 L303.16,844.11 L303.70,842.06 L304.24,843.96 L304.78,846.77 L305.32,846.60 L305.86,845.31 L306.40,842.75 L306.94,845.81 L307.48,844.67 L308.02,843.66 L308.56,844.82 L309.10,843.20 L309.64,843.15 L310.18,843.97 L310.72,846.68 L311.26,842.81 L311.80,844.88 L312.34,844.88 L312.88,843.03 L313.42,844.37 L313.96,842.32 L314.50,848.14" stroke="#bb8bd2" stroke-width="1.3"/>
<path d="M179.50,844.41 L180.04,847.27 L180.58,849.07 L181.12,844.85 L181.66,844.19 L182.20,845.08 L182.74,851.62 L183.28,849.42 L183.82,844.82 L184.36,842.92 L184.90,849.26 L185.44,843.99 L185.98,843.65 L186.52,845.97 L187.06,848.83 L187.60,847.32 L188.14,846.70 L188.68,844.44 L189.22,843.97 L189.76,847.96 L190.30,846.05 L190.84,845.88 L191.38,846.16 L191.92,843.75 L192.46,846.31 L193.00,845.86 L193.54,848.85 L194.08,845.35 L194.62,847.64 L195.16,841.60 L195.70,845.27 L196.24,845.17 L196.78,845.33 L197.32,848.01 L197.86,846.42 L198.40,845.23 L198.94,843.50 L199.48,844.95 L200.02,848.21 L200.56,845.83 L201.10,845.64 L201.64,848.91 L202.18,844.15 L202.72,843.65 L203.26,847.19 L203.80,840.58 L204.34,844.51 L204.88,846.43 L205.42,841.01 L205.96,846.38 L206.50,844.79 L207.04,848.94 L207.58,847.39 L208.12,841.31 L208.66,847.14 L209.20,846.77 L209.74,845.51 L210.28,846.69 L210.82,847.57 L211.36,847.06 L211.90,845.22 L212.44,841.62 L212.98,843.17 L213.52,839.97 L214.06,846.61 L214.60,844.37 L215.14,844.17 L215.68,843.61 L216.22,843.13 L216.76,848.32 L217.30,841.48 L217.84,844.62 L218.38,845.63 L218.92,844.01 L219.46,845.77 L220.00,847.18 L220.54,845.27 L221.08,848.58 L221.62,846.82 L222.16,842.86 L222.70,843.36 L223.24,846.80 L223.78,849.10 L224.32,843.93 L224.86,843.49 L225.40,844.38 L225.94,846.36 L226.48,844.08 L227.02,844.96 L227.56,843.77 L228.10,842.93 L228.64,844.21 L229.18,844.53 L229.72,842.93 L230.26,843.48 L230.80,845.88 L231.34,844.20 L231.88,842.55 L232.42,842.73 L232.96,844.60 L233.50,844.24 L234.04,846.11 L234.58,843.37 L235.12,841.54 L235.66,842.92 L236.20,844.76 L236.74,842.41 L237.28,843.73 L237.82,842.35 L238.36,846.32 L238.90,844.53 L239.44,841.99 L239.98,841.24 L240.52,845.23 L241.06,844.62 L241.60,839.59 L242.14,842.72 L242.68,843.80 L243.22,842.41 L243.76,844.60 L244.30,846.94 L244.84,843.32 L245.38,844.10 L245.92,844.63 L246.46,843.29 L247.00,845.15 L247.54,843.72 L248.08,846.03 L248.62,838.92 L249.16,837.82 L249.70,842.67 L250.24,843.03 L250.78,838.20 L251.32,836.74 L251.86,838.79 L252.40,839.57 L252.94,832.69 L253.48,837.44 L254.02,834.59 L254.56,834.15 L255.10,833.50 L255.64,831.71 L256.18,831.71 L256.72,838.03 L257.26,835.40 L257.80,833.05 L258.34,835.25 L258.88,837.25 L259.42,834.46 L259.96,837.46 L260.50,836.99 L261.04,835.08 L261.58,835.88 L262.12,833.32 L262.66,836.10 L263.20,837.80 L263.74,835.85 L264.28,838.39 L264.82,838.39 L265.36,838.48 L265.90,839.90 L266.44,838.70 L266.98,839.16 L267.52,839.39 L268.06,842.03 L268.60,839.02 L269.14,840.06 L269.68,840.64 L270.22,840.66 L270.76,841.81 L271.30,841.91 L271.84,836.49 L272.38,840.11 L272.92,838.96 L273.46,839.11 L274.00,842.20 L274.54,840.95 L275.08,841.82 L275.62,839.60 L276.16,839.99 L276.70,842.83 L277.24,838.83 L277.78,838.93 L278.32,843.84 L278.86,840.15 L279.40,840.40 L279.94,844.69 L280.48,843.50 L281.02,839.93 L281.56,843.68 L282.10,845.29 L282.64,841.09 L283.18,845.39 L283.72,841.68 L284.26,841.08 L284.80,841.54 L285.34,840.14 L285.88,841.56 L286.42,842.02 L286.96,843.89 L287.50,839.07 L288.04,844.02 L288.58,840.83 L289.12,841.80 L289.66,842.54 L290.20,844.47 L290.74,845.32 L291.28,841.94 L291.82,840.36 L292.36,841.70 L292.90,844.33 L293.44,839.86 L293.98,847.46 L294.52,842.23 L295.06,840.04 L295.60,839.83 L296.14,842.38 L296.68,839.53 L297.22,838.46 L297.76,842.75 L298.30,839.86 L298.84,842.11 L299.38,839.97 L299.92,844.83 L300.46,840.76 L301.00,839.71 L301.54,840.00 L302.08,842.25 L302.62,846.71 L303.16,841.92 L303.70,847.50 L304.24,842.30 L304.78,842.21 L305.32,841.29 L305.86,843.97 L306.40,841.28 L306.94,843.49 L307.48,845.25 L308.02,842.48 L308.56,838.07 L309.10,842.17 L309.64,841.95 L310.18,839.50 L310.72,840.68 L311.26,840.72 L311.80,846.17 L312.34,844.82 L312.88,838.41 L313.42,842.74 L313.96,845.01 L314.50,840.60" stroke="#f4a9ab" stroke-width="1.3"/>
<path d="M179.50,824.70 L180.04,822.68 L180.58,822.59 L181.12,822.51 L181.66,819.19 L182.20,821.56 L182.74,820.99 L183.28,821.82 L183.82,824.00 L184.36,821.37 L184.90,820.00 L185.44,821.46 L185.98,823.05 L186.52,824.67 L187.06,817.72 L187.60,823.56 L188.14,823.56 L188.68,824.79 L189.22,820.82 L189.76,821.29 L190.30,823.37 L190.84,821.94 L191.38,821.01 L191.92,822.44 L192.46,823.93 L193.00,822.12 L193.54,820.87 L194.08,823.75 L194.62,822.77 L195.16,819.89 L195.70,818.74 L196.24,819.40 L196.78,820.59 L197.32,818.44 L197.86,822.25 L198.40,821.43 L198.94,821.69 L199.48,819.05 L200.02,822.96 L200.56,822.22 L201.10,817.22 L201.64,822.20 L202.18,825.43 L202.72,819.22 L203.26,818.65 L203.80,823.14 L204.34,823.12 L204.88,822.39 L205.42,820.70 L205.96,817.98 L206.50,818.49 L207.04,824.04 L207.58,817.26 L208.12,822.61 L208.66,820.09 L209.20,820.87 L209.74,821.58 L210.28,823.41 L210.82,815.54 L211.36,820.66 L211.90,817.26 L212.44,822.20 L212.98,819.09 L213.52,821.67 L214.06,819.46 L214.60,818.06 L215.14,822.30 L215.68,820.49 L216.22,819.16 L216.76,817.46 L217.30,817.55 L217.84,821.11 L218.38,822.19 L218.92,820.18 L219.46,817.60 L220.00,817.04 L220.54,822.55 L221.08,823.90 L221.62,820.63 L222.16,818.46 L222.70,816.23 L223.24,820.91 L223.78,819.42 L224.32,816.36 L224.86,820.50 L225.40,816.58 L225.94,814.74 L226.48,815.82 L227.02,814.02 L227.56,818.86 L228.10,821.50 L228.64,814.11 L229.18,815.96 L229.72,814.43 L230.26,817.15 L230.80,820.21 L231.34,818.50 L231.88,818.11 L232.42,818.85 L232.96,816.73 L233.50,816.25 L234.04,818.28 L234.58,821.06 L235.12,822.40 L235.66,816.92 L236.20,816.92 L236.74,818.41 L237.28,812.70 L237.82,818.01 L238.36,814.86 L238.90,814.91 L239.44,817.72 L239.98,812.93 L240.52,814.95 L241.06,815.10 L241.60,818.88 L242.14,817.65 L242.68,818.61 L243.22,816.65 L243.76,816.34 L244.30,814.71 L244.84,820.51 L245.38,816.35 L245.92,816.59 L246.46,815.23 L247.00,823.20 L247.54,817.56 L248.08,823.68 L248.62,822.46 L249.16,825.22 L249.70,827.57 L250.24,824.67 L250.78,826.86 L251.32,826.37 L251.86,827.91 L252.40,831.13 L252.94,825.43 L253.48,825.65 L254.02,822.43 L254.56,824.84 L255.10,826.34 L255.64,823.23 L256.18,825.90 L256.72,823.58 L257.26,822.56 L257.80,820.68 L258.34,821.75 L258.88,822.93 L259.42,820.12 L259.96,818.78 L260.50,819.18 L261.04,819.09 L261.58,820.74 L262.12,818.46 L262.66,821.88 L263.20,824.61 L263.74,821.37 L264.28,817.68 L264.82,824.39 L265.36,826.08 L265.90,816.69 L266.44,823.97 L266.98,819.52 L267.52,823.08 L268.06,819.46 L268.60,824.76 L269.14,824.57 L269.68,821.91 L270.22,823.27 L270.76,821.57 L271.30,819.49 L271.84,824.68 L272.38,824.17 L272.92,824.78 L273.46,825.81 L274.00,823.01 L274.54,826.01 L275.08,824.41 L275.62,822.25 L276.16,828.94 L276.70,826.95 L277.24,826.75 L277.78,827.43 L278.32,824.25 L278.86,825.81 L279.40,826.87 L279.94,828.81 L280.48,823.14 L281.02,834.69 L281.56,832.79 L282.10,829.24 L282.64,826.04 L283.18,830.43 L283.72,828.83 L284.26,832.82 L284.80,829.95 L285.34,831.41 L285.88,829.58 L286.42,831.94 L286.96,832.96 L287.50,832.38 L288.04,836.17 L288.58,832.04 L289.12,830.61 L289.66,834.06 L290.20,829.87 L290.74,831.78 L291.28,835.64 L291.82,831.45 L292.36,835.33 L292.90,831.25 L293.44,837.28 L293.98,835.67 L294.52,839.90 L295.06,835.75 L295.60,837.33 L296.14,837.39 L296.68,832.82 L297.22,833.10 L297.76,832.50 L298.30,836.28 L298.84,833.96 L299.38,840.64 L299.92,839.27 L300.46,836.60 L301.00,837.24 L301.54,837.99 L302.08,833.76 L302.62,832.42 L303.16,837.36 L303.70,833.73 L304.24,837.61 L304.78,838.56 L305.32,835.08 L305.86,836.86 L306.40,841.30 L306.94,837.67 L307.48,835.81 L308.02,842.16 L308.56,840.27 L309.10,838.19 L309.64,841.64 L310.18,841.25 L310.72,836.54 L311.26,835.40 L311.80,840.42 L312.34,841.10 L312.88,840.87 L313.42,844.47 L313.96,840.14 L314.50,839.25" stroke="#6c2c9c" stroke-width="1.3"/>
<path d="M179.50,799.88 L180.04,794.68 L180.58,793.66 L181.12,794.82 L181.66,792.89 L182.20,796.86 L182.74,800.78 L183.28,797.07 L183.82,795.61 L184.36,795.81 L184.90,798.61 L185.44,802.63 L185.98,791.28 L186.52,797.04 L187.06,795.78 L187.60,798.82 L188.14,799.35 L188.68,795.35 L189.22,794.53 L189.76,799.73 L190.30,798.71 L190.84,799.12 L191.38,800.20 L191.92,799.51 L192.46,797.58 L193.00,802.05 L193.54,791.43 L194.08,801.24 L194.62,798.41 L195.16,792.48 L195.70,798.53 L196.24,797.28 L196.78,795.71 L197.32,792.79 L197.86,799.92 L198.40,793.32 L198.94,800.54 L199.48,792.33 L200.02,794.41 L200.56,796.04 L201.10,798.42 L201.64,793.24 L202.18,795.07 L202.72,794.13 L203.26,801.20 L203.80,797.61 L204.34,796.76 L204.88,796.04 L205.42,802.21 L205.96,802.16 L206.50,796.32 L207.04,798.85 L207.58,797.15 L208.12,800.87 L208.66,797.51 L209.20,800.31 L209.74,801.14 L210.28,801.12 L210.82,797.00 L211.36,802.51 L211.90,802.93 L212.44,800.44 L212.98,797.26 L213.52,796.32 L214.06,796.26 L214.60,795.53 L215.14,799.64 L215.68,799.43 L216.22,793.89 L216.76,798.59 L217.30,797.38 L217.84,800.82 L218.38,797.00 L218.92,801.73 L219.46,799.62 L220.00,799.08 L220.54,799.01 L221.08,796.80 L221.62,796.34 L222.16,796.01 L222.70,798.41 L223.24,800.27 L223.78,798.85 L224.32,799.86 L224.86,800.99 L225.40,794.15 L225.94,802.01 L226.48,796.77 L227.02,800.09 L227.56,803.70 L228.10,793.22 L228.64,799.97 L229.18,801.96 L229.72,792.54 L230.26,799.77 L230.80,798.63 L231.34,794.62 L231.88,801.74 L232.42,801.71 L232.96,797.05 L233.50,797.84 L234.04,801.39 L234.58,803.21 L235.12,802.92 L235.66,797.63 L236.20,795.49 L236.74,795.66 L237.28,797.81 L237.82,797.91 L238.36,805.21 L238.90,799.14 L239.44,800.52 L239.98,795.28 L240.52,799.69 L241.06,798.76 L241.60,798.64 L242.14,797.93 L242.68,797.61 L243.22,793.16 L243.76,795.03 L244.30,797.99 L244.84,801.23 L245.38,794.30 L245.92,796.70 L246.46,798.86 L247.00,800.63 L247.54,812.04 L248.08,816.49 L248.62,826.53 L249.16,826.34 L249.70,823.44 L250.24,815.35 L250.78,815.87 L251.32,815.24 L251.86,814.71 L252.40,808.09 L252.94,806.41 L253.48,809.69 L254.02,810.86 L254.56,800.81 L255.10,798.78 L255.64,798.25 L256.18,799.87 L256.72,807.37 L257.26,799.96 L257.80,804.74 L258.34,800.11 L258.88,803.99 L259.42,806.45 L259.96,809.25 L260.50,808.15 L261.04,806.44 L261.58,808.68 L262.12,805.55 L262.66,809.85 L263.20,809.58 L263.74,813.20 L264.28,813.97 L264.82,814.44 L265.36,816.27 L265.90,811.44 L266.44,810.90 L266.98,817.52 L267.52,817.65 L268.06,813.84 L268.60,816.47 L269.14,816.71 L269.68,822.60 L270.22,815.02 L270.76,820.02 L271.30,820.89 L271.84,823.12 L272.38,823.15 L272.92,823.53 L273.46,824.53 L274.00,823.47 L274.54,822.41 L275.08,826.84 L275.62,826.19 L276.16,824.02 L276.70,825.26 L277.24,818.39 L277.78,830.25 L278.32,826.22 L278.86,829.42 L279.40,829.48 L279.94,829.86 L280.48,830.40 L281.02,828.49 L281.56,830.22 L282.10,828.84 L282.64,824.03 L283.18,829.78 L283.72,833.23 L284.26,829.87 L284.80,841.82 L285.34,830.35 L285.88,829.22 L286.42,834.34 L286.96,833.66 L287.50,835.42 L288.04,837.91 L288.58,833.51 L289.12,834.26 L289.66,836.98 L290.20,832.47 L290.74,838.96 L291.28,833.57 L291.82,834.45 L292.36,835.21 L292.90,835.61 L293.44,836.12 L293.98,840.90 L294.52,843.70 L295.06,837.80 L295.60,833.76 L296.14,837.61 L296.68,837.15 L297.22,837.43 L297.76,837.67 L298.30,838.01 L298.84,837.41 L299.38,844.90 L299.92,839.28 L300.46,843.87 L301.00,837.15 L301.54,844.40 L302.08,842.28 L302.62,838.48 L303.16,841.26 L303.70,839.10 L304.24,843.37 L304.78,833.49 L305.32,840.91 L305.86,844.06 L306.40,838.16 L306.94,842.52 L307.48,840.61 L308.02,841.16 L308.56,840.14 L309.10,841.02 L309.64,836.54 L310.18,838.20 L310.72,843.44 L311.26,839.10 L311.80,842.02 L312.34,841.88 L312.88,842.70 L313.42,844.92 L313.96,839.92 L314.50,843.67" stroke="#e8373b" stroke-width="1.3"/>
</g>
<path d="M179.5,776.4 L179.5,867.6 L314.5,867.6" fill="none" stroke="#231f20" stroke-width="1.35"/>
<line x1="179.50" y1="776.40" x2="314.50" y2="776.40" stroke="#231f20" stroke-width="1.35" />
<line x1="314.50" y1="776.40" x2="314.50" y2="867.60" stroke="#231f20" stroke-width="1.35" />
<line x1="193.00" y1="867.60" x2="193.00" y2="871.10" stroke="#231f20" stroke-width="1.35" />
<text x="193.00" y="882.40" font-size="11" text-anchor="middle" fill="#231f20" >-20</text>
<line x1="220.00" y1="867.60" x2="220.00" y2="871.10" stroke="#231f20" stroke-width="1.35" />
<text x="220.00" y="882.40" font-size="11" text-anchor="middle" fill="#231f20" >-10</text>
<line x1="247.00" y1="867.60" x2="247.00" y2="871.10" stroke="#231f20" stroke-width="1.35" />
<text x="247.00" y="882.40" font-size="11" text-anchor="middle" fill="#231f20" >TES</text>
<line x1="274.00" y1="867.60" x2="274.00" y2="871.10" stroke="#231f20" stroke-width="1.35" />
<text x="274.00" y="882.40" font-size="11" text-anchor="middle" fill="#231f20" >10</text>
<line x1="301.00" y1="867.60" x2="301.00" y2="871.10" stroke="#231f20" stroke-width="1.35" />
<text x="301.00" y="882.40" font-size="11" text-anchor="middle" fill="#231f20" >20</text>
<text x="166.30" y="899.50" font-size="10.7" text-anchor="middle" fill="#231f20" >Distance from TSS/TES (kb)</text>
<text x="9.40" y="822.00" font-size="10.8" text-anchor="middle" fill="#231f20" transform="rotate(-90 9.40 822.00)" >RPKM</text>
<text x="176" y="755.3" font-size="10.6" text-anchor="middle" font-weight="bold" fill="#000"><tspan font-style="italic">UVSSA</tspan>-KO</text>
<text x="175.40" y="768.00" font-size="10.7" text-anchor="middle" font-weight="bold" fill="#000" >+UVSSA-V411A +p97i</text>
<line x1="25.60" y1="919.80" x2="39.00" y2="919.80" stroke="#e8373b" stroke-width="2.8" />
<text x="43.40" y="923.80" font-size="10.6" text-anchor="start" fill="#231f20" >0.5 h TS</text>
<line x1="96.80" y1="919.80" x2="110.00" y2="919.80" stroke="#f4a9ab" stroke-width="2.8" />
<text x="114.00" y="923.80" font-size="10.6" text-anchor="start" fill="#231f20" >0.5 h NTS</text>
<line x1="181.20" y1="919.80" x2="194.80" y2="919.80" stroke="#6c2c9c" stroke-width="2.8" />
<text x="198.50" y="923.80" font-size="10.6" text-anchor="start" fill="#231f20" >2.0 h TS</text>
<line x1="252.60" y1="919.80" x2="265.50" y2="919.80" stroke="#bb8bd2" stroke-width="2.8" />
<text x="270.50" y="923.80" font-size="10.6" text-anchor="start" fill="#231f20" >2.0 h NTS</text>
<text transform="translate(379 411.5) scale(0.95 1)" font-size="22.6" font-weight="bold" fill="#000">d</text>
<path d="M450.70,584.50 L450.75,583.53 L450.80,582.57 L450.86,581.60 L450.91,580.63 L450.97,579.67 L451.03,578.70 L451.09,577.74 L451.15,576.77 L451.21,575.80 L451.28,574.84 L451.34,573.87 L451.41,572.90 L451.47,571.94 L451.54,570.97 L451.60,570.00 L451.67,569.04 L451.74,568.07 L451.81,567.11 L451.88,566.14 L451.96,565.17 L452.04,564.21 L452.13,563.24 L452.22,562.27 L452.32,561.31 L452.43,560.34 L452.56,559.37 L452.69,558.41 L452.84,557.44 L452.99,556.47 L453.15,555.51 L453.32,554.54 L453.50,553.58 L453.68,552.61 L453.87,551.64 L454.06,550.68 L454.26,549.71 L454.47,548.74 L454.69,547.78 L454.93,546.81 L455.18,545.84 L455.43,544.88 L455.70,543.91 L455.97,542.95 L456.24,541.98 L456.51,541.01 L456.78,540.05 L457.04,539.08 L457.30,538.11 L457.57,537.15 L457.84,536.18 L458.12,535.21 L458.39,534.25 L458.66,533.28 L458.92,532.32 L459.16,531.35 L459.44,530.38 L459.74,529.42 L460.03,528.45 L460.30,527.48 L460.51,526.52 L460.66,525.55 L460.70,524.58 L460.68,523.62 L460.63,522.65 L460.55,521.68 L460.46,520.72 L460.36,519.75 L460.18,518.79 L459.93,517.82 L459.62,516.85 L459.26,515.89 L458.87,514.92 L458.47,513.95 L458.06,512.99 L457.68,512.02 L457.29,511.05 L456.86,510.09 L456.41,509.12 L455.94,508.16 L455.48,507.19 L455.04,506.22 L454.64,505.26 L454.29,504.29 L454.00,503.32 L453.72,502.36 L453.45,501.39 L453.19,500.42 L452.95,499.46 L452.73,498.49 L452.53,497.53 L452.36,496.56 L452.20,495.59 L452.08,494.63 L451.97,493.66 L451.87,492.69 L451.78,491.73 L451.69,490.76 L451.61,489.79 L451.53,488.83 L451.47,487.86 L451.40,486.89 L451.34,485.93 L451.29,484.96 L451.24,484.00 L451.19,483.03 L451.14,482.06 L451.09,481.10 L451.05,480.13 L451.00,479.16 L450.96,478.20 L450.92,477.23 L450.88,476.26 L450.85,475.30 L450.81,474.33 L450.78,473.37 L450.76,472.40 L450.73,471.43 L450.71,470.47 L450.70,469.50 L450.50,469.50 L450.49,470.47 L450.47,471.43 L450.44,472.40 L450.42,473.37 L450.39,474.33 L450.35,475.30 L450.32,476.26 L450.28,477.23 L450.24,478.20 L450.20,479.16 L450.15,480.13 L450.11,481.10 L450.06,482.06 L450.01,483.03 L449.96,484.00 L449.91,484.96 L449.86,485.93 L449.80,486.89 L449.73,487.86 L449.67,488.83 L449.59,489.79 L449.51,490.76 L449.42,491.73 L449.33,492.69 L449.23,493.66 L449.12,494.63 L449.00,495.59 L448.84,496.56 L448.67,497.53 L448.47,498.49 L448.25,499.46 L448.01,500.42 L447.75,501.39 L447.48,502.36 L447.20,503.32 L446.91,504.29 L446.56,505.26 L446.16,506.22 L445.72,507.19 L445.26,508.16 L444.79,509.12 L444.34,510.09 L443.91,511.05 L443.52,512.02 L443.14,512.99 L442.73,513.95 L442.33,514.92 L441.94,515.89 L441.58,516.85 L441.27,517.82 L441.02,518.79 L440.84,519.75 L440.74,520.72 L440.65,521.68 L440.57,522.65 L440.52,523.62 L440.50,524.58 L440.54,525.55 L440.69,526.52 L440.90,527.48 L441.17,528.45 L441.46,529.42 L441.76,530.38 L442.04,531.35 L442.28,532.32 L442.54,533.28 L442.81,534.25 L443.08,535.21 L443.36,536.18 L443.63,537.15 L443.90,538.11 L444.16,539.08 L444.42,540.05 L444.69,541.01 L444.96,541.98 L445.23,542.95 L445.50,543.91 L445.77,544.88 L446.02,545.84 L446.27,546.81 L446.51,547.78 L446.73,548.74 L446.94,549.71 L447.14,550.68 L447.33,551.64 L447.52,552.61 L447.70,553.58 L447.88,554.54 L448.05,555.51 L448.21,556.47 L448.36,557.44 L448.51,558.41 L448.64,559.37 L448.77,560.34 L448.88,561.31 L448.98,562.27 L449.07,563.24 L449.16,564.21 L449.24,565.17 L449.32,566.14 L449.39,567.11 L449.46,568.07 L449.53,569.04 L449.60,570.00 L449.66,570.97 L449.73,571.94 L449.79,572.90 L449.86,573.87 L449.92,574.84 L449.99,575.80 L450.05,576.77 L450.11,577.74 L450.17,578.70 L450.23,579.67 L450.29,580.63 L450.34,581.60 L450.40,582.57 L450.45,583.53 L450.50,584.50 Z" fill="#a6c8de" stroke="#8fb3cc" stroke-width="0.4"/>
<line x1="450.60" y1="469.50" x2="450.60" y2="584.50" stroke="#b9d4e6" stroke-width="0.6" />
<path d="M508.60,584.50 L508.64,583.53 L508.68,582.57 L508.72,581.60 L508.76,580.63 L508.80,579.67 L508.84,578.70 L508.88,577.74 L508.93,576.77 L508.97,575.80 L509.01,574.84 L509.06,573.87 L509.10,572.90 L509.15,571.94 L509.20,570.97 L509.24,570.00 L509.29,569.04 L509.33,568.07 L509.38,567.11 L509.43,566.14 L509.48,565.17 L509.54,564.21 L509.59,563.24 L509.65,562.27 L509.71,561.31 L509.78,560.34 L509.84,559.37 L509.92,558.41 L509.99,557.44 L510.07,556.47 L510.15,555.51 L510.23,554.54 L510.32,553.58 L510.42,552.61 L510.52,551.64 L510.62,550.68 L510.73,549.71 L510.85,548.74 L510.98,547.78 L511.12,546.81 L511.27,545.84 L511.43,544.88 L511.60,543.91 L511.78,542.95 L511.96,541.98 L512.16,541.01 L512.36,540.05 L512.57,539.08 L512.79,538.11 L513.03,537.15 L513.29,536.18 L513.57,535.21 L513.87,534.25 L514.18,533.28 L514.51,532.32 L514.85,531.35 L515.20,530.38 L515.56,529.42 L515.93,528.45 L516.31,527.48 L516.71,526.52 L517.20,525.55 L517.76,524.58 L518.33,523.62 L518.87,522.65 L519.34,521.68 L519.67,520.72 L519.85,519.75 L519.97,518.79 L520.08,517.82 L520.16,516.85 L520.20,515.89 L520.17,514.92 L519.99,513.95 L519.69,512.99 L519.33,512.02 L518.93,511.05 L518.54,510.09 L518.16,509.12 L517.73,508.16 L517.25,507.19 L516.76,506.22 L516.25,505.26 L515.74,504.29 L515.25,503.32 L514.79,502.36 L514.37,501.39 L513.95,500.42 L513.53,499.46 L513.11,498.49 L512.71,497.53 L512.32,496.56 L511.95,495.59 L511.61,494.63 L511.31,493.66 L511.05,492.69 L510.82,491.73 L510.60,490.76 L510.39,489.79 L510.20,488.83 L510.02,487.86 L509.86,486.89 L509.71,485.93 L509.58,484.96 L509.47,484.00 L509.38,483.03 L509.29,482.06 L509.21,481.10 L509.12,480.13 L509.05,479.16 L508.97,478.20 L508.90,477.23 L508.84,476.26 L508.78,475.30 L508.73,474.33 L508.68,473.37 L508.65,472.40 L508.62,471.43 L508.61,470.47 L508.60,469.50 L508.40,469.50 L508.39,470.47 L508.38,471.43 L508.35,472.40 L508.32,473.37 L508.27,474.33 L508.22,475.30 L508.16,476.26 L508.10,477.23 L508.03,478.20 L507.95,479.16 L507.88,480.13 L507.79,481.10 L507.71,482.06 L507.62,483.03 L507.53,484.00 L507.42,484.96 L507.29,485.93 L507.14,486.89 L506.98,487.86 L506.80,488.83 L506.61,489.79 L506.40,490.76 L506.18,491.73 L505.95,492.69 L505.69,493.66 L505.39,494.63 L505.05,495.59 L504.68,496.56 L504.29,497.53 L503.89,498.49 L503.47,499.46 L503.05,500.42 L502.63,501.39 L502.21,502.36 L501.75,503.32 L501.26,504.29 L500.75,505.26 L500.24,506.22 L499.75,507.19 L499.27,508.16 L498.84,509.12 L498.46,510.09 L498.07,511.05 L497.67,512.02 L497.31,512.99 L497.01,513.95 L496.83,514.92 L496.80,515.89 L496.84,516.85 L496.92,517.82 L497.03,518.79 L497.15,519.75 L497.33,520.72 L497.66,521.68 L498.13,522.65 L498.67,523.62 L499.24,524.58 L499.80,525.55 L500.29,526.52 L500.69,527.48 L501.07,528.45 L501.44,529.42 L501.80,530.38 L502.15,531.35 L502.49,532.32 L502.82,533.28 L503.13,534.25 L503.43,535.21 L503.71,536.18 L503.97,537.15 L504.21,538.11 L504.43,539.08 L504.64,540.05 L504.84,541.01 L505.04,541.98 L505.22,542.95 L505.40,543.91 L505.57,544.88 L505.73,545.84 L505.88,546.81 L506.02,547.78 L506.15,548.74 L506.27,549.71 L506.38,550.68 L506.48,551.64 L506.58,552.61 L506.68,553.58 L506.77,554.54 L506.85,555.51 L506.93,556.47 L507.01,557.44 L507.08,558.41 L507.16,559.37 L507.22,560.34 L507.29,561.31 L507.35,562.27 L507.41,563.24 L507.46,564.21 L507.52,565.17 L507.57,566.14 L507.62,567.11 L507.67,568.07 L507.71,569.04 L507.76,570.00 L507.80,570.97 L507.85,571.94 L507.90,572.90 L507.94,573.87 L507.99,574.84 L508.03,575.80 L508.07,576.77 L508.12,577.74 L508.16,578.70 L508.20,579.67 L508.24,580.63 L508.28,581.60 L508.32,582.57 L508.36,583.53 L508.40,584.50 Z" fill="#a6c8de" stroke="#8fb3cc" stroke-width="0.4"/>
<line x1="508.50" y1="469.50" x2="508.50" y2="584.50" stroke="#b9d4e6" stroke-width="0.6" />
<path d="M566.30,584.50 L566.35,583.53 L566.40,582.57 L566.46,581.60 L566.51,580.63 L566.57,579.67 L566.63,578.70 L566.69,577.74 L566.75,576.77 L566.81,575.80 L566.88,574.84 L566.94,573.87 L567.01,572.90 L567.07,571.94 L567.14,570.97 L567.21,570.00 L567.28,569.04 L567.35,568.07 L567.43,567.11 L567.50,566.14 L567.58,565.17 L567.66,564.21 L567.74,563.24 L567.83,562.27 L567.92,561.31 L568.01,560.34 L568.10,559.37 L568.20,558.41 L568.30,557.44 L568.40,556.47 L568.51,555.51 L568.62,554.54 L568.73,553.58 L568.85,552.61 L568.98,551.64 L569.11,550.68 L569.24,549.71 L569.39,548.74 L569.54,547.78 L569.71,546.81 L569.89,545.84 L570.07,544.88 L570.26,543.91 L570.45,542.95 L570.65,541.98 L570.86,541.01 L571.06,540.05 L571.27,539.08 L571.49,538.11 L571.71,537.15 L571.95,536.18 L572.21,535.21 L572.46,534.25 L572.72,533.28 L572.97,532.32 L573.22,531.35 L573.46,530.38 L573.68,529.42 L573.89,528.45 L574.12,527.48 L574.35,526.52 L574.57,525.55 L574.75,524.58 L574.90,523.62 L574.99,522.65 L575.03,521.68 L575.06,520.72 L575.08,519.75 L575.09,518.79 L575.10,517.82 L575.02,516.85 L574.79,515.89 L574.47,514.92 L574.08,513.95 L573.67,512.99 L573.28,512.02 L572.90,511.05 L572.46,510.09 L571.99,509.12 L571.50,508.16 L571.02,507.19 L570.56,506.22 L570.14,505.26 L569.79,504.29 L569.50,503.32 L569.23,502.36 L568.98,501.39 L568.73,500.42 L568.51,499.46 L568.30,498.49 L568.11,497.53 L567.95,496.56 L567.80,495.59 L567.68,494.63 L567.57,493.66 L567.47,492.69 L567.38,491.73 L567.29,490.76 L567.21,489.79 L567.14,488.83 L567.07,487.86 L567.00,486.89 L566.94,485.93 L566.89,484.96 L566.84,484.00 L566.79,483.03 L566.74,482.06 L566.69,481.10 L566.65,480.13 L566.60,479.16 L566.56,478.20 L566.52,477.23 L566.48,476.26 L566.45,475.30 L566.41,474.33 L566.38,473.37 L566.36,472.40 L566.33,471.43 L566.31,470.47 L566.30,469.50 L566.10,469.50 L566.09,470.47 L566.07,471.43 L566.04,472.40 L566.02,473.37 L565.99,474.33 L565.95,475.30 L565.92,476.26 L565.88,477.23 L565.84,478.20 L565.80,479.16 L565.75,480.13 L565.71,481.10 L565.66,482.06 L565.61,483.03 L565.56,484.00 L565.51,484.96 L565.46,485.93 L565.40,486.89 L565.33,487.86 L565.26,488.83 L565.19,489.79 L565.11,490.76 L565.02,491.73 L564.93,492.69 L564.83,493.66 L564.72,494.63 L564.60,495.59 L564.45,496.56 L564.29,497.53 L564.10,498.49 L563.89,499.46 L563.67,500.42 L563.42,501.39 L563.17,502.36 L562.90,503.32 L562.61,504.29 L562.26,505.26 L561.84,506.22 L561.38,507.19 L560.90,508.16 L560.41,509.12 L559.94,510.09 L559.50,511.05 L559.12,512.02 L558.73,512.99 L558.32,513.95 L557.93,514.92 L557.61,515.89 L557.38,516.85 L557.30,517.82 L557.31,518.79 L557.32,519.75 L557.34,520.72 L557.37,521.68 L557.41,522.65 L557.50,523.62 L557.65,524.58 L557.83,525.55 L558.05,526.52 L558.28,527.48 L558.51,528.45 L558.72,529.42 L558.94,530.38 L559.18,531.35 L559.43,532.32 L559.68,533.28 L559.94,534.25 L560.19,535.21 L560.45,536.18 L560.69,537.15 L560.91,538.11 L561.13,539.08 L561.34,540.05 L561.54,541.01 L561.75,541.98 L561.95,542.95 L562.14,543.91 L562.33,544.88 L562.51,545.84 L562.69,546.81 L562.86,547.78 L563.01,548.74 L563.16,549.71 L563.29,550.68 L563.42,551.64 L563.55,552.61 L563.67,553.58 L563.78,554.54 L563.89,555.51 L564.00,556.47 L564.10,557.44 L564.20,558.41 L564.30,559.37 L564.39,560.34 L564.48,561.31 L564.57,562.27 L564.66,563.24 L564.74,564.21 L564.82,565.17 L564.90,566.14 L564.97,567.11 L565.05,568.07 L565.12,569.04 L565.19,570.00 L565.26,570.97 L565.33,571.94 L565.39,572.90 L565.46,573.87 L565.52,574.84 L565.59,575.80 L565.65,576.77 L565.71,577.74 L565.77,578.70 L565.83,579.67 L565.89,580.63 L565.94,581.60 L566.00,582.57 L566.05,583.53 L566.10,584.50 Z" fill="#a6c8de" stroke="#8fb3cc" stroke-width="0.4"/>
<line x1="566.20" y1="469.50" x2="566.20" y2="584.50" stroke="#b9d4e6" stroke-width="0.6" />
<path d="M624.20,584.50 L624.24,583.53 L624.28,582.57 L624.32,581.60 L624.36,580.63 L624.40,579.67 L624.44,578.70 L624.48,577.74 L624.53,576.77 L624.57,575.80 L624.61,574.84 L624.66,573.87 L624.70,572.90 L624.75,571.94 L624.80,570.97 L624.84,570.00 L624.89,569.04 L624.94,568.07 L624.99,567.11 L625.04,566.14 L625.09,565.17 L625.14,564.21 L625.20,563.24 L625.25,562.27 L625.31,561.31 L625.37,560.34 L625.43,559.37 L625.49,558.41 L625.55,557.44 L625.61,556.47 L625.67,555.51 L625.74,554.54 L625.81,553.58 L625.88,552.61 L625.96,551.64 L626.04,550.68 L626.13,549.71 L626.21,548.74 L626.31,547.78 L626.40,546.81 L626.51,545.84 L626.61,544.88 L626.73,543.91 L626.85,542.95 L626.97,541.98 L627.11,541.01 L627.25,540.05 L627.40,539.08 L627.57,538.11 L627.74,537.15 L627.93,536.18 L628.13,535.21 L628.35,534.25 L628.59,533.28 L628.84,532.32 L629.11,531.35 L629.41,530.38 L629.72,529.42 L630.05,528.45 L630.41,527.48 L630.82,526.52 L631.42,525.55 L632.16,524.58 L632.96,523.62 L633.73,522.65 L634.41,521.68 L634.91,520.72 L635.17,519.75 L635.36,518.79 L635.52,517.82 L635.63,516.85 L635.69,515.89 L635.67,514.92 L635.50,513.95 L635.23,512.99 L634.88,512.02 L634.51,511.05 L634.14,510.09 L633.77,509.12 L633.35,508.16 L632.88,507.19 L632.39,506.22 L631.88,505.26 L631.37,504.29 L630.87,503.32 L630.40,502.36 L629.96,501.39 L629.52,500.42 L629.08,499.46 L628.63,498.49 L628.19,497.53 L627.76,496.56 L627.37,495.59 L627.01,494.63 L626.70,493.66 L626.44,492.69 L626.23,491.73 L626.04,490.76 L625.86,489.79 L625.69,488.83 L625.54,487.86 L625.40,486.89 L625.28,485.93 L625.16,484.96 L625.06,484.00 L624.98,483.03 L624.89,482.06 L624.81,481.10 L624.73,480.13 L624.65,479.16 L624.58,478.20 L624.51,477.23 L624.44,476.26 L624.39,475.30 L624.33,474.33 L624.29,473.37 L624.25,472.40 L624.22,471.43 L624.21,470.47 L624.20,469.50 L624.00,469.50 L623.99,470.47 L623.98,471.43 L623.95,472.40 L623.91,473.37 L623.87,474.33 L623.81,475.30 L623.76,476.26 L623.69,477.23 L623.62,478.20 L623.55,479.16 L623.47,480.13 L623.39,481.10 L623.31,482.06 L623.22,483.03 L623.14,484.00 L623.04,484.96 L622.92,485.93 L622.80,486.89 L622.66,487.86 L622.51,488.83 L622.34,489.79 L622.16,490.76 L621.97,491.73 L621.76,492.69 L621.50,493.66 L621.19,494.63 L620.83,495.59 L620.44,496.56 L620.01,497.53 L619.57,498.49 L619.12,499.46 L618.68,500.42 L618.24,501.39 L617.80,502.36 L617.33,503.32 L616.83,504.29 L616.32,505.26 L615.81,506.22 L615.32,507.19 L614.85,508.16 L614.43,509.12 L614.06,510.09 L613.69,511.05 L613.32,512.02 L612.97,512.99 L612.70,513.95 L612.53,514.92 L612.51,515.89 L612.57,516.85 L612.68,517.82 L612.84,518.79 L613.03,519.75 L613.29,520.72 L613.79,521.68 L614.47,522.65 L615.24,523.62 L616.04,524.58 L616.78,525.55 L617.38,526.52 L617.79,527.48 L618.15,528.45 L618.48,529.42 L618.79,530.38 L619.09,531.35 L619.36,532.32 L619.61,533.28 L619.85,534.25 L620.07,535.21 L620.27,536.18 L620.46,537.15 L620.63,538.11 L620.80,539.08 L620.95,540.05 L621.09,541.01 L621.23,541.98 L621.35,542.95 L621.47,543.91 L621.59,544.88 L621.69,545.84 L621.80,546.81 L621.89,547.78 L621.99,548.74 L622.07,549.71 L622.16,550.68 L622.24,551.64 L622.32,552.61 L622.39,553.58 L622.46,554.54 L622.53,555.51 L622.59,556.47 L622.65,557.44 L622.71,558.41 L622.77,559.37 L622.83,560.34 L622.89,561.31 L622.95,562.27 L623.00,563.24 L623.06,564.21 L623.11,565.17 L623.16,566.14 L623.21,567.11 L623.26,568.07 L623.31,569.04 L623.36,570.00 L623.40,570.97 L623.45,571.94 L623.50,572.90 L623.54,573.87 L623.59,574.84 L623.63,575.80 L623.67,576.77 L623.72,577.74 L623.76,578.70 L623.80,579.67 L623.84,580.63 L623.88,581.60 L623.92,582.57 L623.96,583.53 L624.00,584.50 Z" fill="#a6c8de" stroke="#8fb3cc" stroke-width="0.4"/>
<line x1="624.10" y1="469.50" x2="624.10" y2="584.50" stroke="#b9d4e6" stroke-width="0.6" />
<line x1="421.60" y1="515.50" x2="653.30" y2="515.50" stroke="#000" stroke-width="1.1" stroke-dasharray="3.2,4.3"/>
<rect x="449.1" y="517.80" width="3.0" height="23.46" fill="#000"/>
<circle cx="450.6" cy="526.63" r="1.5" fill="#fff"/>
<text transform="translate(454.90 530.60) scale(1 1.09)" font-size="10.9" text-anchor="start" fill="#231f20" >-0.242</text>
<rect x="507.0" y="507.22" width="3.0" height="16.79" fill="#000"/>
<circle cx="508.5" cy="515.22" r="1.5" fill="#fff"/>
<text transform="translate(512.00 513.00) scale(1 1.09)" font-size="10.9" text-anchor="start" fill="#231f20" >0.006</text>
<rect x="564.7" y="515.50" width="3.0" height="25.76" fill="#000"/>
<circle cx="566.2" cy="525.25" r="1.5" fill="#fff"/>
<text transform="translate(570.50 529.00) scale(1 1.09)" font-size="10.9" text-anchor="start" fill="#231f20" >-0.212</text>
<rect x="622.6" y="509.06" width="3.0" height="17.48" fill="#000"/>
<circle cx="624.1" cy="516.60" r="1.5" fill="#fff"/>
<text transform="translate(627.80 525.60) scale(1 1.09)" font-size="10.9" text-anchor="start" fill="#231f20" >-0.024</text>
<line x1="421.60" y1="469.00" x2="421.60" y2="584.50" stroke="#505050" stroke-width="1.2" />
<line x1="421.60" y1="584.50" x2="653.30" y2="584.50" stroke="#505050" stroke-width="1.2" />
<line x1="418.10" y1="469.50" x2="421.60" y2="469.50" stroke="#505050" stroke-width="1" />
<text transform="translate(417.40 473.40) scale(1 1.06)" font-size="10.8" text-anchor="end" fill="#231f20" >1.0</text>
<line x1="418.10" y1="492.50" x2="421.60" y2="492.50" stroke="#505050" stroke-width="1" />
<text transform="translate(417.40 496.40) scale(1 1.06)" font-size="10.8" text-anchor="end" fill="#231f20" >0.5</text>
<line x1="418.10" y1="515.50" x2="421.60" y2="515.50" stroke="#505050" stroke-width="1" />
<text transform="translate(417.40 519.40) scale(1 1.06)" font-size="10.8" text-anchor="end" fill="#231f20" >0.0</text>
<line x1="418.10" y1="538.50" x2="421.60" y2="538.50" stroke="#505050" stroke-width="1" />
<text transform="translate(417.40 542.40) scale(1 1.06)" font-size="10.8" text-anchor="end" fill="#231f20" >−0.5</text>
<line x1="418.10" y1="561.50" x2="421.60" y2="561.50" stroke="#505050" stroke-width="1" />
<text transform="translate(417.40 565.40) scale(1 1.06)" font-size="10.8" text-anchor="end" fill="#231f20" >−1.0</text>
<line x1="418.10" y1="584.50" x2="421.60" y2="584.50" stroke="#505050" stroke-width="1" />
<text transform="translate(417.40 588.40) scale(1 1.06)" font-size="10.8" text-anchor="end" fill="#231f20" >−1.5</text>
<line x1="419.60" y1="481.00" x2="421.60" y2="481.00" stroke="#505050" stroke-width="1" />
<line x1="419.60" y1="504.00" x2="421.60" y2="504.00" stroke="#505050" stroke-width="1" />
<line x1="419.60" y1="527.00" x2="421.60" y2="527.00" stroke="#505050" stroke-width="1" />
<line x1="419.60" y1="550.00" x2="421.60" y2="550.00" stroke="#505050" stroke-width="1" />
<line x1="419.60" y1="573.00" x2="421.60" y2="573.00" stroke="#505050" stroke-width="1" />
<line x1="450.60" y1="581.50" x2="450.60" y2="584.50" stroke="#8fb3cc" stroke-width="1" />
<line x1="508.50" y1="581.50" x2="508.50" y2="584.50" stroke="#8fb3cc" stroke-width="1" />
<line x1="566.20" y1="581.50" x2="566.20" y2="584.50" stroke="#8fb3cc" stroke-width="1" />
<line x1="624.10" y1="581.50" x2="624.10" y2="584.50" stroke="#8fb3cc" stroke-width="1" />
<text x="388" y="522" font-size="10.8" text-anchor="middle" fill="#231f20" transform="rotate(-90 388 522)">Log<tspan font-size="7.5" dy="2.5">2</tspan><tspan dy="-2.5">(TS/NTS)</tspan></text>
<path d="M450.6,415.7 L450.6,413.5 L624.0,413.5 L624.0,415.7" fill="none" stroke="#4d4d4d" stroke-width="0.9"/>
<text transform="translate(537.30 410.30) scale(1 1.1)" font-size="11" text-anchor="middle" fill="#231f20" >1.1E-77</text>
<path d="M450.6,431.7 L450.6,429.5 L564.6,429.5 L564.6,431.7" fill="none" stroke="#4d4d4d" stroke-width="0.9"/>
<text transform="translate(507.60 426.20) scale(1 1.1)" font-size="11" text-anchor="middle" fill="#231f20" >7.4E-14</text>
<path d="M510.2,449.2 L510.2,447.0 L624.0,447.0 L624.0,449.2" fill="none" stroke="#4d4d4d" stroke-width="0.9"/>
<text transform="translate(567.00 443.80) scale(1 1.1)" font-size="11" text-anchor="middle" fill="#231f20" >2.7E-4</text>
<path d="M450.6,466.5 L450.6,464.3 L507.4,464.3 L507.4,466.5" fill="none" stroke="#4d4d4d" stroke-width="0.9"/>
<text transform="translate(478.30 460.90) scale(1 1.1)" font-size="11" text-anchor="middle" fill="#231f20" >1.4E-181</text>
<path d="M510.2,466.5 L510.2,464.3 L564.6,464.3 L564.6,466.5" fill="none" stroke="#4d4d4d" stroke-width="0.9"/>
<text transform="translate(537.40 460.90) scale(1 1.1)" font-size="11" text-anchor="middle" fill="#231f20" >3.2E-96</text>
<path d="M566.5,466.5 L566.5,464.3 L624.0,464.3 L624.0,466.5" fill="none" stroke="#4d4d4d" stroke-width="0.9"/>
<text transform="translate(595.50 460.90) scale(1 1.1)" font-size="11" text-anchor="middle" fill="#231f20" >1.8E-38</text>
<text x="452.80" y="595.00" font-size="11.2" text-anchor="end" fill="#231f20" transform="rotate(-31 452.80 595.00)">Ctrl</text>
<text x="513.00" y="595.80" font-size="10.8" text-anchor="end" fill="#231f20" font-style="italic" transform="rotate(-31 513.00 595.80)">UVSSA-KO</text>
<text x="570.90" y="595.80" font-size="10.8" text-anchor="end" fill="#231f20" font-style="italic" transform="rotate(-31 570.90 595.80)">UVSSA-KO</text>
<text x="577.30" y="606.10" font-size="11.2" text-anchor="end" fill="#231f20" transform="rotate(-31 577.30 606.10)">+UVSSA-WT</text>
<text x="629.50" y="596.00" font-size="10.8" text-anchor="end" fill="#231f20" font-style="italic" transform="rotate(-31 629.50 596.00)">UVSSA-KO</text>
<text x="637.00" y="606.50" font-size="11.2" text-anchor="end" fill="#231f20" transform="rotate(-31 637.00 606.50)">+UVSSA-V411A</text>
<text transform="translate(379 682.5) scale(0.95 1)" font-size="22.6" font-weight="bold" fill="#000">f</text>
<path d="M463.60,832.98 L463.78,832.02 L463.95,831.06 L464.12,830.10 L464.28,829.14 L464.45,828.19 L464.61,827.23 L464.76,826.27 L464.91,825.31 L465.06,824.35 L465.20,823.40 L465.34,822.44 L465.47,821.48 L465.61,820.52 L465.74,819.57 L465.88,818.61 L466.01,817.65 L466.14,816.69 L466.28,815.73 L466.42,814.78 L466.55,813.82 L466.69,812.86 L466.82,811.90 L466.96,810.95 L467.09,809.99 L467.23,809.03 L467.36,808.07 L467.49,807.11 L467.63,806.16 L467.76,805.20 L467.90,804.24 L468.04,803.28 L468.18,802.32 L468.32,801.37 L468.46,800.41 L468.61,799.45 L468.76,798.49 L468.91,797.54 L469.06,796.58 L469.22,795.62 L469.37,794.66 L469.53,793.70 L469.69,792.75 L469.85,791.79 L470.02,790.83 L470.18,789.87 L470.35,788.92 L470.52,787.96 L470.69,787.00 L470.86,786.04 L471.03,785.08 L471.20,784.13 L471.37,783.17 L471.55,782.21 L471.73,781.25 L471.90,780.30 L472.09,779.34 L472.28,778.38 L472.47,777.42 L472.67,776.46 L472.86,775.51 L473.05,774.55 L473.24,773.59 L473.42,772.63 L473.59,771.67 L473.78,770.72 L473.98,769.76 L474.19,768.80 L474.39,767.84 L474.57,766.89 L474.72,765.93 L474.83,764.97 L474.89,764.01 L474.90,763.05 L474.90,762.10 L474.89,761.14 L474.88,760.18 L474.88,759.22 L474.86,758.27 L474.85,757.31 L474.83,756.35 L474.81,755.39 L474.79,754.43 L474.68,753.48 L474.51,752.52 L474.26,751.56 L473.96,750.60 L473.63,749.65 L473.27,748.69 L472.91,747.73 L472.54,746.77 L472.20,745.81 L471.81,744.86 L471.37,743.90 L470.90,742.94 L470.41,741.98 L469.92,741.02 L469.44,740.07 L468.99,739.11 L468.58,738.15 L468.22,737.19 L467.91,736.24 L467.63,735.28 L467.36,734.32 L467.11,733.36 L466.85,732.40 L466.59,731.45 L466.31,730.49 L466.00,729.53 L465.66,728.57 L465.32,727.62 L465.00,726.66 L464.72,725.70 L464.48,724.74 L464.26,723.78 L464.05,722.83 L463.85,721.87 L463.68,720.91 L463.53,719.95 L463.40,719.00 L463.20,719.00 L463.07,719.95 L462.92,720.91 L462.75,721.87 L462.55,722.83 L462.34,723.78 L462.12,724.74 L461.88,725.70 L461.60,726.66 L461.28,727.62 L460.94,728.57 L460.60,729.53 L460.29,730.49 L460.01,731.45 L459.75,732.40 L459.49,733.36 L459.24,734.32 L458.97,735.28 L458.69,736.24 L458.38,737.19 L458.02,738.15 L457.61,739.11 L457.16,740.07 L456.68,741.02 L456.19,741.98 L455.70,742.94 L455.23,743.90 L454.79,744.86 L454.40,745.81 L454.06,746.77 L453.69,747.73 L453.33,748.69 L452.97,749.65 L452.64,750.60 L452.34,751.56 L452.09,752.52 L451.92,753.48 L451.81,754.43 L451.79,755.39 L451.77,756.35 L451.75,757.31 L451.74,758.27 L451.72,759.22 L451.72,760.18 L451.71,761.14 L451.70,762.10 L451.70,763.05 L451.71,764.01 L451.77,764.97 L451.88,765.93 L452.03,766.89 L452.21,767.84 L452.41,768.80 L452.62,769.76 L452.82,770.72 L453.01,771.67 L453.18,772.63 L453.36,773.59 L453.55,774.55 L453.74,775.51 L453.93,776.46 L454.13,777.42 L454.32,778.38 L454.51,779.34 L454.70,780.30 L454.87,781.25 L455.05,782.21 L455.23,783.17 L455.40,784.13 L455.57,785.08 L455.74,786.04 L455.91,787.00 L456.08,787.96 L456.25,788.92 L456.42,789.87 L456.58,790.83 L456.75,791.79 L456.91,792.75 L457.07,793.70 L457.23,794.66 L457.38,795.62 L457.54,796.58 L457.69,797.54 L457.84,798.49 L457.99,799.45 L458.14,800.41 L458.28,801.37 L458.42,802.32 L458.56,803.28 L458.70,804.24 L458.84,805.20 L458.97,806.16 L459.11,807.11 L459.24,808.07 L459.37,809.03 L459.51,809.99 L459.64,810.95 L459.78,811.90 L459.91,812.86 L460.05,813.82 L460.18,814.78 L460.32,815.73 L460.46,816.69 L460.59,817.65 L460.72,818.61 L460.86,819.57 L460.99,820.52 L461.13,821.48 L461.26,822.44 L461.40,823.40 L461.54,824.35 L461.69,825.31 L461.84,826.27 L461.99,827.23 L462.15,828.19 L462.32,829.14 L462.48,830.10 L462.65,831.06 L462.82,832.02 L463.00,832.98 Z" fill="#bc98c8" stroke="#7a6a80" stroke-width="0.6"/>
<line x1="463.30" y1="719.69" x2="463.30" y2="832.98" stroke="#6e6272" stroke-width="0.7" />
<path d="M511.70,832.98 L511.83,832.02 L511.96,831.06 L512.08,830.10 L512.21,829.14 L512.33,828.19 L512.45,827.23 L512.57,826.27 L512.69,825.31 L512.80,824.35 L512.91,823.40 L513.02,822.44 L513.13,821.48 L513.24,820.52 L513.35,819.57 L513.45,818.61 L513.56,817.65 L513.67,816.69 L513.78,815.73 L513.90,814.78 L514.01,813.82 L514.12,812.86 L514.23,811.90 L514.34,810.95 L514.45,809.99 L514.56,809.03 L514.67,808.07 L514.79,807.11 L514.90,806.16 L515.01,805.20 L515.13,804.24 L515.25,803.28 L515.37,802.32 L515.49,801.37 L515.61,800.41 L515.74,799.45 L515.86,798.49 L515.99,797.54 L516.13,796.58 L516.26,795.62 L516.40,794.66 L516.54,793.70 L516.68,792.75 L516.83,791.79 L516.97,790.83 L517.12,789.87 L517.27,788.92 L517.42,787.96 L517.58,787.00 L517.73,786.04 L517.89,785.08 L518.05,784.13 L518.21,783.17 L518.37,782.21 L518.53,781.25 L518.70,780.30 L518.87,779.34 L519.05,778.38 L519.23,777.42 L519.42,776.46 L519.61,775.51 L519.81,774.55 L520.01,773.59 L520.20,772.63 L520.40,771.67 L520.60,770.72 L520.79,769.76 L520.98,768.80 L521.16,767.84 L521.34,766.89 L521.50,765.93 L521.67,764.97 L521.82,764.01 L521.96,763.05 L522.11,762.10 L522.27,761.14 L522.43,760.18 L522.59,759.22 L522.74,758.27 L522.89,757.31 L523.02,756.35 L523.14,755.39 L523.24,754.43 L523.32,753.48 L523.37,752.52 L523.40,751.56 L523.39,750.60 L523.35,749.65 L523.28,748.69 L523.19,747.73 L523.07,746.77 L522.94,745.81 L522.78,744.86 L522.58,743.90 L522.16,742.94 L521.53,741.98 L520.77,741.02 L519.95,740.07 L519.13,739.11 L518.38,738.15 L517.77,737.19 L517.22,736.24 L516.69,735.28 L516.18,734.32 L515.69,733.36 L515.23,732.40 L514.81,731.45 L514.41,730.49 L514.04,729.53 L513.70,728.57 L513.37,727.62 L513.08,726.66 L512.81,725.70 L512.58,724.74 L512.36,723.78 L512.15,722.83 L511.95,721.87 L511.78,720.91 L511.63,719.95 L511.50,719.00 L511.30,719.00 L511.17,719.95 L511.02,720.91 L510.85,721.87 L510.65,722.83 L510.44,723.78 L510.22,724.74 L509.99,725.70 L509.72,726.66 L509.43,727.62 L509.10,728.57 L508.76,729.53 L508.39,730.49 L507.99,731.45 L507.57,732.40 L507.11,733.36 L506.62,734.32 L506.11,735.28 L505.58,736.24 L505.03,737.19 L504.42,738.15 L503.67,739.11 L502.85,740.07 L502.03,741.02 L501.27,741.98 L500.64,742.94 L500.22,743.90 L500.02,744.86 L499.86,745.81 L499.73,746.77 L499.61,747.73 L499.52,748.69 L499.45,749.65 L499.41,750.60 L499.40,751.56 L499.43,752.52 L499.48,753.48 L499.56,754.43 L499.66,755.39 L499.78,756.35 L499.91,757.31 L500.06,758.27 L500.21,759.22 L500.37,760.18 L500.53,761.14 L500.69,762.10 L500.84,763.05 L500.98,764.01 L501.13,764.97 L501.30,765.93 L501.46,766.89 L501.64,767.84 L501.82,768.80 L502.01,769.76 L502.20,770.72 L502.40,771.67 L502.60,772.63 L502.79,773.59 L502.99,774.55 L503.19,775.51 L503.38,776.46 L503.57,777.42 L503.75,778.38 L503.93,779.34 L504.10,780.30 L504.27,781.25 L504.43,782.21 L504.59,783.17 L504.75,784.13 L504.91,785.08 L505.07,786.04 L505.22,787.00 L505.38,787.96 L505.53,788.92 L505.68,789.87 L505.83,790.83 L505.97,791.79 L506.12,792.75 L506.26,793.70 L506.40,794.66 L506.54,795.62 L506.67,796.58 L506.81,797.54 L506.94,798.49 L507.06,799.45 L507.19,800.41 L507.31,801.37 L507.43,802.32 L507.55,803.28 L507.67,804.24 L507.79,805.20 L507.90,806.16 L508.01,807.11 L508.13,808.07 L508.24,809.03 L508.35,809.99 L508.46,810.95 L508.57,811.90 L508.68,812.86 L508.79,813.82 L508.90,814.78 L509.02,815.73 L509.13,816.69 L509.24,817.65 L509.35,818.61 L509.45,819.57 L509.56,820.52 L509.67,821.48 L509.78,822.44 L509.89,823.40 L510.00,824.35 L510.11,825.31 L510.23,826.27 L510.35,827.23 L510.47,828.19 L510.59,829.14 L510.72,830.10 L510.84,831.06 L510.97,832.02 L511.10,832.98 Z" fill="#bc98c8" stroke="#7a6a80" stroke-width="0.6"/>
<line x1="511.40" y1="719.69" x2="511.40" y2="832.98" stroke="#6e6272" stroke-width="0.7" />
<path d="M559.70,832.98 L559.83,832.02 L559.96,831.06 L560.08,830.10 L560.21,829.14 L560.33,828.19 L560.45,827.23 L560.57,826.27 L560.69,825.31 L560.80,824.35 L560.91,823.40 L561.02,822.44 L561.12,821.48 L561.23,820.52 L561.34,819.57 L561.44,818.61 L561.55,817.65 L561.67,816.69 L561.78,815.73 L561.90,814.78 L562.02,813.82 L562.14,812.86 L562.27,811.90 L562.39,810.95 L562.52,809.99 L562.64,809.03 L562.77,808.07 L562.90,807.11 L563.03,806.16 L563.16,805.20 L563.30,804.24 L563.44,803.28 L563.58,802.32 L563.72,801.37 L563.86,800.41 L564.01,799.45 L564.16,798.49 L564.31,797.54 L564.46,796.58 L564.62,795.62 L564.78,794.66 L564.94,793.70 L565.11,792.75 L565.27,791.79 L565.44,790.83 L565.62,789.87 L565.79,788.92 L565.97,787.96 L566.16,787.00 L566.34,786.04 L566.53,785.08 L566.72,784.13 L566.92,783.17 L567.11,782.21 L567.31,781.25 L567.52,780.30 L567.73,779.34 L567.96,778.38 L568.19,777.42 L568.42,776.46 L568.67,775.51 L568.91,774.55 L569.17,773.59 L569.42,772.63 L569.67,771.67 L569.93,770.72 L570.19,769.76 L570.44,768.80 L570.70,767.84 L570.95,766.89 L571.19,765.93 L571.43,764.97 L571.67,764.01 L571.90,763.05 L572.16,762.10 L572.43,761.14 L572.71,760.18 L573.00,759.22 L573.29,758.27 L573.57,757.31 L573.84,756.35 L574.09,755.39 L574.31,754.43 L574.50,753.48 L574.64,752.52 L574.75,751.56 L574.80,750.60 L574.79,749.65 L574.75,748.69 L574.67,747.73 L574.57,746.77 L574.44,745.81 L574.30,744.86 L574.13,743.90 L573.96,742.94 L573.75,741.98 L573.46,741.02 L573.07,740.07 L572.62,739.11 L572.11,738.15 L571.56,737.19 L570.98,736.24 L570.39,735.28 L569.76,734.32 L569.01,733.36 L568.17,732.40 L567.29,731.45 L566.41,730.49 L565.56,729.53 L564.78,728.57 L564.03,727.62 L563.28,726.66 L562.56,725.70 L561.90,724.74 L561.34,723.78 L560.87,722.83 L560.45,721.87 L560.07,720.91 L559.75,719.95 L559.50,719.00 L559.30,719.00 L559.05,719.95 L558.73,720.91 L558.35,721.87 L557.93,722.83 L557.46,723.78 L556.90,724.74 L556.24,725.70 L555.52,726.66 L554.77,727.62 L554.02,728.57 L553.24,729.53 L552.39,730.49 L551.51,731.45 L550.63,732.40 L549.79,733.36 L549.04,734.32 L548.41,735.28 L547.82,736.24 L547.24,737.19 L546.69,738.15 L546.18,739.11 L545.73,740.07 L545.34,741.02 L545.05,741.98 L544.84,742.94 L544.67,743.90 L544.50,744.86 L544.36,745.81 L544.23,746.77 L544.13,747.73 L544.05,748.69 L544.01,749.65 L544.00,750.60 L544.05,751.56 L544.16,752.52 L544.30,753.48 L544.49,754.43 L544.71,755.39 L544.96,756.35 L545.23,757.31 L545.51,758.27 L545.80,759.22 L546.09,760.18 L546.37,761.14 L546.64,762.10 L546.90,763.05 L547.13,764.01 L547.37,764.97 L547.61,765.93 L547.85,766.89 L548.10,767.84 L548.36,768.80 L548.61,769.76 L548.87,770.72 L549.13,771.67 L549.38,772.63 L549.63,773.59 L549.89,774.55 L550.13,775.51 L550.38,776.46 L550.61,777.42 L550.84,778.38 L551.07,779.34 L551.28,780.30 L551.49,781.25 L551.69,782.21 L551.88,783.17 L552.08,784.13 L552.27,785.08 L552.46,786.04 L552.64,787.00 L552.83,787.96 L553.01,788.92 L553.18,789.87 L553.36,790.83 L553.53,791.79 L553.69,792.75 L553.86,793.70 L554.02,794.66 L554.18,795.62 L554.34,796.58 L554.49,797.54 L554.64,798.49 L554.79,799.45 L554.94,800.41 L555.08,801.37 L555.22,802.32 L555.36,803.28 L555.50,804.24 L555.64,805.20 L555.77,806.16 L555.90,807.11 L556.03,808.07 L556.16,809.03 L556.28,809.99 L556.41,810.95 L556.53,811.90 L556.66,812.86 L556.78,813.82 L556.90,814.78 L557.02,815.73 L557.13,816.69 L557.25,817.65 L557.36,818.61 L557.46,819.57 L557.57,820.52 L557.68,821.48 L557.78,822.44 L557.89,823.40 L558.00,824.35 L558.11,825.31 L558.23,826.27 L558.35,827.23 L558.47,828.19 L558.59,829.14 L558.72,830.10 L558.84,831.06 L558.97,832.02 L559.10,832.98 Z" fill="#bc98c8" stroke="#7a6a80" stroke-width="0.6"/>
<line x1="559.40" y1="719.69" x2="559.40" y2="832.98" stroke="#6e6272" stroke-width="0.7" />
<path d="M608.20,832.98 L608.33,832.02 L608.46,831.06 L608.58,830.10 L608.71,829.14 L608.83,828.19 L608.95,827.23 L609.07,826.27 L609.19,825.31 L609.30,824.35 L609.41,823.40 L609.53,822.44 L609.64,821.48 L609.75,820.52 L609.85,819.57 L609.96,818.61 L610.07,817.65 L610.18,816.69 L610.28,815.73 L610.39,814.78 L610.50,813.82 L610.60,812.86 L610.70,811.90 L610.80,810.95 L610.89,809.99 L610.99,809.03 L611.09,808.07 L611.19,807.11 L611.29,806.16 L611.39,805.20 L611.49,804.24 L611.59,803.28 L611.70,802.32 L611.81,801.37 L611.92,800.41 L612.04,799.45 L612.16,798.49 L612.29,797.54 L612.43,796.58 L612.56,795.62 L612.71,794.66 L612.86,793.70 L613.01,792.75 L613.17,791.79 L613.33,790.83 L613.49,789.87 L613.65,788.92 L613.82,787.96 L613.99,787.00 L614.16,786.04 L614.33,785.08 L614.51,784.13 L614.68,783.17 L614.85,782.21 L615.03,781.25 L615.20,780.30 L615.38,779.34 L615.57,778.38 L615.77,777.42 L615.97,776.46 L616.18,775.51 L616.39,774.55 L616.60,773.59 L616.81,772.63 L617.01,771.67 L617.21,770.72 L617.41,769.76 L617.61,768.80 L617.79,767.84 L617.97,766.89 L618.13,765.93 L618.29,764.97 L618.43,764.01 L618.56,763.05 L618.69,762.10 L618.82,761.14 L618.96,760.18 L619.08,759.22 L619.19,758.27 L619.28,757.31 L619.35,756.35 L619.39,755.39 L619.40,754.43 L619.37,753.48 L619.32,752.52 L619.24,751.56 L619.15,750.60 L619.03,749.65 L618.90,748.69 L618.76,747.73 L618.61,746.77 L618.45,745.81 L618.22,744.86 L617.91,743.90 L617.54,742.94 L617.12,741.98 L616.67,741.02 L616.19,740.07 L615.72,739.11 L615.25,738.15 L614.80,737.19 L614.33,736.24 L613.84,735.28 L613.33,734.32 L612.82,733.36 L612.33,732.40 L611.85,731.45 L611.41,730.49 L611.00,729.53 L610.59,728.57 L610.21,727.62 L609.85,726.66 L609.53,725.70 L609.26,724.74 L609.00,723.78 L608.75,722.83 L608.53,721.87 L608.32,720.91 L608.15,719.95 L608.00,719.00 L607.80,719.00 L607.65,719.95 L607.48,720.91 L607.27,721.87 L607.05,722.83 L606.80,723.78 L606.54,724.74 L606.27,725.70 L605.95,726.66 L605.59,727.62 L605.21,728.57 L604.80,729.53 L604.39,730.49 L603.95,731.45 L603.47,732.40 L602.98,733.36 L602.47,734.32 L601.96,735.28 L601.47,736.24 L601.00,737.19 L600.55,738.15 L600.08,739.11 L599.61,740.07 L599.13,741.02 L598.68,741.98 L598.26,742.94 L597.89,743.90 L597.58,744.86 L597.35,745.81 L597.19,746.77 L597.04,747.73 L596.90,748.69 L596.77,749.65 L596.65,750.60 L596.56,751.56 L596.48,752.52 L596.43,753.48 L596.40,754.43 L596.41,755.39 L596.45,756.35 L596.52,757.31 L596.61,758.27 L596.72,759.22 L596.84,760.18 L596.98,761.14 L597.11,762.10 L597.24,763.05 L597.37,764.01 L597.51,764.97 L597.67,765.93 L597.83,766.89 L598.01,767.84 L598.19,768.80 L598.39,769.76 L598.59,770.72 L598.79,771.67 L598.99,772.63 L599.20,773.59 L599.41,774.55 L599.62,775.51 L599.83,776.46 L600.03,777.42 L600.23,778.38 L600.42,779.34 L600.60,780.30 L600.77,781.25 L600.95,782.21 L601.12,783.17 L601.29,784.13 L601.47,785.08 L601.64,786.04 L601.81,787.00 L601.98,787.96 L602.15,788.92 L602.31,789.87 L602.47,790.83 L602.63,791.79 L602.79,792.75 L602.94,793.70 L603.09,794.66 L603.24,795.62 L603.37,796.58 L603.51,797.54 L603.64,798.49 L603.76,799.45 L603.88,800.41 L603.99,801.37 L604.10,802.32 L604.21,803.28 L604.31,804.24 L604.41,805.20 L604.51,806.16 L604.61,807.11 L604.71,808.07 L604.81,809.03 L604.91,809.99 L605.00,810.95 L605.10,811.90 L605.20,812.86 L605.30,813.82 L605.41,814.78 L605.52,815.73 L605.62,816.69 L605.73,817.65 L605.84,818.61 L605.95,819.57 L606.05,820.52 L606.16,821.48 L606.27,822.44 L606.39,823.40 L606.50,824.35 L606.61,825.31 L606.73,826.27 L606.85,827.23 L606.97,828.19 L607.09,829.14 L607.22,830.10 L607.34,831.06 L607.47,832.02 L607.60,832.98 Z" fill="#bc98c8" stroke="#7a6a80" stroke-width="0.6"/>
<line x1="607.90" y1="719.69" x2="607.90" y2="832.98" stroke="#6e6272" stroke-width="0.7" />
<line x1="438.70" y1="746.10" x2="633.50" y2="746.10" stroke="#000" stroke-width="1.1" stroke-dasharray="3.4,4.3"/>
<rect x="462.2" y="752.01" width="2.2" height="35.79" fill="#404040"/>
<rect x="462.0" y="765.24" width="2.6" height="1.4" fill="#fff"/>
<text transform="translate(465.00 770.90) scale(1 1.09)" font-size="10.75" text-anchor="start" fill="#231f20" >-0.571</text>
<rect x="510.29999999999995" y="750.27" width="2.2" height="32.32" fill="#404040"/>
<rect x="510.09999999999997" y="762.95" width="2.6" height="1.4" fill="#fff"/>
<text transform="translate(513.00 768.80) scale(1 1.09)" font-size="10.75" text-anchor="start" fill="#231f20" >-0.505</text>
<rect x="558.3" y="747.49" width="2.2" height="26.06" fill="#404040"/>
<rect x="558.1" y="757.35" width="2.6" height="1.4" fill="#fff"/>
<text transform="translate(560.80 762.70) scale(1 1.09)" font-size="10.75" text-anchor="start" fill="#231f20" >-0.344</text>
<rect x="606.8" y="753.05" width="2.2" height="36.14" fill="#404040"/>
<rect x="606.6" y="767.19" width="2.6" height="1.4" fill="#fff"/>
<text transform="translate(610.00 772.40) scale(1 1.09)" font-size="10.75" text-anchor="start" fill="#231f20" >-0.627</text>
<line x1="438.70" y1="718.30" x2="438.70" y2="832.98" stroke="#6a6a6a" stroke-width="1.3" />
<line x1="438.70" y1="832.98" x2="632.20" y2="832.98" stroke="#6a6a6a" stroke-width="1.3" />
<line x1="435.20" y1="728.73" x2="438.70" y2="728.73" stroke="#6a6a6a" stroke-width="1" />
<text transform="translate(433.90 732.83) scale(1 1.06)" font-size="11.2" text-anchor="end" fill="#231f20" >0.5</text>
<line x1="435.20" y1="746.10" x2="438.70" y2="746.10" stroke="#6a6a6a" stroke-width="1" />
<text transform="translate(433.90 750.20) scale(1 1.06)" font-size="11.2" text-anchor="end" fill="#231f20" >0.0</text>
<line x1="435.20" y1="763.48" x2="438.70" y2="763.48" stroke="#6a6a6a" stroke-width="1" />
<text transform="translate(433.90 767.58) scale(1 1.06)" font-size="11.2" text-anchor="end" fill="#231f20" >−0.5</text>
<line x1="435.20" y1="780.85" x2="438.70" y2="780.85" stroke="#6a6a6a" stroke-width="1" />
<text transform="translate(433.90 784.95) scale(1 1.06)" font-size="11.2" text-anchor="end" fill="#231f20" >−1.0</text>
<line x1="435.20" y1="798.23" x2="438.70" y2="798.23" stroke="#6a6a6a" stroke-width="1" />
<text transform="translate(433.90 802.33) scale(1 1.06)" font-size="11.2" text-anchor="end" fill="#231f20" >−1.5</text>
<line x1="435.20" y1="815.60" x2="438.70" y2="815.60" stroke="#6a6a6a" stroke-width="1" />
<text transform="translate(433.90 819.70) scale(1 1.06)" font-size="11.2" text-anchor="end" fill="#231f20" >−2.0</text>
<line x1="435.20" y1="832.98" x2="438.70" y2="832.98" stroke="#6a6a6a" stroke-width="1" />
<text transform="translate(433.90 837.08) scale(1 1.06)" font-size="11.2" text-anchor="end" fill="#231f20" >−2.5</text>
<line x1="436.70" y1="829.50" x2="438.70" y2="829.50" stroke="#6a6a6a" stroke-width="0.8" />
<line x1="436.70" y1="826.02" x2="438.70" y2="826.02" stroke="#6a6a6a" stroke-width="0.8" />
<line x1="436.70" y1="822.55" x2="438.70" y2="822.55" stroke="#6a6a6a" stroke-width="0.8" />
<line x1="436.70" y1="819.08" x2="438.70" y2="819.08" stroke="#6a6a6a" stroke-width="0.8" />
<line x1="436.70" y1="812.12" x2="438.70" y2="812.12" stroke="#6a6a6a" stroke-width="0.8" />
<line x1="436.70" y1="808.65" x2="438.70" y2="808.65" stroke="#6a6a6a" stroke-width="0.8" />
<line x1="436.70" y1="805.18" x2="438.70" y2="805.18" stroke="#6a6a6a" stroke-width="0.8" />
<line x1="436.70" y1="801.70" x2="438.70" y2="801.70" stroke="#6a6a6a" stroke-width="0.8" />
<line x1="436.70" y1="794.75" x2="438.70" y2="794.75" stroke="#6a6a6a" stroke-width="0.8" />
<line x1="436.70" y1="791.27" x2="438.70" y2="791.27" stroke="#6a6a6a" stroke-width="0.8" />
<line x1="436.70" y1="787.80" x2="438.70" y2="787.80" stroke="#6a6a6a" stroke-width="0.8" />
<line x1="436.70" y1="784.33" x2="438.70" y2="784.33" stroke="#6a6a6a" stroke-width="0.8" />
<line x1="436.70" y1="777.38" x2="438.70" y2="777.38" stroke="#6a6a6a" stroke-width="0.8" />
<line x1="436.70" y1="773.90" x2="438.70" y2="773.90" stroke="#6a6a6a" stroke-width="0.8" />
<line x1="436.70" y1="770.43" x2="438.70" y2="770.43" stroke="#6a6a6a" stroke-width="0.8" />
<line x1="436.70" y1="766.95" x2="438.70" y2="766.95" stroke="#6a6a6a" stroke-width="0.8" />
<line x1="436.70" y1="760.00" x2="438.70" y2="760.00" stroke="#6a6a6a" stroke-width="0.8" />
<line x1="436.70" y1="756.52" x2="438.70" y2="756.52" stroke="#6a6a6a" stroke-width="0.8" />
<line x1="436.70" y1="753.05" x2="438.70" y2="753.05" stroke="#6a6a6a" stroke-width="0.8" />
<line x1="436.70" y1="749.58" x2="438.70" y2="749.58" stroke="#6a6a6a" stroke-width="0.8" />
<line x1="436.70" y1="742.62" x2="438.70" y2="742.62" stroke="#6a6a6a" stroke-width="0.8" />
<line x1="436.70" y1="739.15" x2="438.70" y2="739.15" stroke="#6a6a6a" stroke-width="0.8" />
<line x1="436.70" y1="735.68" x2="438.70" y2="735.68" stroke="#6a6a6a" stroke-width="0.8" />
<line x1="436.70" y1="732.20" x2="438.70" y2="732.20" stroke="#6a6a6a" stroke-width="0.8" />
<line x1="436.70" y1="725.25" x2="438.70" y2="725.25" stroke="#6a6a6a" stroke-width="0.8" />
<line x1="436.70" y1="721.77" x2="438.70" y2="721.77" stroke="#6a6a6a" stroke-width="0.8" />
<line x1="463.30" y1="829.98" x2="463.30" y2="832.98" stroke="#7a6a80" stroke-width="1" />
<line x1="511.40" y1="829.98" x2="511.40" y2="832.98" stroke="#7a6a80" stroke-width="1" />
<line x1="559.40" y1="829.98" x2="559.40" y2="832.98" stroke="#7a6a80" stroke-width="1" />
<line x1="607.90" y1="829.98" x2="607.90" y2="832.98" stroke="#7a6a80" stroke-width="1" />
<text x="399.70" y="777.50" font-size="11.2" text-anchor="middle" fill="#231f20" transform="rotate(-90 399.70 777.50)" >Pol II retention index</text>
<path d="M463.3,715.1 L463.3,712.9 L511.4,712.9 L511.4,715.1" fill="none" stroke="#4d4d4d" stroke-width="0.9"/>
<text transform="translate(487.00 708.90) scale(1 1.16)" font-size="9.2" text-anchor="middle" fill="#231f20" >3.3E-24</text>
<path d="M512.8,715.6 L512.8,713.4 L559.4,713.4 L559.4,715.6" fill="none" stroke="#4d4d4d" stroke-width="0.9"/>
<text transform="translate(535.50 708.50) scale(1 1.16)" font-size="9.2" text-anchor="middle" fill="#231f20" >2.9E-108</text>
<path d="M511.4,695.6 L511.4,693.4 L607.9,693.4 L607.9,695.6" fill="none" stroke="#4d4d4d" stroke-width="0.9"/>
<text transform="translate(559.80 689.70) scale(1 1.16)" font-size="9.2" text-anchor="middle" fill="#231f20" >1.3E-70</text>
<text x="468.50" y="844.30" font-size="11.2" text-anchor="end" fill="#231f20" font-style="italic" transform="rotate(-35 468.50 844.30)">UVSSA-KO</text>
<text x="514.70" y="843.60" font-size="11.2" text-anchor="end" fill="#231f20" font-style="italic" transform="rotate(-35 514.70 843.60)">UVSSA-KO</text>
<text x="521.50" y="853.00" font-size="11.2" text-anchor="end" fill="#231f20" transform="rotate(-35 521.50 853.00)">+UVSSA-V411A</text>
<text x="563.80" y="843.90" font-size="11.2" text-anchor="end" fill="#231f20" font-style="italic" transform="rotate(-35 563.80 843.90)">UVSSA-KO</text>
<text x="569.50" y="853.00" font-size="11.2" text-anchor="end" fill="#231f20" transform="rotate(-35 569.50 853.00)">+UVSSA-V411A +p97i</text>
<text x="611.50" y="844.80" font-size="11.2" text-anchor="end" fill="#231f20" font-style="italic" transform="rotate(-35 611.50 844.80)">UVSSA-KO</text>
<text x="619.50" y="853.00" font-size="11.2" text-anchor="end" fill="#231f20" transform="rotate(-35 619.50 853.00)">+UVSSA-V411A +USP7i</text>
</svg></body></html>
